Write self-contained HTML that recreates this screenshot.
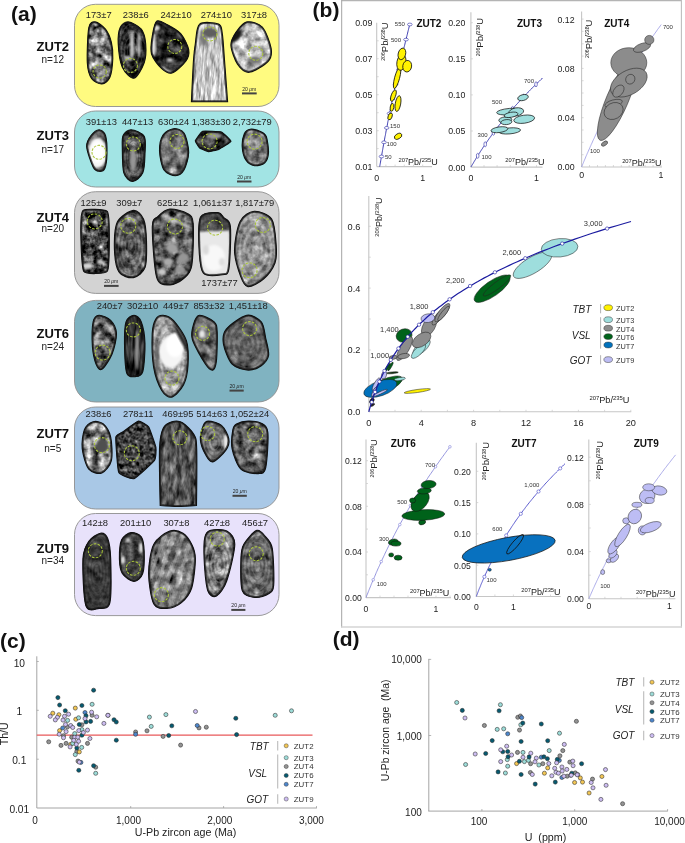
<!DOCTYPE html>
<html><head><meta charset="utf-8"><title>Zircon U-Pb figure</title>
<style>
html,body{margin:0;padding:0;background:#fff;}
body{width:685px;height:843px;overflow:hidden;}
svg{display:block;font-family:"Liberation Sans", sans-serif;will-change:transform;}
</style></head><body>
<svg width="685" height="843" viewBox="0 0 685 843">
<rect width="685" height="843" fill="#fff"/>
<rect x="74.5" y="4.3" width="204.5" height="102.2" rx="21" ry="21" fill="#FFFB80" stroke="#8e8e8e" stroke-width="0.9"/>
<rect x="74.5" y="111" width="204.5" height="76" rx="21" ry="21" fill="#A2E4E4" stroke="#8e8e8e" stroke-width="0.9"/>
<rect x="74.5" y="191.7" width="204.5" height="101.69999999999999" rx="21" ry="21" fill="#D3D3D3" stroke="#8e8e8e" stroke-width="0.9"/>
<rect x="74.5" y="300.4" width="204.5" height="101.60000000000002" rx="21" ry="21" fill="#80B3C1" stroke="#8e8e8e" stroke-width="0.9"/>
<rect x="74.5" y="407" width="204.5" height="102" rx="21" ry="21" fill="#A9C8E6" stroke="#8e8e8e" stroke-width="0.9"/>
<rect x="74.5" y="513.5" width="204.5" height="102.10000000000002" rx="21" ry="21" fill="#E8E2FB" stroke="#8e8e8e" stroke-width="0.9"/>
<text x="52.8" y="51.4" font-size="13" text-anchor="middle" font-weight="bold" font-style="normal" fill="#111" >ZUT2</text>
<text x="52.8" y="63.0" font-size="10" text-anchor="middle" font-weight="normal" font-style="normal" fill="#222" >n=12</text>
<text x="52.8" y="139.6" font-size="13" text-anchor="middle" font-weight="bold" font-style="normal" fill="#111" >ZUT3</text>
<text x="52.8" y="152.6" font-size="10" text-anchor="middle" font-weight="normal" font-style="normal" fill="#222" >n=17</text>
<text x="52.8" y="222.3" font-size="13" text-anchor="middle" font-weight="bold" font-style="normal" fill="#111" >ZUT4</text>
<text x="52.8" y="232.1" font-size="10" text-anchor="middle" font-weight="normal" font-style="normal" fill="#222" >n=20</text>
<text x="52.8" y="337.7" font-size="13" text-anchor="middle" font-weight="bold" font-style="normal" fill="#111" >ZUT6</text>
<text x="52.8" y="349.6" font-size="10" text-anchor="middle" font-weight="normal" font-style="normal" fill="#222" >n=24</text>
<text x="52.8" y="438.1" font-size="13" text-anchor="middle" font-weight="bold" font-style="normal" fill="#111" >ZUT7</text>
<text x="52.8" y="451.5" font-size="10" text-anchor="middle" font-weight="normal" font-style="normal" fill="#222" >n=5</text>
<text x="52.8" y="552.6" font-size="13" text-anchor="middle" font-weight="bold" font-style="normal" fill="#111" >ZUT9</text>
<text x="52.8" y="564.1" font-size="10" text-anchor="middle" font-weight="normal" font-style="normal" fill="#222" >n=34</text>
<text x="11.0" y="20.6" font-size="21" text-anchor="start" font-weight="bold" font-style="normal" fill="#111" >(a)</text>
<defs><filter id="bl" x="-20%" y="-20%" width="140%" height="140%"><feGaussianBlur stdDeviation="1.1"/></filter><filter id="bl2" x="-20%" y="-20%" width="140%" height="140%"><feGaussianBlur stdDeviation="0.5"/></filter><filter id="tz0" x="0" y="0" width="100%" height="100%" color-interpolation-filters="sRGB"><feTurbulence type="fractalNoise" baseFrequency="0.13 0.13" numOctaves="3" seed="3"/><feColorMatrix type="matrix" values="0.33 0.33 0.33 0 0 0.33 0.33 0.33 0 0 0.33 0.33 0.33 0 0 0 0 0 0 1"/><feComponentTransfer><feFuncR type="linear" slope="2.832" intercept="-0.938"/><feFuncG type="linear" slope="2.832" intercept="-0.938"/><feFuncB type="linear" slope="2.832" intercept="-0.938"/></feComponentTransfer></filter><clipPath id="zc0"><path d="M95.3,21.9 C97.8,22.1 103.1,26.1 105.5,29.2 C107.9,32.3 110.3,37.9 111.4,42.3 C112.5,46.7 113.0,53.1 112.8,58.4 C112.6,63.7 111.5,73.6 109.9,77.4 C108.3,81.2 104.6,83.7 101.9,83.9 C99.2,84.1 93.9,82.0 91.7,78.8 C89.5,75.6 87.7,70.5 87.3,62.8 C86.9,55.1 87.6,33.8 88.8,27.7 C90.0,21.6 92.8,21.7 95.3,21.9 Z"/></clipPath><filter id="tz1" x="0" y="0" width="100%" height="100%" color-interpolation-filters="sRGB"><feTurbulence type="fractalNoise" baseFrequency="0.13 0.13" numOctaves="3" seed="10"/><feColorMatrix type="matrix" values="0.33 0.33 0.33 0 0 0.33 0.33 0.33 0 0 0.33 0.33 0.33 0 0 0 0 0 0 1"/><feComponentTransfer><feFuncR type="linear" slope="1.961" intercept="-0.765"/><feFuncG type="linear" slope="1.961" intercept="-0.765"/><feFuncB type="linear" slope="1.961" intercept="-0.765"/></feComponentTransfer></filter><clipPath id="zc1"><path d="M128.2,21.9 C131.4,22.1 138.7,25.9 141.3,29.2 C143.9,32.5 145.3,38.8 145.7,43.8 C146.1,48.8 146.0,57.7 144.2,62.8 C142.4,67.9 137.3,77.4 134.0,78.1 C130.7,78.8 124.7,72.3 122.3,67.2 C119.9,62.1 118.5,49.7 118.2,43.8 C117.9,37.9 118.6,31.0 120.1,27.7 C121.6,24.4 125.0,21.7 128.2,21.9 Z"/></clipPath><filter id="tz2" x="0" y="0" width="100%" height="100%" color-interpolation-filters="sRGB"><feTurbulence type="fractalNoise" baseFrequency="0.13 0.13" numOctaves="3" seed="17"/><feColorMatrix type="matrix" values="0.33 0.33 0.33 0 0 0.33 0.33 0.33 0 0 0.33 0.33 0.33 0 0 0 0 0 0 1"/><feComponentTransfer><feFuncR type="linear" slope="1.307" intercept="-0.477"/><feFuncG type="linear" slope="1.307" intercept="-0.477"/><feFuncB type="linear" slope="1.307" intercept="-0.477"/></feComponentTransfer></filter><clipPath id="zc2"><path d="M156.6,21.2 C158.9,19.4 163.9,22.9 167.5,24.8 C171.1,26.7 177.5,29.9 180.7,33.6 C183.9,37.3 187.9,45.4 188.7,49.6 C189.5,53.8 188.3,57.8 185.8,61.3 C183.3,64.8 175.5,71.9 171.9,73.0 C168.3,74.1 164.8,71.4 161.7,68.6 C158.6,65.8 152.9,58.8 151.5,54.0 C150.1,49.2 151.4,41.4 152.2,36.5 C153.0,31.6 154.3,23.0 156.6,21.2 Z"/></clipPath><filter id="tz3" x="0" y="0" width="100%" height="100%" color-interpolation-filters="sRGB"><feTurbulence type="fractalNoise" baseFrequency="0.35 0.06" numOctaves="3" seed="24"/><feColorMatrix type="matrix" values="0.33 0.33 0.33 0 0 0.33 0.33 0.33 0 0 0.33 0.33 0.33 0 0 0 0 0 0 1"/><feComponentTransfer><feFuncR type="linear" slope="1.961" intercept="-0.196"/><feFuncG type="linear" slope="1.961" intercept="-0.196"/><feFuncB type="linear" slope="1.961" intercept="-0.196"/></feComponentTransfer></filter><clipPath id="zc3"><path d="M199.6,24.1 C203.1,21.1 215.2,22.7 218.6,24.1 C222.0,25.5 221.4,28.2 222.3,33.6 C223.2,39.0 223.7,49.8 224.5,60.0 C225.3,70.2 227.6,101.8 227.6,101.8 C227.6,101.8 191.4,101.8 191.4,101.8 C191.4,101.8 192.9,68.7 193.5,60.0 C194.1,51.3 194.4,49.2 195.3,43.8 C196.2,38.4 196.1,27.1 199.6,24.1 Z"/></clipPath><filter id="tz4" x="0" y="0" width="100%" height="100%" color-interpolation-filters="sRGB"><feTurbulence type="fractalNoise" baseFrequency="0.13 0.13" numOctaves="3" seed="31"/><feColorMatrix type="matrix" values="0.33 0.33 0.33 0 0 0.33 0.33 0.33 0 0 0.33 0.33 0.33 0 0 0 0 0 0 1"/><feComponentTransfer><feFuncR type="linear" slope="1.961" intercept="-0.196"/><feFuncG type="linear" slope="1.961" intercept="-0.196"/><feFuncB type="linear" slope="1.961" intercept="-0.196"/></feComponentTransfer></filter><clipPath id="zc4"><path d="M247.0,21.9 C250.9,21.1 258.7,23.1 262.3,27.0 C265.9,30.9 270.2,43.1 271.1,48.2 C272.0,53.3 271.5,57.7 268.2,61.3 C264.9,64.9 253.8,71.9 249.2,72.3 C244.6,72.7 240.2,68.2 237.5,64.2 C234.8,60.2 231.1,50.1 230.9,45.3 C230.7,40.5 233.7,35.6 236.1,32.1 C238.5,28.6 243.1,22.7 247.0,21.9 Z"/></clipPath><filter id="tz5" x="0" y="0" width="100%" height="100%" color-interpolation-filters="sRGB"><feTurbulence type="fractalNoise" baseFrequency="0.13 0.13" numOctaves="3" seed="38"/><feColorMatrix type="matrix" values="0.33 0.33 0.33 0 0 0.33 0.33 0.33 0 0 0.33 0.33 0.33 0 0 0 0 0 0 1"/><feComponentTransfer><feFuncR type="linear" slope="1.307" intercept="-0.222"/><feFuncG type="linear" slope="1.307" intercept="-0.222"/><feFuncB type="linear" slope="1.307" intercept="-0.222"/></feComponentTransfer></filter><clipPath id="zc5"><path d="M99.0,129.7 C101.2,129.7 104.3,131.9 105.5,135.5 C106.7,139.1 107.1,148.9 107.0,153.8 C106.9,158.7 106.0,165.8 104.8,168.4 C103.6,171.0 100.8,171.5 99.0,171.3 C97.2,171.1 95.0,170.6 93.1,166.9 C91.2,163.2 86.9,151.2 86.6,146.5 C86.3,141.8 89.1,138.0 91.0,135.5 C92.9,133.0 96.8,129.7 99.0,129.7 Z"/></clipPath><filter id="tz6" x="0" y="0" width="100%" height="100%" color-interpolation-filters="sRGB"><feTurbulence type="fractalNoise" baseFrequency="0.13 0.13" numOctaves="3" seed="45"/><feColorMatrix type="matrix" values="0.33 0.33 0.33 0 0 0.33 0.33 0.33 0 0 0.33 0.33 0.33 0 0 0 0 0 0 1"/><feComponentTransfer><feFuncR type="linear" slope="1.743" intercept="-0.577"/><feFuncG type="linear" slope="1.743" intercept="-0.577"/><feFuncB type="linear" slope="1.743" intercept="-0.577"/></feComponentTransfer></filter><clipPath id="zc6"><path d="M131.1,129.7 C134.3,129.8 142.1,132.7 144.2,136.3 C146.3,139.9 145.2,148.3 145.0,153.8 C144.8,159.3 144.7,168.6 142.8,172.8 C140.9,177.0 135.4,181.5 132.6,181.5 C129.8,181.5 125.3,177.8 123.8,172.8 C122.3,167.8 122.4,153.6 122.3,148.0 C122.2,142.4 121.8,138.2 123.1,135.5 C124.4,132.8 127.9,129.6 131.1,129.7 Z"/></clipPath><filter id="tz7" x="0" y="0" width="100%" height="100%" color-interpolation-filters="sRGB"><feTurbulence type="fractalNoise" baseFrequency="0.13 0.13" numOctaves="3" seed="52"/><feColorMatrix type="matrix" values="0.33 0.33 0.33 0 0 0.33 0.33 0.33 0 0 0.33 0.33 0.33 0 0 0 0 0 0 1"/><feComponentTransfer><feFuncR type="linear" slope="1.525" intercept="-0.312"/><feFuncG type="linear" slope="1.525" intercept="-0.312"/><feFuncB type="linear" slope="1.525" intercept="-0.312"/></feComponentTransfer></filter><clipPath id="zc7"><path d="M173.4,128.7 C176.6,128.4 181.7,129.5 184.0,133.0 C186.3,136.5 188.7,146.8 188.7,152.3 C188.7,157.9 186.0,166.5 184.0,170.0 C182.0,173.5 178.5,175.7 175.5,175.7 C172.5,175.7 166.4,173.7 164.0,170.0 C161.6,166.3 159.7,156.2 159.5,150.9 C159.3,145.7 160.9,138.3 163.0,135.0 C165.1,131.7 170.2,129.0 173.4,128.7 Z"/></clipPath><filter id="tz8" x="0" y="0" width="100%" height="100%" color-interpolation-filters="sRGB"><feTurbulence type="fractalNoise" baseFrequency="0.13 0.13" numOctaves="3" seed="59"/><feColorMatrix type="matrix" values="0.33 0.33 0.33 0 0 0.33 0.33 0.33 0 0 0.33 0.33 0.33 0 0 0 0 0 0 1"/><feComponentTransfer><feFuncR type="linear" slope="1.743" intercept="-0.636"/><feFuncG type="linear" slope="1.743" intercept="-0.636"/><feFuncB type="linear" slope="1.743" intercept="-0.636"/></feComponentTransfer></filter><clipPath id="zc8"><path d="M195.3,140.7 C195.5,139.9 201.3,131.6 202.6,131.2 C203.9,130.8 220.1,131.4 221.5,131.9 C222.9,132.4 231.1,140.5 231.0,141.4 C230.9,142.3 219.7,148.9 218.6,149.4 C217.5,149.9 209.3,151.7 208.4,151.6 C207.5,151.5 200.3,148.5 199.6,148.0 C198.9,147.5 195.2,141.5 195.3,140.7 Z"/></clipPath><filter id="tz9" x="0" y="0" width="100%" height="100%" color-interpolation-filters="sRGB"><feTurbulence type="fractalNoise" baseFrequency="0.13 0.13" numOctaves="3" seed="66"/><feColorMatrix type="matrix" values="0.33 0.33 0.33 0 0 0.33 0.33 0.33 0 0 0.33 0.33 0.33 0 0 0 0 0 0 1"/><feComponentTransfer><feFuncR type="linear" slope="1.743" intercept="-0.381"/><feFuncG type="linear" slope="1.743" intercept="-0.381"/><feFuncB type="linear" slope="1.743" intercept="-0.381"/></feComponentTransfer></filter><clipPath id="zc9"><path d="M250.2,129.2 C252.6,128.9 258.0,130.3 260.4,131.4 C262.8,132.5 265.1,133.3 266.3,136.5 C267.5,139.7 268.7,148.7 268.5,152.6 C268.3,156.5 266.9,160.8 264.8,162.8 C262.7,164.8 257.4,166.1 254.6,165.7 C251.8,165.3 247.7,162.8 245.8,159.9 C243.9,157.1 242.4,150.6 242.2,146.7 C242.0,142.8 243.2,136.2 244.4,133.6 C245.6,131.0 247.8,129.5 250.2,129.2 Z"/></clipPath><filter id="tz10" x="0" y="0" width="100%" height="100%" color-interpolation-filters="sRGB"><feTurbulence type="fractalNoise" baseFrequency="0.16 0.16" numOctaves="3" seed="73"/><feColorMatrix type="matrix" values="0.33 0.33 0.33 0 0 0.33 0.33 0.33 0 0 0.33 0.33 0.33 0 0 0 0 0 0 1"/><feComponentTransfer><feFuncR type="linear" slope="2.397" intercept="-0.904"/><feFuncG type="linear" slope="2.397" intercept="-0.904"/><feFuncB type="linear" slope="2.397" intercept="-0.904"/></feComponentTransfer></filter><clipPath id="zc10"><path d="M83.0,210.4 C85.2,208.5 104.9,209.2 107.1,211.2 C109.3,213.1 109.3,228.8 109.3,233.8 C109.3,238.8 109.6,267.9 107.5,271.0 C105.4,274.1 86.0,274.6 83.8,271.5 C81.6,268.4 80.9,238.9 80.8,233.8 C80.7,228.7 80.8,212.3 83.0,210.4 Z"/></clipPath><filter id="tz11" x="0" y="0" width="100%" height="100%" color-interpolation-filters="sRGB"><feTurbulence type="fractalNoise" baseFrequency="0.13 0.13" numOctaves="3" seed="80"/><feColorMatrix type="matrix" values="0.33 0.33 0.33 0 0 0.33 0.33 0.33 0 0 0.33 0.33 0.33 0 0 0 0 0 0 1"/><feComponentTransfer><feFuncR type="linear" slope="1.961" intercept="-0.608"/><feFuncG type="linear" slope="1.961" intercept="-0.608"/><feFuncB type="linear" slope="1.961" intercept="-0.608"/></feComponentTransfer></filter><clipPath id="zc11"><path d="M133.4,210.4 C137.3,210.0 141.6,214.6 143.6,219.2 C145.6,223.8 146.3,233.9 146.5,241.1 C146.7,248.3 147.1,261.9 145.1,267.4 C143.1,272.9 137.3,276.9 133.4,277.6 C129.5,278.3 121.6,276.2 118.8,271.8 C116.0,267.4 114.6,255.9 114.4,248.4 C114.2,240.9 114.5,227.8 117.3,222.1 C120.1,216.4 129.5,210.8 133.4,210.4 Z"/></clipPath><filter id="tz12" x="0" y="0" width="100%" height="100%" color-interpolation-filters="sRGB"><feTurbulence type="fractalNoise" baseFrequency="0.13 0.13" numOctaves="3" seed="87"/><feColorMatrix type="matrix" values="0.33 0.33 0.33 0 0 0.33 0.33 0.33 0 0 0.33 0.33 0.33 0 0 0 0 0 0 1"/><feComponentTransfer><feFuncR type="linear" slope="1.961" intercept="-0.608"/><feFuncG type="linear" slope="1.961" intercept="-0.608"/><feFuncB type="linear" slope="1.961" intercept="-0.608"/></feComponentTransfer></filter><clipPath id="zc12"><path d="M169.8,209.0 C174.2,208.6 183.8,211.2 187.3,213.4 C190.8,215.6 192.5,215.7 193.2,223.6 C193.9,231.5 193.2,257.6 191.7,265.9 C190.2,274.2 186.3,276.1 183.0,279.0 C179.7,281.9 173.7,285.1 169.8,284.9 C165.9,284.7 159.3,286.4 156.7,277.6 C154.1,268.8 152.1,235.7 152.3,226.5 C152.5,217.3 155.5,218.9 158.1,216.3 C160.7,213.7 165.4,209.4 169.8,209.0 Z"/></clipPath><filter id="tz13" x="0" y="0" width="100%" height="100%" color-interpolation-filters="sRGB"><feTurbulence type="fractalNoise" baseFrequency="0.13 0.13" numOctaves="3" seed="94"/><feColorMatrix type="matrix" values="0.33 0.33 0.33 0 0 0.33 0.33 0.33 0 0 0.33 0.33 0.33 0 0 0 0 0 0 1"/><feComponentTransfer><feFuncR type="linear" slope="1.089" intercept="-0.251"/><feFuncG type="linear" slope="1.089" intercept="-0.251"/><feFuncB type="linear" slope="1.089" intercept="-0.251"/></feComponentTransfer></filter><clipPath id="zc13"><path d="M200.5,217.0 C203.3,211.6 214.5,212.5 218.0,212.6 C221.5,212.7 221.9,215.6 223.8,217.7 C225.7,219.8 229.6,218.8 230.4,226.5 C231.2,234.2 230.1,261.6 228.9,268.8 C227.7,276.0 226.2,274.0 222.4,274.7 C218.6,275.4 206.9,277.1 203.4,273.2 C199.9,269.3 199.4,256.8 199.0,248.4 C198.6,240.0 197.7,222.4 200.5,217.0 Z"/></clipPath><filter id="tz14" x="0" y="0" width="100%" height="100%" color-interpolation-filters="sRGB"><feTurbulence type="fractalNoise" baseFrequency="0.13 0.13" numOctaves="3" seed="101"/><feColorMatrix type="matrix" values="0.33 0.33 0.33 0 0 0.33 0.33 0.33 0 0 0.33 0.33 0.33 0 0 0 0 0 0 1"/><feComponentTransfer><feFuncR type="linear" slope="1.743" intercept="-0.283"/><feFuncG type="linear" slope="1.743" intercept="-0.283"/><feFuncB type="linear" slope="1.743" intercept="-0.283"/></feComponentTransfer></filter><clipPath id="zc14"><path d="M254.2,211.3 C258.9,211.0 268.4,214.0 271.7,219.1 C275.0,224.2 275.7,238.4 276.2,245.0 C276.7,251.6 276.9,257.9 275.0,263.0 C273.1,268.1 267.9,275.2 263.8,278.8 C259.8,282.4 251.5,287.0 248.0,286.7 C244.5,286.4 242.7,282.0 240.7,276.6 C238.7,271.2 234.6,259.0 234.5,250.7 C234.4,242.4 237.1,227.3 240.1,221.4 C243.1,215.5 249.5,211.6 254.2,211.3 Z"/></clipPath><filter id="tz15" x="0" y="0" width="100%" height="100%" color-interpolation-filters="sRGB"><feTurbulence type="fractalNoise" baseFrequency="0.13 0.13" numOctaves="3" seed="108"/><feColorMatrix type="matrix" values="0.33 0.33 0.33 0 0 0.33 0.33 0.33 0 0 0.33 0.33 0.33 0 0 0 0 0 0 1"/><feComponentTransfer><feFuncR type="linear" slope="2.179" intercept="-0.678"/><feFuncG type="linear" slope="2.179" intercept="-0.678"/><feFuncB type="linear" slope="2.179" intercept="-0.678"/></feComponentTransfer></filter><clipPath id="zc15"><path d="M99.0,315.3 C101.6,315.1 108.1,317.7 110.7,320.4 C113.3,323.1 116.3,328.6 116.5,333.6 C116.7,338.6 114.3,348.6 112.1,354.0 C109.9,359.4 104.3,367.8 101.9,369.3 C99.5,370.8 97.5,367.6 96.1,364.2 C94.7,360.8 92.9,353.0 92.4,346.7 C92.0,340.4 92.1,326.6 93.1,321.9 C94.1,317.2 96.4,315.5 99.0,315.3 Z"/></clipPath><filter id="tz16" x="0" y="0" width="100%" height="100%" color-interpolation-filters="sRGB"><feTurbulence type="fractalNoise" baseFrequency="0.3 0.05" numOctaves="3" seed="115"/><feColorMatrix type="matrix" values="0.33 0.33 0.33 0 0 0.33 0.33 0.33 0 0 0.33 0.33 0.33 0 0 0 0 0 0 1"/><feComponentTransfer><feFuncR type="linear" slope="1.089" intercept="-0.368"/><feFuncG type="linear" slope="1.089" intercept="-0.368"/><feFuncB type="linear" slope="1.089" intercept="-0.368"/></feComponentTransfer></filter><clipPath id="zc16"><path d="M134.0,315.3 C136.3,315.3 139.7,317.6 141.3,321.9 C143.0,326.2 144.8,336.4 145.0,343.8 C145.2,351.2 144.2,366.6 142.8,371.5 C141.4,376.4 137.9,376.4 135.5,376.6 C133.1,376.8 128.3,377.9 126.7,373.0 C125.0,368.1 124.6,351.5 124.5,343.8 C124.4,336.1 124.6,326.2 126.0,321.9 C127.4,317.6 131.7,315.3 134.0,315.3 Z"/></clipPath><filter id="tz17" x="0" y="0" width="100%" height="100%" color-interpolation-filters="sRGB"><feTurbulence type="fractalNoise" baseFrequency="0.13 0.13" numOctaves="3" seed="122"/><feColorMatrix type="matrix" values="0.33 0.33 0.33 0 0 0.33 0.33 0.33 0 0 0.33 0.33 0.33 0 0 0 0 0 0 1"/><feComponentTransfer><feFuncR type="linear" slope="1.743" intercept="-0.244"/><feFuncG type="linear" slope="1.743" intercept="-0.244"/><feFuncB type="linear" slope="1.743" intercept="-0.244"/></feComponentTransfer></filter><clipPath id="zc17"><path d="M163.1,315.3 C165.7,315.5 169.9,316.6 173.4,320.4 C176.9,324.2 184.3,334.1 186.5,340.9 C188.7,347.7 188.4,359.1 188.0,365.7 C187.6,372.3 186.0,380.0 183.6,384.7 C181.2,389.4 175.2,396.2 171.9,397.1 C168.6,398.0 164.4,395.0 161.7,390.5 C159.0,386.0 155.0,375.7 153.6,367.2 C152.2,358.7 151.9,340.8 152.2,333.6 C152.5,326.4 154.2,321.7 155.8,319.0 C157.4,316.3 160.5,315.1 163.1,315.3 Z"/></clipPath><filter id="tz18" x="0" y="0" width="100%" height="100%" color-interpolation-filters="sRGB"><feTurbulence type="fractalNoise" baseFrequency="0.13 0.13" numOctaves="3" seed="129"/><feColorMatrix type="matrix" values="0.33 0.33 0.33 0 0 0.33 0.33 0.33 0 0 0.33 0.33 0.33 0 0 0 0 0 0 1"/><feComponentTransfer><feFuncR type="linear" slope="1.307" intercept="-0.222"/><feFuncG type="linear" slope="1.307" intercept="-0.222"/><feFuncB type="linear" slope="1.307" intercept="-0.222"/></feComponentTransfer></filter><clipPath id="zc18"><path d="M199.6,315.3 C202.7,315.1 211.6,319.4 214.2,321.9 C216.8,324.4 216.9,326.2 217.2,332.1 C217.5,338.0 217.1,355.6 216.4,361.3 C215.7,367.0 214.4,369.7 212.8,370.1 C211.2,370.5 208.6,368.8 205.5,364.2 C202.4,359.6 194.1,345.5 192.3,339.4 C190.5,333.3 192.7,327.0 193.8,323.4 C194.9,319.8 196.5,315.5 199.6,315.3 Z"/></clipPath><filter id="tz19" x="0" y="0" width="100%" height="100%" color-interpolation-filters="sRGB"><feTurbulence type="fractalNoise" baseFrequency="0.13 0.13" numOctaves="3" seed="136"/><feColorMatrix type="matrix" values="0.33 0.33 0.33 0 0 0.33 0.33 0.33 0 0 0.33 0.33 0.33 0 0 0 0 0 0 1"/><feComponentTransfer><feFuncR type="linear" slope="1.307" intercept="-0.261"/><feFuncG type="linear" slope="1.307" intercept="-0.261"/><feFuncB type="linear" slope="1.307" intercept="-0.261"/></feComponentTransfer></filter><clipPath id="zc19"><path d="M246.7,315.3 C251.9,314.2 258.4,318.5 261.3,321.9 C264.2,325.3 264.6,333.0 265.7,338.0 C266.8,343.0 269.3,351.3 268.6,355.5 C267.9,359.7 264.4,363.5 261.3,365.7 C258.2,367.9 252.6,370.3 248.2,370.1 C243.8,369.9 235.8,368.1 232.1,364.2 C228.4,360.3 224.3,349.1 223.4,343.8 C222.5,338.6 222.8,333.5 226.3,329.2 C229.8,324.9 241.4,316.4 246.7,315.3 Z"/></clipPath><filter id="tz20" x="0" y="0" width="100%" height="100%" color-interpolation-filters="sRGB"><feTurbulence type="fractalNoise" baseFrequency="0.13 0.13" numOctaves="3" seed="143"/><feColorMatrix type="matrix" values="0.33 0.33 0.33 0 0 0.33 0.33 0.33 0 0 0.33 0.33 0.33 0 0 0 0 0 0 1"/><feComponentTransfer><feFuncR type="linear" slope="2.397" intercept="-0.649"/><feFuncG type="linear" slope="2.397" intercept="-0.649"/><feFuncB type="linear" slope="2.397" intercept="-0.649"/></feComponentTransfer></filter><clipPath id="zc20"><path d="M93.1,421.8 C95.9,420.9 100.8,421.7 103.4,424.0 C106.0,426.3 109.5,431.6 110.7,437.1 C111.9,442.6 112.7,455.1 111.4,460.5 C110.1,465.9 105.3,471.6 101.9,472.9 C98.5,474.2 91.8,472.8 88.8,469.2 C85.8,465.6 82.9,454.7 82.2,448.8 C81.5,442.9 82.8,433.9 84.4,429.8 C86.0,425.8 90.2,422.7 93.1,421.8 Z"/></clipPath><filter id="tz21" x="0" y="0" width="100%" height="100%" color-interpolation-filters="sRGB"><feTurbulence type="fractalNoise" baseFrequency="0.25 0.25" numOctaves="3" seed="150"/><feColorMatrix type="matrix" values="0.33 0.33 0.33 0 0 0.33 0.33 0.33 0 0 0.33 0.33 0.33 0 0 0 0 0 0 1"/><feComponentTransfer><feFuncR type="linear" slope="1.656" intercept="-0.561"/><feFuncG type="linear" slope="1.656" intercept="-0.561"/><feFuncB type="linear" slope="1.656" intercept="-0.561"/></feComponentTransfer></filter><clipPath id="zc21"><path d="M138.4,421.1 C140.1,420.8 147.4,425.2 148.6,426.9 C149.8,428.6 155.5,445.1 155.9,447.3 C156.3,449.5 156.0,458.4 154.5,460.5 C153.0,462.6 136.4,477.9 134.0,478.7 C131.6,479.5 119.9,475.0 118.7,472.2 C117.5,469.4 115.5,439.8 115.8,437.1 C116.1,434.4 122.3,432.4 123.8,431.3 C125.3,430.2 136.7,421.4 138.4,421.1 Z"/></clipPath><filter id="tz22" x="0" y="0" width="100%" height="100%" color-interpolation-filters="sRGB"><feTurbulence type="fractalNoise" baseFrequency="0.22 0.08" numOctaves="3" seed="157"/><feColorMatrix type="matrix" values="0.33 0.33 0.33 0 0 0.33 0.33 0.33 0 0 0.33 0.33 0.33 0 0 0 0 0 0 1"/><feComponentTransfer><feFuncR type="linear" slope="1.525" intercept="-0.410"/><feFuncG type="linear" slope="1.525" intercept="-0.410"/><feFuncB type="linear" slope="1.525" intercept="-0.410"/></feComponentTransfer></filter><clipPath id="zc22"><path d="M171.9,421.8 C174.8,420.9 178.8,420.6 182.1,422.5 C185.4,424.4 191.6,430.3 193.8,434.2 C196.0,438.1 196.3,438.1 196.7,448.8 C197.1,459.5 196.5,505.5 196.5,505.5 C196.5,505.5 183.4,506.5 178.0,506.5 C172.6,506.5 160.2,505.5 160.2,505.5 C160.2,505.5 159.1,460.4 159.5,448.8 C159.9,437.2 161.2,432.4 163.1,428.4 C165.0,424.3 169.1,422.7 171.9,421.8 Z"/></clipPath><filter id="tz23" x="0" y="0" width="100%" height="100%" color-interpolation-filters="sRGB"><feTurbulence type="fractalNoise" baseFrequency="0.13 0.13" numOctaves="3" seed="164"/><feColorMatrix type="matrix" values="0.33 0.33 0.33 0 0 0.33 0.33 0.33 0 0 0.33 0.33 0.33 0 0 0 0 0 0 1"/><feComponentTransfer><feFuncR type="linear" slope="1.743" intercept="-0.440"/><feFuncG type="linear" slope="1.743" intercept="-0.440"/><feFuncB type="linear" slope="1.743" intercept="-0.440"/></feComponentTransfer></filter><clipPath id="zc23"><path d="M208.4,421.1 C211.1,421.1 218.4,422.8 221.5,425.4 C224.6,428.0 228.1,434.9 228.8,438.6 C229.5,442.3 228.3,446.8 225.9,450.3 C223.5,453.8 215.9,461.3 212.8,461.9 C209.7,462.5 207.4,457.9 205.5,454.6 C203.6,451.3 200.7,444.4 200.4,440.0 C200.1,435.6 202.1,428.2 203.3,425.4 C204.5,422.6 205.7,421.1 208.4,421.1 Z"/></clipPath><filter id="tz24" x="0" y="0" width="100%" height="100%" color-interpolation-filters="sRGB"><feTurbulence type="fractalNoise" baseFrequency="0.13 0.13" numOctaves="3" seed="171"/><feColorMatrix type="matrix" values="0.33 0.33 0.33 0 0 0.33 0.33 0.33 0 0 0.33 0.33 0.33 0 0 0 0 0 0 1"/><feComponentTransfer><feFuncR type="linear" slope="1.961" intercept="-0.588"/><feFuncG type="linear" slope="1.961" intercept="-0.588"/><feFuncB type="linear" slope="1.961" intercept="-0.588"/></feComponentTransfer></filter><clipPath id="zc24"><path d="M236.5,424.0 C238.8,422.7 244.5,421.2 248.2,421.1 C251.9,421.0 258.3,421.5 261.3,423.2 C264.3,424.9 267.2,426.0 267.9,432.7 C268.6,439.4 267.1,461.7 265.7,467.8 C264.3,473.9 262.1,473.4 258.4,473.6 C254.7,473.8 244.8,472.9 240.9,469.2 C237.0,465.5 233.3,454.7 232.1,448.8 C230.9,442.9 232.1,433.5 232.8,429.8 C233.5,426.1 234.2,425.3 236.5,424.0 Z"/></clipPath><filter id="tz25" x="0" y="0" width="100%" height="100%" color-interpolation-filters="sRGB"><feTurbulence type="fractalNoise" baseFrequency="0.13 0.13" numOctaves="3" seed="178"/><feColorMatrix type="matrix" values="0.33 0.33 0.33 0 0 0.33 0.33 0.33 0 0 0.33 0.33 0.33 0 0 0 0 0 0 1"/><feComponentTransfer><feFuncR type="linear" slope="0.871" intercept="-0.200"/><feFuncG type="linear" slope="0.871" intercept="-0.200"/><feFuncB type="linear" slope="0.871" intercept="-0.200"/></feComponentTransfer></filter><clipPath id="zc25"><path d="M100.4,533.2 C103.2,532.8 106.2,534.6 107.7,538.4 C109.2,542.2 110.4,549.2 110.7,558.8 C111.0,568.4 111.7,595.2 109.9,602.6 C108.1,610.0 102.6,608.0 99.0,608.4 C95.4,608.8 88.2,612.9 85.8,605.5 C83.4,598.1 82.5,568.4 82.9,558.8 C83.4,549.2 86.2,545.1 88.8,541.3 C91.4,537.5 97.6,533.6 100.4,533.2 Z"/></clipPath><filter id="tz26" x="0" y="0" width="100%" height="100%" color-interpolation-filters="sRGB"><feTurbulence type="fractalNoise" baseFrequency="0.15 0.15" numOctaves="3" seed="185"/><feColorMatrix type="matrix" values="0.33 0.33 0.33 0 0 0.33 0.33 0.33 0 0 0.33 0.33 0.33 0 0 0 0 0 0 1"/><feComponentTransfer><feFuncR type="linear" slope="1.089" intercept="-0.270"/><feFuncG type="linear" slope="1.089" intercept="-0.270"/><feFuncB type="linear" slope="1.089" intercept="-0.270"/></feComponentTransfer></filter><clipPath id="zc26"><path d="M131.1,532.5 C134.1,532.1 139.3,534.0 141.3,536.9 C143.3,539.8 144.0,546.0 144.2,551.5 C144.4,557.0 144.3,568.9 142.8,573.4 C141.3,577.9 137.1,581.4 134.0,581.4 C130.9,581.4 124.5,576.8 122.3,573.4 C120.1,570.0 119.5,563.8 119.4,558.8 C119.3,553.8 119.8,543.7 121.6,539.8 C123.4,535.9 128.1,532.9 131.1,532.5 Z"/></clipPath><filter id="tz27" x="0" y="0" width="100%" height="100%" color-interpolation-filters="sRGB"><feTurbulence type="fractalNoise" baseFrequency="0.13 0.13" numOctaves="3" seed="192"/><feColorMatrix type="matrix" values="0.33 0.33 0.33 0 0 0.33 0.33 0.33 0 0 0.33 0.33 0.33 0 0 0 0 0 0 1"/><feComponentTransfer><feFuncR type="linear" slope="1.961" intercept="-0.471"/><feFuncG type="linear" slope="1.961" intercept="-0.471"/><feFuncB type="linear" slope="1.961" intercept="-0.471"/></feComponentTransfer></filter><clipPath id="zc27"><path d="M169.8,531.1 C174.2,529.5 179.7,531.2 183.0,533.2 C186.3,535.2 189.8,540.4 191.7,544.2 C193.6,548.0 195.4,552.2 195.4,558.8 C195.4,565.4 193.8,581.4 191.7,588.0 C189.6,594.6 185.2,599.5 181.5,602.6 C177.8,605.7 171.1,608.2 166.9,608.4 C162.7,608.6 156.5,609.2 153.8,604.0 C151.1,598.8 148.6,582.4 148.6,573.4 C148.6,564.4 150.6,550.5 153.8,544.2 C157.0,537.9 165.4,532.8 169.8,531.1 Z"/></clipPath><filter id="tz28" x="0" y="0" width="100%" height="100%" color-interpolation-filters="sRGB"><feTurbulence type="fractalNoise" baseFrequency="0.13 0.13" numOctaves="3" seed="199"/><feColorMatrix type="matrix" values="0.33 0.33 0.33 0 0 0.33 0.33 0.33 0 0 0.33 0.33 0.33 0 0 0 0 0 0 1"/><feComponentTransfer><feFuncR type="linear" slope="2.179" intercept="-0.560"/><feFuncG type="linear" slope="2.179" intercept="-0.560"/><feFuncB type="linear" slope="2.179" intercept="-0.560"/></feComponentTransfer></filter><clipPath id="zc28"><path d="M210.7,530.3 C214.0,529.4 223.2,529.0 226.8,531.1 C230.4,533.2 234.8,536.8 234.8,544.2 C234.8,551.6 229.5,572.9 226.8,580.7 C224.1,588.5 219.3,594.5 216.5,596.0 C213.7,597.5 209.7,596.5 207.8,590.9 C205.9,585.3 204.5,566.9 204.1,558.8 C203.7,550.7 203.9,541.2 204.9,536.9 C205.9,532.6 207.4,531.2 210.7,530.3 Z"/></clipPath><filter id="tz29" x="0" y="0" width="100%" height="100%" color-interpolation-filters="sRGB"><feTurbulence type="fractalNoise" baseFrequency="0.13 0.13" numOctaves="3" seed="206"/><feColorMatrix type="matrix" values="0.33 0.33 0.33 0 0 0.33 0.33 0.33 0 0 0.33 0.33 0.33 0 0 0 0 0 0 1"/><feComponentTransfer><feFuncR type="linear" slope="1.743" intercept="-0.460"/><feFuncG type="linear" slope="1.743" intercept="-0.460"/><feFuncB type="linear" slope="1.743" intercept="-0.460"/></feComponentTransfer></filter><clipPath id="zc29"><path d="M256.9,530.3 C260.2,529.2 263.4,534.2 265.7,536.9 C268.0,539.6 271.1,541.4 272.3,548.6 C273.5,555.8 274.3,578.3 273.7,585.1 C273.1,591.9 271.3,591.9 268.6,593.8 C265.9,595.7 259.4,597.9 255.5,597.5 C251.6,597.1 244.5,596.7 242.3,590.9 C240.1,585.1 240.7,565.8 240.9,558.8 C241.1,551.8 241.4,548.5 243.8,544.2 C246.2,539.9 253.6,531.4 256.9,530.3 Z"/></clipPath><clipPath id="bx0"><rect x="74.5" y="4.3" width="204.5" height="102.2" rx="21" ry="21"/></clipPath><clipPath id="bx1"><rect x="74.5" y="111" width="204.5" height="76" rx="21" ry="21"/></clipPath><clipPath id="bx2"><rect x="74.5" y="191.7" width="204.5" height="101.69999999999999" rx="21" ry="21"/></clipPath><clipPath id="bx3"><rect x="74.5" y="300.4" width="204.5" height="101.60000000000002" rx="21" ry="21"/></clipPath><clipPath id="bx4"><rect x="74.5" y="407" width="204.5" height="102" rx="21" ry="21"/></clipPath><clipPath id="bx5"><rect x="74.5" y="513.5" width="204.5" height="102.10000000000002" rx="21" ry="21"/></clipPath></defs>
<g clip-path="url(#bx0)">
<g clip-path="url(#zc0)">
<rect x="85.3" y="19.9" width="29.5" height="66.0" fill="#888" filter="url(#tz0)"/>
<path d="M95.3,21.9 C97.8,22.1 103.1,26.1 105.5,29.2 C107.9,32.3 110.3,37.9 111.4,42.3 C112.5,46.7 113.0,53.1 112.8,58.4 C112.6,63.7 111.5,73.6 109.9,77.4 C108.3,81.2 104.6,83.7 101.9,83.9 C99.2,84.1 93.9,82.0 91.7,78.8 C89.5,75.6 87.7,70.5 87.3,62.8 C86.9,55.1 87.6,33.8 88.8,27.7 C90.0,21.6 92.8,21.7 95.3,21.9 Z" fill="none" stroke="#151515" stroke-width="3.0" opacity="0.7" filter="url(#bl2)"/>
</g>
<path d="M95.3,21.9 C97.8,22.1 103.1,26.1 105.5,29.2 C107.9,32.3 110.3,37.9 111.4,42.3 C112.5,46.7 113.0,53.1 112.8,58.4 C112.6,63.7 111.5,73.6 109.9,77.4 C108.3,81.2 104.6,83.7 101.9,83.9 C99.2,84.1 93.9,82.0 91.7,78.8 C89.5,75.6 87.7,70.5 87.3,62.8 C86.9,55.1 87.6,33.8 88.8,27.7 C90.0,21.6 92.8,21.7 95.3,21.9 Z" fill="none" stroke="#111" stroke-width="1.1"/>
</g>
<circle cx="99.7" cy="71.5" r="6.6" fill="none" stroke="#abc63c" stroke-width="1.05" stroke-dasharray="2.6,1.3"/>
<text x="98.7" y="17.8" font-size="9.4" text-anchor="middle" fill="#222">173±7</text>
<g clip-path="url(#bx0)">
<g clip-path="url(#zc1)">
<rect x="116.2" y="19.9" width="31.5" height="60.2" fill="#888" filter="url(#tz1)"/>
<g filter="url(#bl2)" opacity="0.32">
<ellipse cx="131.9" cy="51.5" rx="13.3" ry="27.3" fill="none" stroke="rgb(100,100,100)" stroke-width="1.2"/>
<ellipse cx="131.9" cy="51.5" rx="11.9" ry="24.2" fill="none" stroke="rgb(10,10,10)" stroke-width="1.2"/>
<ellipse cx="131.9" cy="51.5" rx="10.4" ry="21.2" fill="none" stroke="rgb(100,100,100)" stroke-width="1.2"/>
<ellipse cx="131.9" cy="51.5" rx="8.9" ry="18.2" fill="none" stroke="rgb(10,10,10)" stroke-width="1.2"/>
<ellipse cx="131.9" cy="51.5" rx="7.4" ry="15.1" fill="none" stroke="rgb(100,100,100)" stroke-width="1.2"/>
<ellipse cx="131.9" cy="51.5" rx="5.9" ry="12.1" fill="none" stroke="rgb(10,10,10)" stroke-width="1.2"/>
<ellipse cx="131.9" cy="51.5" rx="4.4" ry="9.1" fill="none" stroke="rgb(100,100,100)" stroke-width="1.2"/>
<ellipse cx="131.9" cy="51.5" rx="3.0" ry="6.1" fill="none" stroke="rgb(10,10,10)" stroke-width="1.2"/>
<ellipse cx="131.9" cy="51.5" rx="1.5" ry="3.0" fill="none" stroke="rgb(100,100,100)" stroke-width="1.2"/>
</g>
<ellipse cx="132" cy="45" rx="2" ry="14" fill="rgb(200,200,200)" filter="url(#bl)" transform="rotate(0 132 45)"/>
<ellipse cx="139" cy="45" rx="1.5" ry="13" fill="rgb(190,190,190)" filter="url(#bl)" transform="rotate(0 139 45)"/>
<ellipse cx="128" cy="58" rx="4" ry="1.5" fill="rgb(210,210,210)" filter="url(#bl)" transform="rotate(20 128 58)"/>
<path d="M128.2,21.9 C131.4,22.1 138.7,25.9 141.3,29.2 C143.9,32.5 145.3,38.8 145.7,43.8 C146.1,48.8 146.0,57.7 144.2,62.8 C142.4,67.9 137.3,77.4 134.0,78.1 C130.7,78.8 124.7,72.3 122.3,67.2 C119.9,62.1 118.5,49.7 118.2,43.8 C117.9,37.9 118.6,31.0 120.1,27.7 C121.6,24.4 125.0,21.7 128.2,21.9 Z" fill="none" stroke="#151515" stroke-width="3.0" opacity="0.7" filter="url(#bl2)"/>
</g>
<path d="M128.2,21.9 C131.4,22.1 138.7,25.9 141.3,29.2 C143.9,32.5 145.3,38.8 145.7,43.8 C146.1,48.8 146.0,57.7 144.2,62.8 C142.4,67.9 137.3,77.4 134.0,78.1 C130.7,78.8 124.7,72.3 122.3,67.2 C119.9,62.1 118.5,49.7 118.2,43.8 C117.9,37.9 118.6,31.0 120.1,27.7 C121.6,24.4 125.0,21.7 128.2,21.9 Z" fill="none" stroke="#111" stroke-width="1.1"/>
</g>
<circle cx="130.4" cy="65.4" r="7" fill="none" stroke="#abc63c" stroke-width="1.05" stroke-dasharray="2.6,1.3"/>
<text x="135.8" y="17.8" font-size="9.4" text-anchor="middle" fill="#222">238±6</text>
<g clip-path="url(#bx0)">
<g clip-path="url(#zc2)">
<rect x="149.5" y="19.2" width="41.2" height="55.8" fill="#888" filter="url(#tz2)"/>
<ellipse cx="153.5" cy="45" rx="2.5" ry="12" fill="rgb(225,225,225)" filter="url(#bl)" transform="rotate(0 153.5 45)"/>
<ellipse cx="165" cy="71" rx="8" ry="2.5" fill="rgb(220,220,220)" filter="url(#bl)" transform="rotate(30 165 71)"/>
<ellipse cx="156" cy="28" rx="4" ry="3" fill="rgb(215,215,215)" filter="url(#bl)" transform="rotate(0 156 28)"/>
<ellipse cx="170" cy="60" rx="3" ry="2" fill="rgb(200,200,200)" filter="url(#bl)" transform="rotate(0 170 60)"/>
<path d="M156.6,21.2 C158.9,19.4 163.9,22.9 167.5,24.8 C171.1,26.7 177.5,29.9 180.7,33.6 C183.9,37.3 187.9,45.4 188.7,49.6 C189.5,53.8 188.3,57.8 185.8,61.3 C183.3,64.8 175.5,71.9 171.9,73.0 C168.3,74.1 164.8,71.4 161.7,68.6 C158.6,65.8 152.9,58.8 151.5,54.0 C150.1,49.2 151.4,41.4 152.2,36.5 C153.0,31.6 154.3,23.0 156.6,21.2 Z" fill="none" stroke="#151515" stroke-width="3.0" opacity="0.7" filter="url(#bl2)"/>
</g>
<path d="M156.6,21.2 C158.9,19.4 163.9,22.9 167.5,24.8 C171.1,26.7 177.5,29.9 180.7,33.6 C183.9,37.3 187.9,45.4 188.7,49.6 C189.5,53.8 188.3,57.8 185.8,61.3 C183.3,64.8 175.5,71.9 171.9,73.0 C168.3,74.1 164.8,71.4 161.7,68.6 C158.6,65.8 152.9,58.8 151.5,54.0 C150.1,49.2 151.4,41.4 152.2,36.5 C153.0,31.6 154.3,23.0 156.6,21.2 Z" fill="none" stroke="#111" stroke-width="1.1"/>
</g>
<circle cx="174.8" cy="46.4" r="7" fill="none" stroke="#abc63c" stroke-width="1.05" stroke-dasharray="2.6,1.3"/>
<text x="176.0" y="17.8" font-size="9.4" text-anchor="middle" fill="#222">242±10</text>
<g clip-path="url(#bx0)">
<g clip-path="url(#zc3)">
<rect x="189.4" y="22.1" width="40.2" height="81.7" fill="#888" filter="url(#tz3)"/>
<ellipse cx="209.9" cy="33" rx="8" ry="5" fill="rgb(95,95,95)" filter="url(#bl)" transform="rotate(0 209.9 33)"/>
<ellipse cx="204" cy="40" rx="3" ry="6" fill="rgb(120,120,120)" filter="url(#bl)" transform="rotate(0 204 40)"/>
<path d="M199.6,24.1 C203.1,21.1 215.2,22.7 218.6,24.1 C222.0,25.5 221.4,28.2 222.3,33.6 C223.2,39.0 223.7,49.8 224.5,60.0 C225.3,70.2 227.6,101.8 227.6,101.8 C227.6,101.8 191.4,101.8 191.4,101.8 C191.4,101.8 192.9,68.7 193.5,60.0 C194.1,51.3 194.4,49.2 195.3,43.8 C196.2,38.4 196.1,27.1 199.6,24.1 Z" fill="none" stroke="#151515" stroke-width="3.0" opacity="0.7" filter="url(#bl2)"/>
</g>
<path d="M199.6,24.1 C203.1,21.1 215.2,22.7 218.6,24.1 C222.0,25.5 221.4,28.2 222.3,33.6 C223.2,39.0 223.7,49.8 224.5,60.0 C225.3,70.2 227.6,101.8 227.6,101.8 C227.6,101.8 191.4,101.8 191.4,101.8 C191.4,101.8 192.9,68.7 193.5,60.0 C194.1,51.3 194.4,49.2 195.3,43.8 C196.2,38.4 196.1,27.1 199.6,24.1 Z" fill="none" stroke="#111" stroke-width="1.1"/>
</g>
<circle cx="209.9" cy="33.9" r="7" fill="none" stroke="#abc63c" stroke-width="1.05" stroke-dasharray="2.6,1.3"/>
<text x="216.3" y="17.8" font-size="9.4" text-anchor="middle" fill="#222">274±10</text>
<g clip-path="url(#bx0)">
<g clip-path="url(#zc4)">
<rect x="228.9" y="19.9" width="44.2" height="54.4" fill="#888" filter="url(#tz4)"/>
<ellipse cx="236" cy="36" rx="4" ry="8" fill="rgb(25,25,25)" filter="url(#bl)" transform="rotate(40 236 36)"/>
<ellipse cx="255" cy="60" rx="6" ry="4" fill="rgb(120,120,120)" filter="url(#bl)" transform="rotate(0 255 60)"/>
<path d="M247.0,21.9 C250.9,21.1 258.7,23.1 262.3,27.0 C265.9,30.9 270.2,43.1 271.1,48.2 C272.0,53.3 271.5,57.7 268.2,61.3 C264.9,64.9 253.8,71.9 249.2,72.3 C244.6,72.7 240.2,68.2 237.5,64.2 C234.8,60.2 231.1,50.1 230.9,45.3 C230.7,40.5 233.7,35.6 236.1,32.1 C238.5,28.6 243.1,22.7 247.0,21.9 Z" fill="none" stroke="#151515" stroke-width="3.0" opacity="0.7" filter="url(#bl2)"/>
</g>
<path d="M247.0,21.9 C250.9,21.1 258.7,23.1 262.3,27.0 C265.9,30.9 270.2,43.1 271.1,48.2 C272.0,53.3 271.5,57.7 268.2,61.3 C264.9,64.9 253.8,71.9 249.2,72.3 C244.6,72.7 240.2,68.2 237.5,64.2 C234.8,60.2 231.1,50.1 230.9,45.3 C230.7,40.5 233.7,35.6 236.1,32.1 C238.5,28.6 243.1,22.7 247.0,21.9 Z" fill="none" stroke="#111" stroke-width="1.1"/>
</g>
<circle cx="255.8" cy="53.3" r="7" fill="none" stroke="#abc63c" stroke-width="1.05" stroke-dasharray="2.6,1.3"/>
<text x="254.1" y="17.8" font-size="9.4" text-anchor="middle" fill="#222">317±8</text>
<g clip-path="url(#bx1)">
<g clip-path="url(#zc5)">
<rect x="84.6" y="127.7" width="24.4" height="45.6" fill="#888" filter="url(#tz5)"/>
<ellipse cx="97.5" cy="153" rx="9.5" ry="15" fill="rgb(245,245,245)" filter="url(#bl)" transform="rotate(0 97.5 153)"/>
<ellipse cx="97.5" cy="152" rx="6.5" ry="11" fill="rgb(255,255,255)" filter="url(#bl)" transform="rotate(0 97.5 152)"/>
<path d="M99.0,129.7 C101.2,129.7 104.3,131.9 105.5,135.5 C106.7,139.1 107.1,148.9 107.0,153.8 C106.9,158.7 106.0,165.8 104.8,168.4 C103.6,171.0 100.8,171.5 99.0,171.3 C97.2,171.1 95.0,170.6 93.1,166.9 C91.2,163.2 86.9,151.2 86.6,146.5 C86.3,141.8 89.1,138.0 91.0,135.5 C92.9,133.0 96.8,129.7 99.0,129.7 Z" fill="none" stroke="#151515" stroke-width="3.0" opacity="0.7" filter="url(#bl2)"/>
</g>
<path d="M99.0,129.7 C101.2,129.7 104.3,131.9 105.5,135.5 C106.7,139.1 107.1,148.9 107.0,153.8 C106.9,158.7 106.0,165.8 104.8,168.4 C103.6,171.0 100.8,171.5 99.0,171.3 C97.2,171.1 95.0,170.6 93.1,166.9 C91.2,163.2 86.9,151.2 86.6,146.5 C86.3,141.8 89.1,138.0 91.0,135.5 C92.9,133.0 96.8,129.7 99.0,129.7 Z" fill="none" stroke="#111" stroke-width="1.1"/>
</g>
<circle cx="99" cy="152.3" r="7" fill="none" stroke="#abc63c" stroke-width="1.05" stroke-dasharray="2.6,1.3"/>
<text x="101.3" y="124.6" font-size="9.4" text-anchor="middle" fill="#222">391±13</text>
<g clip-path="url(#bx1)">
<g clip-path="url(#zc6)">
<rect x="120.3" y="127.7" width="26.7" height="55.8" fill="#888" filter="url(#tz6)"/>
<g filter="url(#bl2)" opacity="0.32">
<ellipse cx="133.7" cy="157.1" rx="11.0" ry="25.1" fill="none" stroke="rgb(115,115,115)" stroke-width="1.0"/>
<ellipse cx="133.7" cy="157.1" rx="9.8" ry="22.3" fill="none" stroke="rgb(35,35,35)" stroke-width="1.0"/>
<ellipse cx="133.7" cy="157.1" rx="8.6" ry="19.5" fill="none" stroke="rgb(115,115,115)" stroke-width="1.0"/>
<ellipse cx="133.7" cy="157.1" rx="7.3" ry="16.7" fill="none" stroke="rgb(35,35,35)" stroke-width="1.0"/>
<ellipse cx="133.7" cy="157.1" rx="6.1" ry="14.0" fill="none" stroke="rgb(115,115,115)" stroke-width="1.0"/>
<ellipse cx="133.7" cy="157.1" rx="4.9" ry="11.2" fill="none" stroke="rgb(35,35,35)" stroke-width="1.0"/>
<ellipse cx="133.7" cy="157.1" rx="3.7" ry="8.4" fill="none" stroke="rgb(115,115,115)" stroke-width="1.0"/>
<ellipse cx="133.7" cy="157.1" rx="2.4" ry="5.6" fill="none" stroke="rgb(35,35,35)" stroke-width="1.0"/>
<ellipse cx="133.7" cy="157.1" rx="1.2" ry="2.8" fill="none" stroke="rgb(115,115,115)" stroke-width="1.0"/>
</g>
<ellipse cx="133" cy="160" rx="3" ry="12" fill="rgb(150,150,150)" filter="url(#bl)" transform="rotate(0 133 160)"/>
<path d="M131.1,129.7 C134.3,129.8 142.1,132.7 144.2,136.3 C146.3,139.9 145.2,148.3 145.0,153.8 C144.8,159.3 144.7,168.6 142.8,172.8 C140.9,177.0 135.4,181.5 132.6,181.5 C129.8,181.5 125.3,177.8 123.8,172.8 C122.3,167.8 122.4,153.6 122.3,148.0 C122.2,142.4 121.8,138.2 123.1,135.5 C124.4,132.8 127.9,129.6 131.1,129.7 Z" fill="none" stroke="#151515" stroke-width="3.0" opacity="0.7" filter="url(#bl2)"/>
</g>
<path d="M131.1,129.7 C134.3,129.8 142.1,132.7 144.2,136.3 C146.3,139.9 145.2,148.3 145.0,153.8 C144.8,159.3 144.7,168.6 142.8,172.8 C140.9,177.0 135.4,181.5 132.6,181.5 C129.8,181.5 125.3,177.8 123.8,172.8 C122.3,167.8 122.4,153.6 122.3,148.0 C122.2,142.4 121.8,138.2 123.1,135.5 C124.4,132.8 127.9,129.6 131.1,129.7 Z" fill="none" stroke="#111" stroke-width="1.1"/>
</g>
<circle cx="133.3" cy="143.9" r="7" fill="none" stroke="#abc63c" stroke-width="1.05" stroke-dasharray="2.6,1.3"/>
<text x="137.5" y="124.6" font-size="9.4" text-anchor="middle" fill="#222">447±13</text>
<g clip-path="url(#bx1)">
<g clip-path="url(#zc7)">
<rect x="157.5" y="126.7" width="33.2" height="51.0" fill="#888" filter="url(#tz7)"/>
<path d="M173.4,128.7 C176.6,128.4 181.7,129.5 184.0,133.0 C186.3,136.5 188.7,146.8 188.7,152.3 C188.7,157.9 186.0,166.5 184.0,170.0 C182.0,173.5 178.5,175.7 175.5,175.7 C172.5,175.7 166.4,173.7 164.0,170.0 C161.6,166.3 159.7,156.2 159.5,150.9 C159.3,145.7 160.9,138.3 163.0,135.0 C165.1,131.7 170.2,129.0 173.4,128.7 Z" fill="none" stroke="#151515" stroke-width="3.0" opacity="0.7" filter="url(#bl2)"/>
</g>
<path d="M173.4,128.7 C176.6,128.4 181.7,129.5 184.0,133.0 C186.3,136.5 188.7,146.8 188.7,152.3 C188.7,157.9 186.0,166.5 184.0,170.0 C182.0,173.5 178.5,175.7 175.5,175.7 C172.5,175.7 166.4,173.7 164.0,170.0 C161.6,166.3 159.7,156.2 159.5,150.9 C159.3,145.7 160.9,138.3 163.0,135.0 C165.1,131.7 170.2,129.0 173.4,128.7 Z" fill="none" stroke="#111" stroke-width="1.1"/>
</g>
<circle cx="177" cy="141.4" r="7" fill="none" stroke="#abc63c" stroke-width="1.05" stroke-dasharray="2.6,1.3"/>
<text x="173.6" y="124.6" font-size="9.4" text-anchor="middle" fill="#222">630±24</text>
<g clip-path="url(#bx1)">
<g clip-path="url(#zc8)">
<rect x="193.3" y="129.2" width="39.7" height="24.4" fill="#888" filter="url(#tz8)"/>
<ellipse cx="214" cy="136" rx="8" ry="3" fill="rgb(150,150,150)" filter="url(#bl)" transform="rotate(0 214 136)"/>
<path d="M195.3,140.7 C195.5,139.9 201.3,131.6 202.6,131.2 C203.9,130.8 220.1,131.4 221.5,131.9 C222.9,132.4 231.1,140.5 231.0,141.4 C230.9,142.3 219.7,148.9 218.6,149.4 C217.5,149.9 209.3,151.7 208.4,151.6 C207.5,151.5 200.3,148.5 199.6,148.0 C198.9,147.5 195.2,141.5 195.3,140.7 Z" fill="none" stroke="#151515" stroke-width="3.0" opacity="0.7" filter="url(#bl2)"/>
</g>
<path d="M195.3,140.7 C195.5,139.9 201.3,131.6 202.6,131.2 C203.9,130.8 220.1,131.4 221.5,131.9 C222.9,132.4 231.1,140.5 231.0,141.4 C230.9,142.3 219.7,148.9 218.6,149.4 C217.5,149.9 209.3,151.7 208.4,151.6 C207.5,151.5 200.3,148.5 199.6,148.0 C198.9,147.5 195.2,141.5 195.3,140.7 Z" fill="none" stroke="#111" stroke-width="1.1"/>
</g>
<circle cx="209.6" cy="141.4" r="7.5" fill="none" stroke="#abc63c" stroke-width="1.05" stroke-dasharray="2.6,1.3"/>
<text x="211.2" y="124.6" font-size="9.4" text-anchor="middle" fill="#222">1,383±30</text>
<g clip-path="url(#bx1)">
<g clip-path="url(#zc9)">
<rect x="240.2" y="127.2" width="30.3" height="40.5" fill="#888" filter="url(#tz9)"/>
<path d="M250.2,129.2 C252.6,128.9 258.0,130.3 260.4,131.4 C262.8,132.5 265.1,133.3 266.3,136.5 C267.5,139.7 268.7,148.7 268.5,152.6 C268.3,156.5 266.9,160.8 264.8,162.8 C262.7,164.8 257.4,166.1 254.6,165.7 C251.8,165.3 247.7,162.8 245.8,159.9 C243.9,157.1 242.4,150.6 242.2,146.7 C242.0,142.8 243.2,136.2 244.4,133.6 C245.6,131.0 247.8,129.5 250.2,129.2 Z" fill="none" stroke="#151515" stroke-width="3.0" opacity="0.7" filter="url(#bl2)"/>
</g>
<path d="M250.2,129.2 C252.6,128.9 258.0,130.3 260.4,131.4 C262.8,132.5 265.1,133.3 266.3,136.5 C267.5,139.7 268.7,148.7 268.5,152.6 C268.3,156.5 266.9,160.8 264.8,162.8 C262.7,164.8 257.4,166.1 254.6,165.7 C251.8,165.3 247.7,162.8 245.8,159.9 C243.9,157.1 242.4,150.6 242.2,146.7 C242.0,142.8 243.2,136.2 244.4,133.6 C245.6,131.0 247.8,129.5 250.2,129.2 Z" fill="none" stroke="#111" stroke-width="1.1"/>
</g>
<circle cx="254.6" cy="141.6" r="7.5" fill="none" stroke="#abc63c" stroke-width="1.05" stroke-dasharray="2.6,1.3"/>
<text x="252.3" y="124.6" font-size="9.4" text-anchor="middle" fill="#222">2,732±79</text>
<g clip-path="url(#bx2)">
<g clip-path="url(#zc10)">
<rect x="78.8" y="208.4" width="32.5" height="65.1" fill="#888" filter="url(#tz10)"/>
<ellipse cx="88" cy="266" rx="5" ry="3" fill="rgb(215,215,215)" filter="url(#bl)" transform="rotate(0 88 266)"/>
<ellipse cx="100" cy="262" rx="3" ry="2" fill="rgb(200,200,200)" filter="url(#bl)" transform="rotate(0 100 262)"/>
<path d="M83.0,210.4 C85.2,208.5 104.9,209.2 107.1,211.2 C109.3,213.1 109.3,228.8 109.3,233.8 C109.3,238.8 109.6,267.9 107.5,271.0 C105.4,274.1 86.0,274.6 83.8,271.5 C81.6,268.4 80.9,238.9 80.8,233.8 C80.7,228.7 80.8,212.3 83.0,210.4 Z" fill="none" stroke="#151515" stroke-width="3.0" opacity="0.7" filter="url(#bl2)"/>
</g>
<path d="M83.0,210.4 C85.2,208.5 104.9,209.2 107.1,211.2 C109.3,213.1 109.3,228.8 109.3,233.8 C109.3,238.8 109.6,267.9 107.5,271.0 C105.4,274.1 86.0,274.6 83.8,271.5 C81.6,268.4 80.9,238.9 80.8,233.8 C80.7,228.7 80.8,212.3 83.0,210.4 Z" fill="none" stroke="#111" stroke-width="1.1"/>
</g>
<circle cx="94.7" cy="221.4" r="7.5" fill="none" stroke="#abc63c" stroke-width="1.05" stroke-dasharray="2.6,1.3"/>
<text x="93.6" y="206.0" font-size="9.4" text-anchor="middle" fill="#222">125±9</text>
<g clip-path="url(#bx2)">
<g clip-path="url(#zc11)">
<rect x="112.4" y="208.4" width="36.1" height="71.2" fill="#888" filter="url(#tz11)"/>
<g filter="url(#bl2)" opacity="0.32">
<ellipse cx="130.4" cy="245.5" rx="15.6" ry="32.6" fill="none" stroke="rgb(140,140,140)" stroke-width="1.5"/>
<ellipse cx="130.4" cy="245.5" rx="13.8" ry="29.0" fill="none" stroke="rgb(50,50,50)" stroke-width="1.5"/>
<ellipse cx="130.4" cy="245.5" rx="12.1" ry="25.3" fill="none" stroke="rgb(140,140,140)" stroke-width="1.5"/>
<ellipse cx="130.4" cy="245.5" rx="10.4" ry="21.7" fill="none" stroke="rgb(50,50,50)" stroke-width="1.5"/>
<ellipse cx="130.4" cy="245.5" rx="8.6" ry="18.1" fill="none" stroke="rgb(140,140,140)" stroke-width="1.5"/>
<ellipse cx="130.4" cy="245.5" rx="6.9" ry="14.5" fill="none" stroke="rgb(50,50,50)" stroke-width="1.5"/>
<ellipse cx="130.4" cy="245.5" rx="5.2" ry="10.9" fill="none" stroke="rgb(140,140,140)" stroke-width="1.5"/>
<ellipse cx="130.4" cy="245.5" rx="3.5" ry="7.2" fill="none" stroke="rgb(50,50,50)" stroke-width="1.5"/>
<ellipse cx="130.4" cy="245.5" rx="1.7" ry="3.6" fill="none" stroke="rgb(140,140,140)" stroke-width="1.5"/>
</g>
<path d="M133.4,210.4 C137.3,210.0 141.6,214.6 143.6,219.2 C145.6,223.8 146.3,233.9 146.5,241.1 C146.7,248.3 147.1,261.9 145.1,267.4 C143.1,272.9 137.3,276.9 133.4,277.6 C129.5,278.3 121.6,276.2 118.8,271.8 C116.0,267.4 114.6,255.9 114.4,248.4 C114.2,240.9 114.5,227.8 117.3,222.1 C120.1,216.4 129.5,210.8 133.4,210.4 Z" fill="none" stroke="#151515" stroke-width="3.0" opacity="0.7" filter="url(#bl2)"/>
</g>
<path d="M133.4,210.4 C137.3,210.0 141.6,214.6 143.6,219.2 C145.6,223.8 146.3,233.9 146.5,241.1 C146.7,248.3 147.1,261.9 145.1,267.4 C143.1,272.9 137.3,276.9 133.4,277.6 C129.5,278.3 121.6,276.2 118.8,271.8 C116.0,267.4 114.6,255.9 114.4,248.4 C114.2,240.9 114.5,227.8 117.3,222.1 C120.1,216.4 129.5,210.8 133.4,210.4 Z" fill="none" stroke="#111" stroke-width="1.1"/>
</g>
<circle cx="128.3" cy="225.8" r="7.5" fill="none" stroke="#abc63c" stroke-width="1.05" stroke-dasharray="2.6,1.3"/>
<text x="129.3" y="206.0" font-size="9.4" text-anchor="middle" fill="#222">309±7</text>
<g clip-path="url(#bx2)">
<g clip-path="url(#zc12)">
<rect x="150.3" y="207.0" width="44.9" height="79.9" fill="#888" filter="url(#tz12)"/>
<ellipse cx="172" cy="248" rx="6" ry="5" fill="rgb(160,160,160)" filter="url(#bl)" transform="rotate(20 172 248)"/>
<ellipse cx="183" cy="258" rx="6" ry="5" fill="rgb(150,150,150)" filter="url(#bl)" transform="rotate(-20 183 258)"/>
<ellipse cx="168" cy="262" rx="5" ry="4" fill="rgb(170,170,170)" filter="url(#bl)" transform="rotate(0 168 262)"/>
<ellipse cx="180" cy="270" rx="5" ry="3.5" fill="rgb(150,150,150)" filter="url(#bl)" transform="rotate(0 180 270)"/>
<ellipse cx="162" cy="272" rx="4" ry="3" fill="rgb(200,200,200)" filter="url(#bl)" transform="rotate(0 162 272)"/>
<ellipse cx="178" cy="222" rx="14" ry="1.6" fill="rgb(200,200,200)" filter="url(#bl)" transform="rotate(25 178 222)"/>
<path d="M169.8,209.0 C174.2,208.6 183.8,211.2 187.3,213.4 C190.8,215.6 192.5,215.7 193.2,223.6 C193.9,231.5 193.2,257.6 191.7,265.9 C190.2,274.2 186.3,276.1 183.0,279.0 C179.7,281.9 173.7,285.1 169.8,284.9 C165.9,284.7 159.3,286.4 156.7,277.6 C154.1,268.8 152.1,235.7 152.3,226.5 C152.5,217.3 155.5,218.9 158.1,216.3 C160.7,213.7 165.4,209.4 169.8,209.0 Z" fill="none" stroke="#151515" stroke-width="3.0" opacity="0.7" filter="url(#bl2)"/>
</g>
<path d="M169.8,209.0 C174.2,208.6 183.8,211.2 187.3,213.4 C190.8,215.6 192.5,215.7 193.2,223.6 C193.9,231.5 193.2,257.6 191.7,265.9 C190.2,274.2 186.3,276.1 183.0,279.0 C179.7,281.9 173.7,285.1 169.8,284.9 C165.9,284.7 159.3,286.4 156.7,277.6 C154.1,268.8 152.1,235.7 152.3,226.5 C152.5,217.3 155.5,218.9 158.1,216.3 C160.7,213.7 165.4,209.4 169.8,209.0 Z" fill="none" stroke="#111" stroke-width="1.1"/>
</g>
<circle cx="174.9" cy="226.5" r="7.5" fill="none" stroke="#abc63c" stroke-width="1.05" stroke-dasharray="2.6,1.3"/>
<text x="172.6" y="206.0" font-size="9.4" text-anchor="middle" fill="#222">625±12</text>
<g clip-path="url(#bx2)">
<g clip-path="url(#zc13)">
<rect x="197.0" y="210.6" width="35.4" height="66.1" fill="#888" filter="url(#tz13)"/>
<rect x="198.5" y="231" width="32" height="44" fill="rgb(232,232,232)" filter="url(#bl)" transform="rotate(-2 214.5 253)"/>
<ellipse cx="214" cy="258" rx="11" ry="13" fill="rgb(248,248,248)" filter="url(#bl)" transform="rotate(0 214 258)"/>
<ellipse cx="206" cy="250" rx="3" ry="5" fill="rgb(218,218,218)" filter="url(#bl)" transform="rotate(0 206 250)"/>
<ellipse cx="222" cy="262" rx="3" ry="4" fill="rgb(222,222,222)" filter="url(#bl)" transform="rotate(0 222 262)"/>
<path d="M200.5,217.0 C203.3,211.6 214.5,212.5 218.0,212.6 C221.5,212.7 221.9,215.6 223.8,217.7 C225.7,219.8 229.6,218.8 230.4,226.5 C231.2,234.2 230.1,261.6 228.9,268.8 C227.7,276.0 226.2,274.0 222.4,274.7 C218.6,275.4 206.9,277.1 203.4,273.2 C199.9,269.3 199.4,256.8 199.0,248.4 C198.6,240.0 197.7,222.4 200.5,217.0 Z" fill="none" stroke="#151515" stroke-width="3.0" opacity="0.7" filter="url(#bl2)"/>
</g>
<path d="M200.5,217.0 C203.3,211.6 214.5,212.5 218.0,212.6 C221.5,212.7 221.9,215.6 223.8,217.7 C225.7,219.8 229.6,218.8 230.4,226.5 C231.2,234.2 230.1,261.6 228.9,268.8 C227.7,276.0 226.2,274.0 222.4,274.7 C218.6,275.4 206.9,277.1 203.4,273.2 C199.9,269.3 199.4,256.8 199.0,248.4 C198.6,240.0 197.7,222.4 200.5,217.0 Z" fill="none" stroke="#111" stroke-width="1.1"/>
</g>
<circle cx="215.1" cy="227.7" r="7.5" fill="none" stroke="#abc63c" stroke-width="1.05" stroke-dasharray="2.6,1.3"/>
<text x="212.6" y="206.0" font-size="9.4" text-anchor="middle" fill="#222">1,061±37</text>
<g clip-path="url(#bx2)">
<g clip-path="url(#zc14)">
<rect x="232.5" y="209.3" width="45.7" height="79.4" fill="#888" filter="url(#tz14)"/>
<g filter="url(#bl2)" opacity="0.32">
<ellipse cx="255.3" cy="250.5" rx="20.2" ry="36.6" fill="none" stroke="rgb(190,190,190)" stroke-width="1.9"/>
<ellipse cx="255.3" cy="250.5" rx="18.0" ry="32.5" fill="none" stroke="rgb(110,110,110)" stroke-width="1.9"/>
<ellipse cx="255.3" cy="250.5" rx="15.7" ry="28.4" fill="none" stroke="rgb(190,190,190)" stroke-width="1.9"/>
<ellipse cx="255.3" cy="250.5" rx="13.5" ry="24.4" fill="none" stroke="rgb(110,110,110)" stroke-width="1.9"/>
<ellipse cx="255.3" cy="250.5" rx="11.2" ry="20.3" fill="none" stroke="rgb(190,190,190)" stroke-width="1.9"/>
<ellipse cx="255.3" cy="250.5" rx="9.0" ry="16.3" fill="none" stroke="rgb(110,110,110)" stroke-width="1.9"/>
<ellipse cx="255.3" cy="250.5" rx="6.7" ry="12.2" fill="none" stroke="rgb(190,190,190)" stroke-width="1.9"/>
<ellipse cx="255.3" cy="250.5" rx="4.5" ry="8.1" fill="none" stroke="rgb(110,110,110)" stroke-width="1.9"/>
<ellipse cx="255.3" cy="250.5" rx="2.2" ry="4.1" fill="none" stroke="rgb(190,190,190)" stroke-width="1.9"/>
</g>
<path d="M254.2,211.3 C258.9,211.0 268.4,214.0 271.7,219.1 C275.0,224.2 275.7,238.4 276.2,245.0 C276.7,251.6 276.9,257.9 275.0,263.0 C273.1,268.1 267.9,275.2 263.8,278.8 C259.8,282.4 251.5,287.0 248.0,286.7 C244.5,286.4 242.7,282.0 240.7,276.6 C238.7,271.2 234.6,259.0 234.5,250.7 C234.4,242.4 237.1,227.3 240.1,221.4 C243.1,215.5 249.5,211.6 254.2,211.3 Z" fill="none" stroke="#151515" stroke-width="3.0" opacity="0.7" filter="url(#bl2)"/>
</g>
<path d="M254.2,211.3 C258.9,211.0 268.4,214.0 271.7,219.1 C275.0,224.2 275.7,238.4 276.2,245.0 C276.7,251.6 276.9,257.9 275.0,263.0 C273.1,268.1 267.9,275.2 263.8,278.8 C259.8,282.4 251.5,287.0 248.0,286.7 C244.5,286.4 242.7,282.0 240.7,276.6 C238.7,271.2 234.6,259.0 234.5,250.7 C234.4,242.4 237.1,227.3 240.1,221.4 C243.1,215.5 249.5,211.6 254.2,211.3 Z" fill="none" stroke="#111" stroke-width="1.1"/>
</g>
<circle cx="262.8" cy="225" r="7.5" fill="none" stroke="#abc63c" stroke-width="1.05" stroke-dasharray="2.6,1.3"/>
<circle cx="249.6" cy="270.3" r="7.5" fill="none" stroke="#abc63c" stroke-width="1.05" stroke-dasharray="2.6,1.3"/>
<text x="254.8" y="206.0" font-size="9.4" text-anchor="middle" fill="#222">1,817±79</text>
<g clip-path="url(#bx3)">
<g clip-path="url(#zc15)">
<rect x="90.4" y="313.3" width="28.1" height="58.0" fill="#888" filter="url(#tz15)"/>
<path d="M99.0,315.3 C101.6,315.1 108.1,317.7 110.7,320.4 C113.3,323.1 116.3,328.6 116.5,333.6 C116.7,338.6 114.3,348.6 112.1,354.0 C109.9,359.4 104.3,367.8 101.9,369.3 C99.5,370.8 97.5,367.6 96.1,364.2 C94.7,360.8 92.9,353.0 92.4,346.7 C92.0,340.4 92.1,326.6 93.1,321.9 C94.1,317.2 96.4,315.5 99.0,315.3 Z" fill="none" stroke="#151515" stroke-width="3.0" opacity="0.7" filter="url(#bl2)"/>
</g>
<path d="M99.0,315.3 C101.6,315.1 108.1,317.7 110.7,320.4 C113.3,323.1 116.3,328.6 116.5,333.6 C116.7,338.6 114.3,348.6 112.1,354.0 C109.9,359.4 104.3,367.8 101.9,369.3 C99.5,370.8 97.5,367.6 96.1,364.2 C94.7,360.8 92.9,353.0 92.4,346.7 C92.0,340.4 92.1,326.6 93.1,321.9 C94.1,317.2 96.4,315.5 99.0,315.3 Z" fill="none" stroke="#111" stroke-width="1.1"/>
</g>
<circle cx="102.6" cy="352.6" r="7.5" fill="none" stroke="#abc63c" stroke-width="1.05" stroke-dasharray="2.6,1.3"/>
<text x="109.7" y="309.0" font-size="9.4" text-anchor="middle" fill="#222">240±7</text>
<g clip-path="url(#bx3)">
<g clip-path="url(#zc16)">
<rect x="122.5" y="313.3" width="24.5" height="65.3" fill="#888" filter="url(#tz16)"/>
<ellipse cx="137" cy="350" rx="1.8" ry="20" fill="rgb(150,150,150)" filter="url(#bl)" transform="rotate(0 137 350)"/>
<path d="M134.0,315.3 C136.3,315.3 139.7,317.6 141.3,321.9 C143.0,326.2 144.8,336.4 145.0,343.8 C145.2,351.2 144.2,366.6 142.8,371.5 C141.4,376.4 137.9,376.4 135.5,376.6 C133.1,376.8 128.3,377.9 126.7,373.0 C125.0,368.1 124.6,351.5 124.5,343.8 C124.4,336.1 124.6,326.2 126.0,321.9 C127.4,317.6 131.7,315.3 134.0,315.3 Z" fill="none" stroke="#151515" stroke-width="3.0" opacity="0.7" filter="url(#bl2)"/>
</g>
<path d="M134.0,315.3 C136.3,315.3 139.7,317.6 141.3,321.9 C143.0,326.2 144.8,336.4 145.0,343.8 C145.2,351.2 144.2,366.6 142.8,371.5 C141.4,376.4 137.9,376.4 135.5,376.6 C133.1,376.8 128.3,377.9 126.7,373.0 C125.0,368.1 124.6,351.5 124.5,343.8 C124.4,336.1 124.6,326.2 126.0,321.9 C127.4,317.6 131.7,315.3 134.0,315.3 Z" fill="none" stroke="#111" stroke-width="1.1"/>
</g>
<circle cx="133.3" cy="329.9" r="7" fill="none" stroke="#abc63c" stroke-width="1.05" stroke-dasharray="2.6,1.3"/>
<text x="142.7" y="309.0" font-size="9.4" text-anchor="middle" fill="#222">302±10</text>
<g clip-path="url(#bx3)">
<g clip-path="url(#zc17)">
<rect x="150.2" y="313.3" width="39.8" height="85.8" fill="#888" filter="url(#tz17)"/>
<g filter="url(#bl2)" opacity="0.32">
<ellipse cx="170.1" cy="357.7" rx="17.4" ry="39.7" fill="none" stroke="rgb(200,200,200)" stroke-width="1.6"/>
<ellipse cx="170.1" cy="357.7" rx="15.4" ry="35.3" fill="none" stroke="rgb(120,120,120)" stroke-width="1.6"/>
<ellipse cx="170.1" cy="357.7" rx="13.5" ry="30.9" fill="none" stroke="rgb(200,200,200)" stroke-width="1.6"/>
<ellipse cx="170.1" cy="357.7" rx="11.6" ry="26.4" fill="none" stroke="rgb(120,120,120)" stroke-width="1.6"/>
<ellipse cx="170.1" cy="357.7" rx="9.6" ry="22.0" fill="none" stroke="rgb(200,200,200)" stroke-width="1.6"/>
<ellipse cx="170.1" cy="357.7" rx="7.7" ry="17.6" fill="none" stroke="rgb(120,120,120)" stroke-width="1.6"/>
<ellipse cx="170.1" cy="357.7" rx="5.8" ry="13.2" fill="none" stroke="rgb(200,200,200)" stroke-width="1.6"/>
<ellipse cx="170.1" cy="357.7" rx="3.9" ry="8.8" fill="none" stroke="rgb(120,120,120)" stroke-width="1.6"/>
<ellipse cx="170.1" cy="357.7" rx="1.9" ry="4.4" fill="none" stroke="rgb(200,200,200)" stroke-width="1.6"/>
</g>
<ellipse cx="171" cy="352" rx="12" ry="16" fill="rgb(245,245,245)" filter="url(#bl)" transform="rotate(0 171 352)"/>
<ellipse cx="175" cy="345" rx="9" ry="12" fill="rgb(255,255,255)" filter="url(#bl)" transform="rotate(0 175 345)"/>
<ellipse cx="181.5" cy="338" rx="2.2" ry="16" fill="rgb(35,35,35)" filter="url(#bl)" transform="rotate(-28 181.5 338)"/>
<ellipse cx="157" cy="360" rx="1.5" ry="18" fill="rgb(90,90,90)" filter="url(#bl)" transform="rotate(0 157 360)"/>
<path d="M163.1,315.3 C165.7,315.5 169.9,316.6 173.4,320.4 C176.9,324.2 184.3,334.1 186.5,340.9 C188.7,347.7 188.4,359.1 188.0,365.7 C187.6,372.3 186.0,380.0 183.6,384.7 C181.2,389.4 175.2,396.2 171.9,397.1 C168.6,398.0 164.4,395.0 161.7,390.5 C159.0,386.0 155.0,375.7 153.6,367.2 C152.2,358.7 151.9,340.8 152.2,333.6 C152.5,326.4 154.2,321.7 155.8,319.0 C157.4,316.3 160.5,315.1 163.1,315.3 Z" fill="none" stroke="#151515" stroke-width="3.0" opacity="0.7" filter="url(#bl2)"/>
</g>
<path d="M163.1,315.3 C165.7,315.5 169.9,316.6 173.4,320.4 C176.9,324.2 184.3,334.1 186.5,340.9 C188.7,347.7 188.4,359.1 188.0,365.7 C187.6,372.3 186.0,380.0 183.6,384.7 C181.2,389.4 175.2,396.2 171.9,397.1 C168.6,398.0 164.4,395.0 161.7,390.5 C159.0,386.0 155.0,375.7 153.6,367.2 C152.2,358.7 151.9,340.8 152.2,333.6 C152.5,326.4 154.2,321.7 155.8,319.0 C157.4,316.3 160.5,315.1 163.1,315.3 Z" fill="none" stroke="#111" stroke-width="1.1"/>
</g>
<circle cx="171.9" cy="378.1" r="7" fill="none" stroke="#abc63c" stroke-width="1.05" stroke-dasharray="2.6,1.3"/>
<text x="175.9" y="309.0" font-size="9.4" text-anchor="middle" fill="#222">449±7</text>
<g clip-path="url(#bx3)">
<g clip-path="url(#zc18)">
<rect x="190.3" y="313.3" width="28.9" height="58.8" fill="#888" filter="url(#tz18)"/>
<ellipse cx="202" cy="334" rx="3" ry="4" fill="rgb(230,230,230)" filter="url(#bl)" transform="rotate(0 202 334)"/>
<path d="M199.6,315.3 C202.7,315.1 211.6,319.4 214.2,321.9 C216.8,324.4 216.9,326.2 217.2,332.1 C217.5,338.0 217.1,355.6 216.4,361.3 C215.7,367.0 214.4,369.7 212.8,370.1 C211.2,370.5 208.6,368.8 205.5,364.2 C202.4,359.6 194.1,345.5 192.3,339.4 C190.5,333.3 192.7,327.0 193.8,323.4 C194.9,319.8 196.5,315.5 199.6,315.3 Z" fill="none" stroke="#151515" stroke-width="3.0" opacity="0.7" filter="url(#bl2)"/>
</g>
<path d="M199.6,315.3 C202.7,315.1 211.6,319.4 214.2,321.9 C216.8,324.4 216.9,326.2 217.2,332.1 C217.5,338.0 217.1,355.6 216.4,361.3 C215.7,367.0 214.4,369.7 212.8,370.1 C211.2,370.5 208.6,368.8 205.5,364.2 C202.4,359.6 194.1,345.5 192.3,339.4 C190.5,333.3 192.7,327.0 193.8,323.4 C194.9,319.8 196.5,315.5 199.6,315.3 Z" fill="none" stroke="#111" stroke-width="1.1"/>
</g>
<circle cx="202.6" cy="333.3" r="7" fill="none" stroke="#abc63c" stroke-width="1.05" stroke-dasharray="2.6,1.3"/>
<text x="209.0" y="309.0" font-size="9.4" text-anchor="middle" fill="#222">853±32</text>
<g clip-path="url(#bx3)">
<g clip-path="url(#zc19)">
<rect x="221.4" y="313.3" width="49.2" height="58.8" fill="#888" filter="url(#tz19)"/>
<g filter="url(#bl2)" opacity="0.32">
<ellipse cx="246.0" cy="344.2" rx="21.9" ry="26.6" fill="none" stroke="rgb(130,130,130)" stroke-width="2.1"/>
<ellipse cx="246.0" cy="344.2" rx="19.5" ry="23.6" fill="none" stroke="rgb(70,70,70)" stroke-width="2.1"/>
<ellipse cx="246.0" cy="344.2" rx="17.1" ry="20.7" fill="none" stroke="rgb(130,130,130)" stroke-width="2.1"/>
<ellipse cx="246.0" cy="344.2" rx="14.6" ry="17.7" fill="none" stroke="rgb(70,70,70)" stroke-width="2.1"/>
<ellipse cx="246.0" cy="344.2" rx="12.2" ry="14.8" fill="none" stroke="rgb(130,130,130)" stroke-width="2.1"/>
<ellipse cx="246.0" cy="344.2" rx="9.7" ry="11.8" fill="none" stroke="rgb(70,70,70)" stroke-width="2.1"/>
<ellipse cx="246.0" cy="344.2" rx="7.3" ry="8.9" fill="none" stroke="rgb(130,130,130)" stroke-width="2.1"/>
<ellipse cx="246.0" cy="344.2" rx="4.9" ry="5.9" fill="none" stroke="rgb(70,70,70)" stroke-width="2.1"/>
<ellipse cx="246.0" cy="344.2" rx="2.4" ry="3.0" fill="none" stroke="rgb(130,130,130)" stroke-width="2.1"/>
</g>
<path d="M246.7,315.3 C251.9,314.2 258.4,318.5 261.3,321.9 C264.2,325.3 264.6,333.0 265.7,338.0 C266.8,343.0 269.3,351.3 268.6,355.5 C267.9,359.7 264.4,363.5 261.3,365.7 C258.2,367.9 252.6,370.3 248.2,370.1 C243.8,369.9 235.8,368.1 232.1,364.2 C228.4,360.3 224.3,349.1 223.4,343.8 C222.5,338.6 222.8,333.5 226.3,329.2 C229.8,324.9 241.4,316.4 246.7,315.3 Z" fill="none" stroke="#151515" stroke-width="3.0" opacity="0.7" filter="url(#bl2)"/>
</g>
<path d="M246.7,315.3 C251.9,314.2 258.4,318.5 261.3,321.9 C264.2,325.3 264.6,333.0 265.7,338.0 C266.8,343.0 269.3,351.3 268.6,355.5 C267.9,359.7 264.4,363.5 261.3,365.7 C258.2,367.9 252.6,370.3 248.2,370.1 C243.8,369.9 235.8,368.1 232.1,364.2 C228.4,360.3 224.3,349.1 223.4,343.8 C222.5,338.6 222.8,333.5 226.3,329.2 C229.8,324.9 241.4,316.4 246.7,315.3 Z" fill="none" stroke="#111" stroke-width="1.1"/>
</g>
<circle cx="249.6" cy="328.5" r="7" fill="none" stroke="#abc63c" stroke-width="1.05" stroke-dasharray="2.6,1.3"/>
<text x="248.2" y="309.0" font-size="9.4" text-anchor="middle" fill="#222">1,451±18</text>
<g clip-path="url(#bx4)">
<g clip-path="url(#zc20)">
<rect x="80.2" y="419.8" width="33.2" height="55.1" fill="#888" filter="url(#tz20)"/>
<ellipse cx="102" cy="446" rx="6" ry="7" fill="rgb(80,80,80)" filter="url(#bl)" transform="rotate(0 102 446)"/>
<path d="M93.1,421.8 C95.9,420.9 100.8,421.7 103.4,424.0 C106.0,426.3 109.5,431.6 110.7,437.1 C111.9,442.6 112.7,455.1 111.4,460.5 C110.1,465.9 105.3,471.6 101.9,472.9 C98.5,474.2 91.8,472.8 88.8,469.2 C85.8,465.6 82.9,454.7 82.2,448.8 C81.5,442.9 82.8,433.9 84.4,429.8 C86.0,425.8 90.2,422.7 93.1,421.8 Z" fill="none" stroke="#151515" stroke-width="3.0" opacity="0.7" filter="url(#bl2)"/>
</g>
<path d="M93.1,421.8 C95.9,420.9 100.8,421.7 103.4,424.0 C106.0,426.3 109.5,431.6 110.7,437.1 C111.9,442.6 112.7,455.1 111.4,460.5 C110.1,465.9 105.3,471.6 101.9,472.9 C98.5,474.2 91.8,472.8 88.8,469.2 C85.8,465.6 82.9,454.7 82.2,448.8 C81.5,442.9 82.8,433.9 84.4,429.8 C86.0,425.8 90.2,422.7 93.1,421.8 Z" fill="none" stroke="#111" stroke-width="1.1"/>
</g>
<circle cx="101.9" cy="445.1" r="7.5" fill="none" stroke="#abc63c" stroke-width="1.05" stroke-dasharray="2.6,1.3"/>
<text x="98.6" y="417.0" font-size="9.4" text-anchor="middle" fill="#222">238±6</text>
<g clip-path="url(#bx4)">
<g clip-path="url(#zc21)">
<rect x="113.8" y="419.1" width="44.1" height="61.6" fill="#888" filter="url(#tz21)"/>
<path d="M138.4,421.1 C140.1,420.8 147.4,425.2 148.6,426.9 C149.8,428.6 155.5,445.1 155.9,447.3 C156.3,449.5 156.0,458.4 154.5,460.5 C153.0,462.6 136.4,477.9 134.0,478.7 C131.6,479.5 119.9,475.0 118.7,472.2 C117.5,469.4 115.5,439.8 115.8,437.1 C116.1,434.4 122.3,432.4 123.8,431.3 C125.3,430.2 136.7,421.4 138.4,421.1 Z" fill="none" stroke="#151515" stroke-width="3.0" opacity="0.7" filter="url(#bl2)"/>
</g>
<path d="M138.4,421.1 C140.1,420.8 147.4,425.2 148.6,426.9 C149.8,428.6 155.5,445.1 155.9,447.3 C156.3,449.5 156.0,458.4 154.5,460.5 C153.0,462.6 136.4,477.9 134.0,478.7 C131.6,479.5 119.9,475.0 118.7,472.2 C117.5,469.4 115.5,439.8 115.8,437.1 C116.1,434.4 122.3,432.4 123.8,431.3 C125.3,430.2 136.7,421.4 138.4,421.1 Z" fill="none" stroke="#111" stroke-width="1.1"/>
</g>
<circle cx="131.8" cy="453.2" r="7.5" fill="none" stroke="#abc63c" stroke-width="1.05" stroke-dasharray="2.6,1.3"/>
<text x="138.2" y="417.0" font-size="9.4" text-anchor="middle" fill="#222">278±11</text>
<g clip-path="url(#bx4)">
<g clip-path="url(#zc22)">
<rect x="157.5" y="419.8" width="41.2" height="88.7" fill="#888" filter="url(#tz22)"/>
<path d="M171.9,421.8 C174.8,420.9 178.8,420.6 182.1,422.5 C185.4,424.4 191.6,430.3 193.8,434.2 C196.0,438.1 196.3,438.1 196.7,448.8 C197.1,459.5 196.5,505.5 196.5,505.5 C196.5,505.5 183.4,506.5 178.0,506.5 C172.6,506.5 160.2,505.5 160.2,505.5 C160.2,505.5 159.1,460.4 159.5,448.8 C159.9,437.2 161.2,432.4 163.1,428.4 C165.0,424.3 169.1,422.7 171.9,421.8 Z" fill="none" stroke="#151515" stroke-width="3.0" opacity="0.7" filter="url(#bl2)"/>
</g>
<path d="M171.9,421.8 C174.8,420.9 178.8,420.6 182.1,422.5 C185.4,424.4 191.6,430.3 193.8,434.2 C196.0,438.1 196.3,438.1 196.7,448.8 C197.1,459.5 196.5,505.5 196.5,505.5 C196.5,505.5 183.4,506.5 178.0,506.5 C172.6,506.5 160.2,505.5 160.2,505.5 C160.2,505.5 159.1,460.4 159.5,448.8 C159.9,437.2 161.2,432.4 163.1,428.4 C165.0,424.3 169.1,422.7 171.9,421.8 Z" fill="none" stroke="#111" stroke-width="1.1"/>
</g>
<circle cx="179.9" cy="437.8" r="7" fill="none" stroke="#abc63c" stroke-width="1.05" stroke-dasharray="2.6,1.3"/>
<text x="177.9" y="417.0" font-size="9.4" text-anchor="middle" fill="#222">469±95</text>
<g clip-path="url(#bx4)">
<g clip-path="url(#zc23)">
<rect x="198.4" y="419.1" width="32.4" height="44.8" fill="#888" filter="url(#tz23)"/>
<g filter="url(#bl2)" opacity="0.32">
<ellipse cx="214.6" cy="443.0" rx="13.8" ry="19.8" fill="none" stroke="rgb(150,150,150)" stroke-width="1.3"/>
<ellipse cx="214.6" cy="443.0" rx="12.2" ry="17.6" fill="none" stroke="rgb(70,70,70)" stroke-width="1.3"/>
<ellipse cx="214.6" cy="443.0" rx="10.7" ry="15.4" fill="none" stroke="rgb(150,150,150)" stroke-width="1.3"/>
<ellipse cx="214.6" cy="443.0" rx="9.2" ry="13.2" fill="none" stroke="rgb(70,70,70)" stroke-width="1.3"/>
<ellipse cx="214.6" cy="443.0" rx="7.7" ry="11.0" fill="none" stroke="rgb(150,150,150)" stroke-width="1.3"/>
<ellipse cx="214.6" cy="443.0" rx="6.1" ry="8.8" fill="none" stroke="rgb(70,70,70)" stroke-width="1.3"/>
<ellipse cx="214.6" cy="443.0" rx="4.6" ry="6.6" fill="none" stroke="rgb(150,150,150)" stroke-width="1.3"/>
<ellipse cx="214.6" cy="443.0" rx="3.1" ry="4.4" fill="none" stroke="rgb(70,70,70)" stroke-width="1.3"/>
<ellipse cx="214.6" cy="443.0" rx="1.5" ry="2.2" fill="none" stroke="rgb(150,150,150)" stroke-width="1.3"/>
</g>
<ellipse cx="226" cy="442" rx="2.5" ry="8" fill="rgb(235,235,235)" filter="url(#bl)" transform="rotate(0 226 442)"/>
<path d="M208.4,421.1 C211.1,421.1 218.4,422.8 221.5,425.4 C224.6,428.0 228.1,434.9 228.8,438.6 C229.5,442.3 228.3,446.8 225.9,450.3 C223.5,453.8 215.9,461.3 212.8,461.9 C209.7,462.5 207.4,457.9 205.5,454.6 C203.6,451.3 200.7,444.4 200.4,440.0 C200.1,435.6 202.1,428.2 203.3,425.4 C204.5,422.6 205.7,421.1 208.4,421.1 Z" fill="none" stroke="#151515" stroke-width="3.0" opacity="0.7" filter="url(#bl2)"/>
</g>
<path d="M208.4,421.1 C211.1,421.1 218.4,422.8 221.5,425.4 C224.6,428.0 228.1,434.9 228.8,438.6 C229.5,442.3 228.3,446.8 225.9,450.3 C223.5,453.8 215.9,461.3 212.8,461.9 C209.7,462.5 207.4,457.9 205.5,454.6 C203.6,451.3 200.7,444.4 200.4,440.0 C200.1,435.6 202.1,428.2 203.3,425.4 C204.5,422.6 205.7,421.1 208.4,421.1 Z" fill="none" stroke="#111" stroke-width="1.1"/>
</g>
<circle cx="207.7" cy="433.5" r="7" fill="none" stroke="#abc63c" stroke-width="1.05" stroke-dasharray="2.6,1.3"/>
<text x="211.8" y="417.0" font-size="9.4" text-anchor="middle" fill="#222">514±63</text>
<g clip-path="url(#bx4)">
<g clip-path="url(#zc24)">
<rect x="230.1" y="419.1" width="39.8" height="56.5" fill="#888" filter="url(#tz24)"/>
<path d="M236.5,424.0 C238.8,422.7 244.5,421.2 248.2,421.1 C251.9,421.0 258.3,421.5 261.3,423.2 C264.3,424.9 267.2,426.0 267.9,432.7 C268.6,439.4 267.1,461.7 265.7,467.8 C264.3,473.9 262.1,473.4 258.4,473.6 C254.7,473.8 244.8,472.9 240.9,469.2 C237.0,465.5 233.3,454.7 232.1,448.8 C230.9,442.9 232.1,433.5 232.8,429.8 C233.5,426.1 234.2,425.3 236.5,424.0 Z" fill="none" stroke="#151515" stroke-width="3.0" opacity="0.7" filter="url(#bl2)"/>
</g>
<path d="M236.5,424.0 C238.8,422.7 244.5,421.2 248.2,421.1 C251.9,421.0 258.3,421.5 261.3,423.2 C264.3,424.9 267.2,426.0 267.9,432.7 C268.6,439.4 267.1,461.7 265.7,467.8 C264.3,473.9 262.1,473.4 258.4,473.6 C254.7,473.8 244.8,472.9 240.9,469.2 C237.0,465.5 233.3,454.7 232.1,448.8 C230.9,442.9 232.1,433.5 232.8,429.8 C233.5,426.1 234.2,425.3 236.5,424.0 Z" fill="none" stroke="#111" stroke-width="1.1"/>
</g>
<circle cx="255.2" cy="434.2" r="7.5" fill="none" stroke="#abc63c" stroke-width="1.05" stroke-dasharray="2.6,1.3"/>
<text x="249.6" y="417.0" font-size="9.4" text-anchor="middle" fill="#222">1,052±24</text>
<g clip-path="url(#bx5)">
<g clip-path="url(#zc25)">
<rect x="80.9" y="531.2" width="31.8" height="79.2" fill="#888" filter="url(#tz25)"/>
<g filter="url(#bl2)" opacity="0.32">
<ellipse cx="96.8" cy="572.3" rx="13.5" ry="36.5" fill="none" stroke="rgb(80,80,80)" stroke-width="1.3"/>
<ellipse cx="96.8" cy="572.3" rx="12.0" ry="32.4" fill="none" stroke="rgb(40,40,40)" stroke-width="1.3"/>
<ellipse cx="96.8" cy="572.3" rx="10.5" ry="28.4" fill="none" stroke="rgb(80,80,80)" stroke-width="1.3"/>
<ellipse cx="96.8" cy="572.3" rx="9.0" ry="24.3" fill="none" stroke="rgb(40,40,40)" stroke-width="1.3"/>
<ellipse cx="96.8" cy="572.3" rx="7.5" ry="20.3" fill="none" stroke="rgb(80,80,80)" stroke-width="1.3"/>
<ellipse cx="96.8" cy="572.3" rx="6.0" ry="16.2" fill="none" stroke="rgb(40,40,40)" stroke-width="1.3"/>
<ellipse cx="96.8" cy="572.3" rx="4.5" ry="12.2" fill="none" stroke="rgb(80,80,80)" stroke-width="1.3"/>
<ellipse cx="96.8" cy="572.3" rx="3.0" ry="8.1" fill="none" stroke="rgb(40,40,40)" stroke-width="1.3"/>
<ellipse cx="96.8" cy="572.3" rx="1.5" ry="4.1" fill="none" stroke="rgb(80,80,80)" stroke-width="1.3"/>
</g>
<path d="M100.4,533.2 C103.2,532.8 106.2,534.6 107.7,538.4 C109.2,542.2 110.4,549.2 110.7,558.8 C111.0,568.4 111.7,595.2 109.9,602.6 C108.1,610.0 102.6,608.0 99.0,608.4 C95.4,608.8 88.2,612.9 85.8,605.5 C83.4,598.1 82.5,568.4 82.9,558.8 C83.4,549.2 86.2,545.1 88.8,541.3 C91.4,537.5 97.6,533.6 100.4,533.2 Z" fill="none" stroke="#151515" stroke-width="3.0" opacity="0.7" filter="url(#bl2)"/>
</g>
<path d="M100.4,533.2 C103.2,532.8 106.2,534.6 107.7,538.4 C109.2,542.2 110.4,549.2 110.7,558.8 C111.0,568.4 111.7,595.2 109.9,602.6 C108.1,610.0 102.6,608.0 99.0,608.4 C95.4,608.8 88.2,612.9 85.8,605.5 C83.4,598.1 82.5,568.4 82.9,558.8 C83.4,549.2 86.2,545.1 88.8,541.3 C91.4,537.5 97.6,533.6 100.4,533.2 Z" fill="none" stroke="#111" stroke-width="1.1"/>
</g>
<circle cx="95.3" cy="550.8" r="7" fill="none" stroke="#abc63c" stroke-width="1.05" stroke-dasharray="2.6,1.3"/>
<text x="95.1" y="526.0" font-size="9.4" text-anchor="middle" fill="#222">142±8</text>
<g clip-path="url(#bx5)">
<g clip-path="url(#zc26)">
<rect x="117.4" y="530.5" width="28.8" height="52.9" fill="#888" filter="url(#tz26)"/>
<ellipse cx="123" cy="560" rx="2" ry="4" fill="rgb(230,230,230)" filter="url(#bl)" transform="rotate(0 123 560)"/>
<ellipse cx="141" cy="548" rx="2" ry="5" fill="rgb(225,225,225)" filter="url(#bl)" transform="rotate(0 141 548)"/>
<ellipse cx="128" cy="540" rx="2" ry="2" fill="rgb(220,220,220)" filter="url(#bl)" transform="rotate(0 128 540)"/>
<path d="M131.1,532.5 C134.1,532.1 139.3,534.0 141.3,536.9 C143.3,539.8 144.0,546.0 144.2,551.5 C144.4,557.0 144.3,568.9 142.8,573.4 C141.3,577.9 137.1,581.4 134.0,581.4 C130.9,581.4 124.5,576.8 122.3,573.4 C120.1,570.0 119.5,563.8 119.4,558.8 C119.3,553.8 119.8,543.7 121.6,539.8 C123.4,535.9 128.1,532.9 131.1,532.5 Z" fill="none" stroke="#151515" stroke-width="3.0" opacity="0.7" filter="url(#bl2)"/>
</g>
<path d="M131.1,532.5 C134.1,532.1 139.3,534.0 141.3,536.9 C143.3,539.8 144.0,546.0 144.2,551.5 C144.4,557.0 144.3,568.9 142.8,573.4 C141.3,577.9 137.1,581.4 134.0,581.4 C130.9,581.4 124.5,576.8 122.3,573.4 C120.1,570.0 119.5,563.8 119.4,558.8 C119.3,553.8 119.8,543.7 121.6,539.8 C123.4,535.9 128.1,532.9 131.1,532.5 Z" fill="none" stroke="#111" stroke-width="1.1"/>
</g>
<circle cx="133.3" cy="568.3" r="7" fill="none" stroke="#abc63c" stroke-width="1.05" stroke-dasharray="2.6,1.3"/>
<text x="135.6" y="526.0" font-size="9.4" text-anchor="middle" fill="#222">201±10</text>
<g clip-path="url(#bx5)">
<g clip-path="url(#zc27)">
<rect x="146.6" y="529.1" width="50.8" height="81.3" fill="#888" filter="url(#tz27)"/>
<g filter="url(#bl2)" opacity="0.4">
<rect x="146.6" y="492.5" width="2.8" height="154.6" fill="rgb(85,85,85)" transform="rotate(18 148.0 569.8)"/>
<rect x="151.4" y="492.5" width="2.8" height="154.6" fill="rgb(175,175,175)" transform="rotate(18 152.8 569.8)"/>
<rect x="156.2" y="492.5" width="2.8" height="154.6" fill="rgb(85,85,85)" transform="rotate(18 157.6 569.8)"/>
<rect x="161.0" y="492.5" width="2.8" height="154.6" fill="rgb(175,175,175)" transform="rotate(18 162.4 569.8)"/>
<rect x="165.8" y="492.5" width="2.8" height="154.6" fill="rgb(85,85,85)" transform="rotate(18 167.2 569.8)"/>
<rect x="170.6" y="492.5" width="2.8" height="154.6" fill="rgb(175,175,175)" transform="rotate(18 172.0 569.8)"/>
<rect x="175.4" y="492.5" width="2.8" height="154.6" fill="rgb(85,85,85)" transform="rotate(18 176.8 569.8)"/>
<rect x="180.2" y="492.5" width="2.8" height="154.6" fill="rgb(175,175,175)" transform="rotate(18 181.6 569.8)"/>
<rect x="185.0" y="492.5" width="2.8" height="154.6" fill="rgb(85,85,85)" transform="rotate(18 186.4 569.8)"/>
<rect x="189.8" y="492.5" width="2.8" height="154.6" fill="rgb(175,175,175)" transform="rotate(18 191.2 569.8)"/>
<rect x="194.6" y="492.5" width="2.8" height="154.6" fill="rgb(85,85,85)" transform="rotate(18 196.0 569.8)"/>
</g>
<path d="M169.8,531.1 C174.2,529.5 179.7,531.2 183.0,533.2 C186.3,535.2 189.8,540.4 191.7,544.2 C193.6,548.0 195.4,552.2 195.4,558.8 C195.4,565.4 193.8,581.4 191.7,588.0 C189.6,594.6 185.2,599.5 181.5,602.6 C177.8,605.7 171.1,608.2 166.9,608.4 C162.7,608.6 156.5,609.2 153.8,604.0 C151.1,598.8 148.6,582.4 148.6,573.4 C148.6,564.4 150.6,550.5 153.8,544.2 C157.0,537.9 165.4,532.8 169.8,531.1 Z" fill="none" stroke="#151515" stroke-width="3.0" opacity="0.7" filter="url(#bl2)"/>
</g>
<path d="M169.8,531.1 C174.2,529.5 179.7,531.2 183.0,533.2 C186.3,535.2 189.8,540.4 191.7,544.2 C193.6,548.0 195.4,552.2 195.4,558.8 C195.4,565.4 193.8,581.4 191.7,588.0 C189.6,594.6 185.2,599.5 181.5,602.6 C177.8,605.7 171.1,608.2 166.9,608.4 C162.7,608.6 156.5,609.2 153.8,604.0 C151.1,598.8 148.6,582.4 148.6,573.4 C148.6,564.4 150.6,550.5 153.8,544.2 C157.0,537.9 165.4,532.8 169.8,531.1 Z" fill="none" stroke="#111" stroke-width="1.1"/>
</g>
<circle cx="161.4" cy="594.6" r="7" fill="none" stroke="#abc63c" stroke-width="1.05" stroke-dasharray="2.6,1.3"/>
<text x="176.4" y="526.0" font-size="9.4" text-anchor="middle" fill="#222">307±8</text>
<g clip-path="url(#bx5)">
<g clip-path="url(#zc28)">
<rect x="202.1" y="528.3" width="34.7" height="69.7" fill="#888" filter="url(#tz28)"/>
<g filter="url(#bl2)" opacity="0.32">
<ellipse cx="219.4" cy="564.6" rx="14.9" ry="31.9" fill="none" stroke="rgb(185,185,185)" stroke-width="1.4"/>
<ellipse cx="219.4" cy="564.6" rx="13.2" ry="28.3" fill="none" stroke="rgb(85,85,85)" stroke-width="1.4"/>
<ellipse cx="219.4" cy="564.6" rx="11.6" ry="24.8" fill="none" stroke="rgb(185,185,185)" stroke-width="1.4"/>
<ellipse cx="219.4" cy="564.6" rx="9.9" ry="21.2" fill="none" stroke="rgb(85,85,85)" stroke-width="1.4"/>
<ellipse cx="219.4" cy="564.6" rx="8.3" ry="17.7" fill="none" stroke="rgb(185,185,185)" stroke-width="1.4"/>
<ellipse cx="219.4" cy="564.6" rx="6.6" ry="14.2" fill="none" stroke="rgb(85,85,85)" stroke-width="1.4"/>
<ellipse cx="219.4" cy="564.6" rx="5.0" ry="10.6" fill="none" stroke="rgb(185,185,185)" stroke-width="1.4"/>
<ellipse cx="219.4" cy="564.6" rx="3.3" ry="7.1" fill="none" stroke="rgb(85,85,85)" stroke-width="1.4"/>
<ellipse cx="219.4" cy="564.6" rx="1.7" ry="3.5" fill="none" stroke="rgb(185,185,185)" stroke-width="1.4"/>
</g>
<path d="M210.7,530.3 C214.0,529.4 223.2,529.0 226.8,531.1 C230.4,533.2 234.8,536.8 234.8,544.2 C234.8,551.6 229.5,572.9 226.8,580.7 C224.1,588.5 219.3,594.5 216.5,596.0 C213.7,597.5 209.7,596.5 207.8,590.9 C205.9,585.3 204.5,566.9 204.1,558.8 C203.7,550.7 203.9,541.2 204.9,536.9 C205.9,532.6 207.4,531.2 210.7,530.3 Z" fill="none" stroke="#151515" stroke-width="3.0" opacity="0.7" filter="url(#bl2)"/>
</g>
<path d="M210.7,530.3 C214.0,529.4 223.2,529.0 226.8,531.1 C230.4,533.2 234.8,536.8 234.8,544.2 C234.8,551.6 229.5,572.9 226.8,580.7 C224.1,588.5 219.3,594.5 216.5,596.0 C213.7,597.5 209.7,596.5 207.8,590.9 C205.9,585.3 204.5,566.9 204.1,558.8 C203.7,550.7 203.9,541.2 204.9,536.9 C205.9,532.6 207.4,531.2 210.7,530.3 Z" fill="none" stroke="#111" stroke-width="1.1"/>
</g>
<circle cx="217.3" cy="539.1" r="7" fill="none" stroke="#abc63c" stroke-width="1.05" stroke-dasharray="2.6,1.3"/>
<text x="217.1" y="526.0" font-size="9.4" text-anchor="middle" fill="#222">427±8</text>
<g clip-path="url(#bx5)">
<g clip-path="url(#zc29)">
<rect x="238.9" y="528.3" width="36.8" height="71.2" fill="#888" filter="url(#tz29)"/>
<g filter="url(#bl2)" opacity="0.32">
<ellipse cx="257.3" cy="565.4" rx="15.9" ry="32.6" fill="none" stroke="rgb(145,145,145)" stroke-width="1.5"/>
<ellipse cx="257.3" cy="565.4" rx="14.1" ry="29.0" fill="none" stroke="rgb(65,65,65)" stroke-width="1.5"/>
<ellipse cx="257.3" cy="565.4" rx="12.4" ry="25.3" fill="none" stroke="rgb(145,145,145)" stroke-width="1.5"/>
<ellipse cx="257.3" cy="565.4" rx="10.6" ry="21.7" fill="none" stroke="rgb(65,65,65)" stroke-width="1.5"/>
<ellipse cx="257.3" cy="565.4" rx="8.8" ry="18.1" fill="none" stroke="rgb(145,145,145)" stroke-width="1.5"/>
<ellipse cx="257.3" cy="565.4" rx="7.1" ry="14.5" fill="none" stroke="rgb(65,65,65)" stroke-width="1.5"/>
<ellipse cx="257.3" cy="565.4" rx="5.3" ry="10.9" fill="none" stroke="rgb(145,145,145)" stroke-width="1.5"/>
<ellipse cx="257.3" cy="565.4" rx="3.5" ry="7.2" fill="none" stroke="rgb(65,65,65)" stroke-width="1.5"/>
<ellipse cx="257.3" cy="565.4" rx="1.8" ry="3.6" fill="none" stroke="rgb(145,145,145)" stroke-width="1.5"/>
</g>
<path d="M256.9,530.3 C260.2,529.2 263.4,534.2 265.7,536.9 C268.0,539.6 271.1,541.4 272.3,548.6 C273.5,555.8 274.3,578.3 273.7,585.1 C273.1,591.9 271.3,591.9 268.6,593.8 C265.9,595.7 259.4,597.9 255.5,597.5 C251.6,597.1 244.5,596.7 242.3,590.9 C240.1,585.1 240.7,565.8 240.9,558.8 C241.1,551.8 241.4,548.5 243.8,544.2 C246.2,539.9 253.6,531.4 256.9,530.3 Z" fill="none" stroke="#151515" stroke-width="3.0" opacity="0.7" filter="url(#bl2)"/>
</g>
<path d="M256.9,530.3 C260.2,529.2 263.4,534.2 265.7,536.9 C268.0,539.6 271.1,541.4 272.3,548.6 C273.5,555.8 274.3,578.3 273.7,585.1 C273.1,591.9 271.3,591.9 268.6,593.8 C265.9,595.7 259.4,597.9 255.5,597.5 C251.6,597.1 244.5,596.7 242.3,590.9 C240.1,585.1 240.7,565.8 240.9,558.8 C241.1,551.8 241.4,548.5 243.8,544.2 C246.2,539.9 253.6,531.4 256.9,530.3 Z" fill="none" stroke="#111" stroke-width="1.1"/>
</g>
<circle cx="256.2" cy="553.7" r="7" fill="none" stroke="#abc63c" stroke-width="1.05" stroke-dasharray="2.6,1.3"/>
<text x="255.1" y="526.0" font-size="9.4" text-anchor="middle" fill="#222">456±7</text>
<text x="219.5" y="286.4" font-size="9.4" text-anchor="middle" fill="#222">1737±77</text>
<rect x="242" y="92.4" width="14.699999999999989" height="2.0" fill="#444"/>
<text x="249.3" y="90.7" font-size="5.1" text-anchor="middle" font-weight="normal" font-style="normal" fill="#222" >20 <tspan font-style="italic">μ</tspan>m</text>
<rect x="237" y="180.5" width="14.5" height="2.0" fill="#444"/>
<text x="244.2" y="178.9" font-size="5.1" text-anchor="middle" font-weight="normal" font-style="normal" fill="#222" >20 <tspan font-style="italic">μ</tspan>m</text>
<rect x="104" y="284.9" width="14.599999999999994" height="2.0" fill="#444"/>
<text x="111.3" y="282.9" font-size="5.1" text-anchor="middle" font-weight="normal" font-style="normal" fill="#222" >20 <tspan font-style="italic">μ</tspan>m</text>
<rect x="229.5" y="389.6" width="14.199999999999989" height="2.0" fill="#444"/>
<text x="236.6" y="387.8" font-size="5.1" text-anchor="middle" font-weight="normal" font-style="normal" fill="#222" >20 <tspan font-style="italic">μ</tspan>m</text>
<rect x="232.5" y="494.8" width="14.300000000000011" height="2.0" fill="#444"/>
<text x="239.7" y="492.8" font-size="5.1" text-anchor="middle" font-weight="normal" font-style="normal" fill="#222" >20 <tspan font-style="italic">μ</tspan>m</text>
<rect x="231.3" y="608.9" width="14.099999999999994" height="2.0" fill="#444"/>
<text x="238.4" y="606.9" font-size="5.1" text-anchor="middle" font-weight="normal" font-style="normal" fill="#222" >20 <tspan font-style="italic">μ</tspan>m</text>
<line x1="341.7" y1="0.6" x2="681.4" y2="0.6" stroke="#b4b4b4" stroke-width="1.2"/>
<line x1="341.7" y1="0" x2="341.7" y2="627.5" stroke="#a3a3a3" stroke-width="1.0"/>
<line x1="681.4" y1="0" x2="681.4" y2="627.5" stroke="#bdbdbd" stroke-width="1.1"/>
<line x1="341.2" y1="627.1" x2="681.9" y2="627.1" stroke="#d4d4d4" stroke-width="1.5"/>
<text x="312.6" y="17.3" font-size="21" text-anchor="start" font-weight="bold" font-style="normal" fill="#111" >(b)</text>
<line x1="376.7" y1="166.6" x2="376.7" y2="22.8" stroke="#c6c6c6" stroke-width="1.1"/>
<line x1="376.7" y1="166.6" x2="432.0" y2="166.6" stroke="#c6c6c6" stroke-width="1.1"/>
<line x1="376.7" y1="148.6" x2="378.7" y2="148.6" stroke="#c8c8c8" stroke-width="0.7"/>
<line x1="376.7" y1="130.7" x2="378.7" y2="130.7" stroke="#c8c8c8" stroke-width="0.7"/>
<line x1="376.7" y1="112.7" x2="378.7" y2="112.7" stroke="#c8c8c8" stroke-width="0.7"/>
<line x1="376.7" y1="94.7" x2="378.7" y2="94.7" stroke="#c8c8c8" stroke-width="0.7"/>
<line x1="376.7" y1="76.7" x2="378.7" y2="76.7" stroke="#c8c8c8" stroke-width="0.7"/>
<line x1="376.7" y1="58.7" x2="378.7" y2="58.7" stroke="#c8c8c8" stroke-width="0.7"/>
<line x1="376.7" y1="40.8" x2="378.7" y2="40.8" stroke="#c8c8c8" stroke-width="0.7"/>
<line x1="385.9" y1="166.6" x2="385.9" y2="164.6" stroke="#c8c8c8" stroke-width="0.7"/>
<line x1="395.1" y1="166.6" x2="395.1" y2="164.6" stroke="#c8c8c8" stroke-width="0.7"/>
<line x1="404.3" y1="166.6" x2="404.3" y2="164.6" stroke="#c8c8c8" stroke-width="0.7"/>
<line x1="413.5" y1="166.6" x2="413.5" y2="164.6" stroke="#c8c8c8" stroke-width="0.7"/>
<line x1="422.7" y1="166.6" x2="422.7" y2="164.6" stroke="#c8c8c8" stroke-width="0.7"/>
<text x="372.3" y="26.2" font-size="8.8" text-anchor="end" font-weight="normal" font-style="normal" fill="#222" >0.09</text>
<text x="372.3" y="62.1" font-size="8.8" text-anchor="end" font-weight="normal" font-style="normal" fill="#222" >0.07</text>
<text x="372.3" y="98.1" font-size="8.8" text-anchor="end" font-weight="normal" font-style="normal" fill="#222" >0.05</text>
<text x="372.3" y="134.1" font-size="8.8" text-anchor="end" font-weight="normal" font-style="normal" fill="#222" >0.03</text>
<text x="372.3" y="170.0" font-size="8.8" text-anchor="end" font-weight="normal" font-style="normal" fill="#222" >0.01</text>
<text x="376.7" y="180.6" font-size="8.8" text-anchor="middle" font-weight="normal" font-style="normal" fill="#222" >0</text>
<text x="422.7" y="180.6" font-size="8.8" text-anchor="middle" font-weight="normal" font-style="normal" fill="#222" >1</text>
<path d="M379.7,166.6 L379.9,165.5 L380.1,164.4 L380.3,163.2 L380.5,162.1 L380.7,160.9 L380.9,159.8 L381.1,158.6 L381.3,157.5 L381.5,156.3 L381.7,155.2 L381.9,154.1 L382.1,152.9 L382.3,151.8 L382.5,150.6 L382.7,149.5 L382.9,148.3 L383.1,147.1 L383.3,146.0 L383.5,144.8 L383.8,143.7 L384.0,142.5 L384.2,141.4 L384.4,140.2 L384.6,139.1 L384.8,137.9 L385.0,136.7 L385.3,135.6 L385.5,134.4 L385.7,133.3 L385.9,132.1 L386.1,130.9 L386.4,129.8 L386.6,128.6 L386.8,127.4 L387.0,126.3 L387.3,125.1 L387.5,123.9 L387.7,122.8 L387.9,121.6 L388.2,120.4 L388.4,119.3 L388.6,118.1 L388.9,116.9 L389.1,115.8 L389.3,114.6 L389.6,113.4 L389.8,112.2 L390.0,111.1 L390.3,109.9 L390.5,108.7 L390.7,107.5 L391.0,106.4 L391.2,105.2 L391.5,104.0 L391.7,102.8 L392.0,101.6 L392.2,100.5 L392.4,99.3 L392.7,98.1 L392.9,96.9 L393.2,95.7 L393.4,94.5 L393.7,93.3 L393.9,92.2 L394.2,91.0 L394.4,89.8 L394.7,88.6 L395.0,87.4 L395.2,86.2 L395.5,85.0 L395.7,83.8 L396.0,82.6 L396.3,81.4 L396.5,80.2 L396.8,79.1 L397.0,77.9 L397.3,76.7 L397.6,75.5 L397.8,74.3 L398.1,73.1 L398.4,71.9 L398.6,70.7 L398.9,69.5 L399.2,68.3 L399.5,67.1 L399.7,65.9 L400.0,64.7 L400.3,63.4 L400.6,62.2 L400.9,61.0 L401.1,59.8 L401.4,58.6 L401.7,57.4 L402.0,56.2 L402.3,55.0 L402.6,53.8 L402.8,52.6 L403.1,51.4 L403.4,50.1 L403.7,48.9 L404.0,47.7 L404.3,46.5 L404.6,45.3 L404.9,44.1 L405.2,42.8 L405.5,41.6 L405.8,40.4 L406.1,39.2 L406.4,38.0 L406.7,36.7 L407.0,35.5 L407.3,34.3 L407.6,33.1 L407.9,31.8 L408.2,30.6 L408.5,29.4 L408.8,28.2 L409.1,26.9 L409.5,25.7 L409.8,24.5" fill="none" stroke="#2a2aa8" stroke-width="0.9"/>
<ellipse cx="381.5" cy="156.5" rx="2.3" ry="1.4" fill="#fff" stroke="#2a2aa8" stroke-width="0.6"/>
<ellipse cx="384.0" cy="142.3" rx="2.3" ry="1.4" fill="#fff" stroke="#2a2aa8" stroke-width="0.6"/>
<ellipse cx="386.7" cy="127.9" rx="2.3" ry="1.4" fill="#fff" stroke="#2a2aa8" stroke-width="0.6"/>
<ellipse cx="389.5" cy="113.5" rx="2.3" ry="1.4" fill="#fff" stroke="#2a2aa8" stroke-width="0.6"/>
<ellipse cx="392.5" cy="98.9" rx="2.3" ry="1.4" fill="#fff" stroke="#2a2aa8" stroke-width="0.6"/>
<ellipse cx="395.6" cy="84.3" rx="2.3" ry="1.4" fill="#fff" stroke="#2a2aa8" stroke-width="0.6"/>
<ellipse cx="398.9" cy="69.5" rx="2.3" ry="1.4" fill="#fff" stroke="#2a2aa8" stroke-width="0.6"/>
<ellipse cx="402.4" cy="54.6" rx="2.3" ry="1.4" fill="#fff" stroke="#2a2aa8" stroke-width="0.6"/>
<ellipse cx="406.0" cy="39.6" rx="2.3" ry="1.4" fill="#fff" stroke="#2a2aa8" stroke-width="0.6"/>
<ellipse cx="409.8" cy="24.5" rx="2.3" ry="1.4" fill="#fff" stroke="#2a2aa8" stroke-width="0.6"/>
<ellipse cx="398.1" cy="136.3" rx="4.0" ry="2.5" transform="rotate(-30.0 398.1 136.3)" fill="#FFF200" stroke="#111" stroke-width="0.8" fill-opacity="1"/>
<ellipse cx="390.1" cy="116.4" rx="3.5" ry="2.0" transform="rotate(-70.0 390.1 116.4)" fill="#FFF200" stroke="#111" stroke-width="0.8" fill-opacity="1"/>
<ellipse cx="392.0" cy="107.3" rx="4.0" ry="1.8" transform="rotate(-80.0 392.0 107.3)" fill="#FFF200" stroke="#111" stroke-width="0.8" fill-opacity="1"/>
<ellipse cx="398.0" cy="103.6" rx="8.0" ry="2.7" transform="rotate(-80.0 398.0 103.6)" fill="#FFF200" stroke="#111" stroke-width="0.8" fill-opacity="1"/>
<ellipse cx="393.4" cy="95.6" rx="6.0" ry="2.2" transform="rotate(-70.0 393.4 95.6)" fill="#FFF200" stroke="#111" stroke-width="0.8" fill-opacity="1"/>
<ellipse cx="397.1" cy="77.9" rx="11.0" ry="2.5" transform="rotate(-75.0 397.1 77.9)" fill="#FFF200" stroke="#111" stroke-width="0.8" fill-opacity="1"/>
<ellipse cx="401.4" cy="62.4" rx="8.0" ry="4.5" transform="rotate(-80.0 401.4 62.4)" fill="#FFF200" stroke="#111" stroke-width="0.8" fill-opacity="1"/>
<ellipse cx="401.9" cy="53.9" rx="5.9" ry="3.7" transform="rotate(-75.0 401.9 53.9)" fill="#FFF200" stroke="#111" stroke-width="0.8" fill-opacity="1"/>
<ellipse cx="407.2" cy="66.2" rx="5.8" ry="4.4" transform="rotate(-80.0 407.2 66.2)" fill="#FFF200" stroke="#111" stroke-width="0.8" fill-opacity="1"/>
<text x="385.0" y="158.9" font-size="6" text-anchor="start" font-weight="normal" font-style="normal" fill="#333" >50</text>
<text x="386.6" y="146.4" font-size="6" text-anchor="start" font-weight="normal" font-style="normal" fill="#333" >100</text>
<text x="390.0" y="127.9" font-size="6" text-anchor="start" font-weight="normal" font-style="normal" fill="#333" >150</text>
<text x="391.0" y="42.0" font-size="6" text-anchor="start" font-weight="normal" font-style="normal" fill="#333" >500</text>
<text x="394.8" y="26.2" font-size="6" text-anchor="start" font-weight="normal" font-style="normal" fill="#333" >550</text>
<text x="416.4" y="27.2" font-size="10" text-anchor="start" font-weight="bold" font-style="normal" fill="#111" >ZUT2</text>
<text transform="translate(388.0,22.4) rotate(-90)" x="0" y="0" font-size="9.5" text-anchor="end" fill="#222"><tspan font-size="5.2" dy="-3">206</tspan><tspan dy="3">Pb/</tspan><tspan font-size="5.2" dy="-3">238</tspan><tspan dy="3">U</tspan></text>
<text x="437.8" y="164.8" font-size="9.0" text-anchor="end" fill="#222"><tspan font-size="5.8" dy="-3">207</tspan><tspan dy="3">Pb/</tspan><tspan font-size="5.8" dy="-3">235</tspan><tspan dy="3">U</tspan></text>
<line x1="470.9" y1="167.1" x2="470.9" y2="12.2" stroke="#c6c6c6" stroke-width="1.1"/>
<line x1="470.9" y1="167.1" x2="542.5" y2="167.1" stroke="#c6c6c6" stroke-width="1.1"/>
<line x1="470.9" y1="131.0" x2="472.9" y2="131.0" stroke="#c8c8c8" stroke-width="0.7"/>
<line x1="470.9" y1="94.9" x2="472.9" y2="94.9" stroke="#c8c8c8" stroke-width="0.7"/>
<line x1="470.9" y1="58.8" x2="472.9" y2="58.8" stroke="#c8c8c8" stroke-width="0.7"/>
<line x1="470.9" y1="22.7" x2="472.9" y2="22.7" stroke="#c8c8c8" stroke-width="0.7"/>
<line x1="484.0" y1="167.1" x2="484.0" y2="165.1" stroke="#c8c8c8" stroke-width="0.7"/>
<line x1="497.1" y1="167.1" x2="497.1" y2="165.1" stroke="#c8c8c8" stroke-width="0.7"/>
<line x1="510.3" y1="167.1" x2="510.3" y2="165.1" stroke="#c8c8c8" stroke-width="0.7"/>
<line x1="523.4" y1="167.1" x2="523.4" y2="165.1" stroke="#c8c8c8" stroke-width="0.7"/>
<line x1="536.5" y1="167.1" x2="536.5" y2="165.1" stroke="#c8c8c8" stroke-width="0.7"/>
<text x="465.3" y="26.1" font-size="8.8" text-anchor="end" font-weight="normal" font-style="normal" fill="#222" >0.20</text>
<text x="465.3" y="62.2" font-size="8.8" text-anchor="end" font-weight="normal" font-style="normal" fill="#222" >0.15</text>
<text x="465.3" y="98.3" font-size="8.8" text-anchor="end" font-weight="normal" font-style="normal" fill="#222" >0.10</text>
<text x="465.3" y="134.4" font-size="8.8" text-anchor="end" font-weight="normal" font-style="normal" fill="#222" >0.05</text>
<text x="465.3" y="170.5" font-size="8.8" text-anchor="end" font-weight="normal" font-style="normal" fill="#222" >0.00</text>
<text x="470.9" y="181.3" font-size="8.8" text-anchor="middle" font-weight="normal" font-style="normal" fill="#222" >0</text>
<text x="536.5" y="181.3" font-size="8.8" text-anchor="middle" font-weight="normal" font-style="normal" fill="#222" >1</text>
<path d="M470.9,167.1 L471.3,166.4 L471.7,165.7 L472.1,165.0 L472.5,164.3 L473.0,163.6 L473.4,162.9 L473.8,162.2 L474.2,161.5 L474.6,160.8 L475.1,160.1 L475.5,159.4 L475.9,158.7 L476.4,157.9 L476.8,157.2 L477.2,156.5 L477.7,155.8 L478.1,155.1 L478.6,154.4 L479.0,153.7 L479.5,153.0 L480.0,152.2 L480.4,151.5 L480.9,150.8 L481.3,150.1 L481.8,149.4 L482.3,148.7 L482.8,148.0 L483.2,147.2 L483.7,146.5 L484.2,145.8 L484.7,145.1 L485.2,144.3 L485.7,143.6 L486.2,142.9 L486.7,142.2 L487.2,141.5 L487.7,140.7 L488.2,140.0 L488.7,139.3 L489.2,138.5 L489.7,137.8 L490.3,137.1 L490.8,136.4 L491.3,135.6 L491.8,134.9 L492.4,134.2 L492.9,133.4 L493.4,132.7 L494.0,132.0 L494.5,131.2 L495.1,130.5 L495.6,129.8 L496.2,129.0 L496.8,128.3 L497.3,127.6 L497.9,126.8 L498.5,126.1 L499.0,125.3 L499.6,124.6 L500.2,123.9 L500.8,123.1 L501.4,122.4 L502.0,121.6 L502.6,120.9 L503.2,120.1 L503.8,119.4 L504.4,118.6 L505.0,117.9 L505.6,117.1 L506.2,116.4 L506.9,115.6 L507.5,114.9 L508.1,114.1 L508.7,113.4 L509.4,112.6 L510.0,111.9 L510.7,111.1 L511.3,110.4 L512.0,109.6 L512.6,108.9 L513.3,108.1 L514.0,107.4 L514.6,106.6 L515.3,105.8 L516.0,105.1 L516.7,104.3 L517.4,103.6 L518.1,102.8 L518.8,102.0 L519.5,101.3 L520.2,100.5 L520.9,99.7 L521.6,99.0 L522.3,98.2 L523.0,97.4 L523.7,96.7 L524.5,95.9 L525.2,95.1 L526.0,94.4 L526.7,93.6 L527.5,92.8 L528.2,92.1 L529.0,91.3 L529.7,90.5 L530.5,89.7 L531.3,89.0 L532.0,88.2 L532.8,87.4 L533.6,86.6 L534.4,85.8 L535.2,85.1 L536.0,84.3 L536.8,83.5 L537.6,82.7 L538.4,81.9 L539.3,81.2 L540.1,80.4 L540.9,79.6 L541.8,78.8 L542.6,78.0" fill="none" stroke="#2a2aa8" stroke-width="0.9"/>
<ellipse cx="477.7" cy="155.8" rx="1.3" ry="2.5" fill="#fff" stroke="#2a2aa8" stroke-width="0.6"/>
<ellipse cx="485.2" cy="144.3" rx="1.3" ry="2.5" fill="#fff" stroke="#2a2aa8" stroke-width="0.6"/>
<ellipse cx="493.4" cy="132.7" rx="1.3" ry="2.5" fill="#fff" stroke="#2a2aa8" stroke-width="0.6"/>
<ellipse cx="502.6" cy="120.9" rx="1.3" ry="2.5" fill="#fff" stroke="#2a2aa8" stroke-width="0.6"/>
<ellipse cx="512.6" cy="108.9" rx="1.3" ry="2.5" fill="#fff" stroke="#2a2aa8" stroke-width="0.6"/>
<ellipse cx="523.7" cy="96.7" rx="1.3" ry="2.5" fill="#fff" stroke="#2a2aa8" stroke-width="0.6"/>
<ellipse cx="536.0" cy="84.3" rx="1.3" ry="2.5" fill="#fff" stroke="#2a2aa8" stroke-width="0.6"/>
<ellipse cx="509.6" cy="130.9" rx="11.0" ry="3.0" transform="rotate(-5.0 509.6 130.9)" fill="#9EDEDD" stroke="#111" stroke-width="0.7" fill-opacity="1"/>
<ellipse cx="499.4" cy="129.7" rx="8.5" ry="2.8" transform="rotate(-8.0 499.4 129.7)" fill="#9EDEDD" stroke="#111" stroke-width="0.7" fill-opacity="1"/>
<ellipse cx="524.2" cy="119.2" rx="10.5" ry="4.0" transform="rotate(-8.0 524.2 119.2)" fill="#9EDEDD" stroke="#111" stroke-width="0.7" fill-opacity="1"/>
<ellipse cx="505.3" cy="119.9" rx="6.5" ry="3.0" transform="rotate(-5.0 505.3 119.9)" fill="#9EDEDD" stroke="#111" stroke-width="0.7" fill-opacity="1"/>
<ellipse cx="506.4" cy="122.1" rx="5.5" ry="2.5" transform="rotate(-5.0 506.4 122.1)" fill="#9EDEDD" stroke="#111" stroke-width="0.7" fill-opacity="1"/>
<ellipse cx="509.6" cy="111.6" rx="13.0" ry="3.2" transform="rotate(-5.0 509.6 111.6)" fill="#9EDEDD" stroke="#111" stroke-width="0.7" fill-opacity="1"/>
<ellipse cx="516.2" cy="111.9" rx="7.5" ry="4.0" transform="rotate(-10.0 516.2 111.9)" fill="#9EDEDD" stroke="#111" stroke-width="0.7" fill-opacity="1"/>
<ellipse cx="511.0" cy="114.8" rx="7.0" ry="2.5" transform="rotate(-10.0 511.0 114.8)" fill="#9EDEDD" stroke="#111" stroke-width="0.7" fill-opacity="1"/>
<ellipse cx="523.0" cy="97.6" rx="5.4" ry="2.9" transform="rotate(-15.0 523.0 97.6)" fill="#9EDEDD" stroke="#111" stroke-width="0.7" fill-opacity="1"/>
<text x="481.5" y="159.0" font-size="6" text-anchor="start" font-weight="normal" font-style="normal" fill="#333" >100</text>
<text x="477.6" y="136.5" font-size="6" text-anchor="start" font-weight="normal" font-style="normal" fill="#333" >300</text>
<text x="492.0" y="104.0" font-size="6" text-anchor="start" font-weight="normal" font-style="normal" fill="#333" >500</text>
<text x="524.0" y="83.0" font-size="6" text-anchor="start" font-weight="normal" font-style="normal" fill="#333" >700</text>
<text x="517.0" y="27.2" font-size="10" text-anchor="start" font-weight="bold" font-style="normal" fill="#111" >ZUT3</text>
<text transform="translate(483.2,17.9) rotate(-90)" x="0" y="0" font-size="9.5" text-anchor="end" fill="#222"><tspan font-size="5.2" dy="-3">206</tspan><tspan dy="3">Pb/</tspan><tspan font-size="5.2" dy="-3">238</tspan><tspan dy="3">U</tspan></text>
<text x="544.6" y="165.2" font-size="9.0" text-anchor="end" fill="#222"><tspan font-size="5.8" dy="-3">207</tspan><tspan dy="3">Pb/</tspan><tspan font-size="5.8" dy="-3">235</tspan><tspan dy="3">U</tspan></text>
<line x1="581.6" y1="167.0" x2="581.6" y2="11.5" stroke="#c6c6c6" stroke-width="1.1"/>
<line x1="581.6" y1="167.0" x2="662.0" y2="167.0" stroke="#c6c6c6" stroke-width="1.1"/>
<line x1="581.6" y1="154.7" x2="583.6" y2="154.7" stroke="#c8c8c8" stroke-width="0.7"/>
<line x1="581.6" y1="142.3" x2="583.6" y2="142.3" stroke="#c8c8c8" stroke-width="0.7"/>
<line x1="581.6" y1="130.0" x2="583.6" y2="130.0" stroke="#c8c8c8" stroke-width="0.7"/>
<line x1="581.6" y1="117.7" x2="583.6" y2="117.7" stroke="#c8c8c8" stroke-width="0.7"/>
<line x1="581.6" y1="105.4" x2="583.6" y2="105.4" stroke="#c8c8c8" stroke-width="0.7"/>
<line x1="581.6" y1="93.0" x2="583.6" y2="93.0" stroke="#c8c8c8" stroke-width="0.7"/>
<line x1="581.6" y1="80.7" x2="583.6" y2="80.7" stroke="#c8c8c8" stroke-width="0.7"/>
<line x1="581.6" y1="68.4" x2="583.6" y2="68.4" stroke="#c8c8c8" stroke-width="0.7"/>
<line x1="581.6" y1="56.1" x2="583.6" y2="56.1" stroke="#c8c8c8" stroke-width="0.7"/>
<line x1="581.6" y1="43.8" x2="583.6" y2="43.8" stroke="#c8c8c8" stroke-width="0.7"/>
<line x1="581.6" y1="31.4" x2="583.6" y2="31.4" stroke="#c8c8c8" stroke-width="0.7"/>
<line x1="581.6" y1="19.1" x2="583.6" y2="19.1" stroke="#c8c8c8" stroke-width="0.7"/>
<line x1="589.5" y1="167.0" x2="589.5" y2="165.0" stroke="#c8c8c8" stroke-width="0.7"/>
<line x1="597.5" y1="167.0" x2="597.5" y2="165.0" stroke="#c8c8c8" stroke-width="0.7"/>
<line x1="605.4" y1="167.0" x2="605.4" y2="165.0" stroke="#c8c8c8" stroke-width="0.7"/>
<line x1="613.4" y1="167.0" x2="613.4" y2="165.0" stroke="#c8c8c8" stroke-width="0.7"/>
<line x1="621.3" y1="167.0" x2="621.3" y2="165.0" stroke="#c8c8c8" stroke-width="0.7"/>
<line x1="629.2" y1="167.0" x2="629.2" y2="165.0" stroke="#c8c8c8" stroke-width="0.7"/>
<line x1="637.2" y1="167.0" x2="637.2" y2="165.0" stroke="#c8c8c8" stroke-width="0.7"/>
<line x1="645.1" y1="167.0" x2="645.1" y2="165.0" stroke="#c8c8c8" stroke-width="0.7"/>
<line x1="653.1" y1="167.0" x2="653.1" y2="165.0" stroke="#c8c8c8" stroke-width="0.7"/>
<line x1="661.0" y1="167.0" x2="661.0" y2="165.0" stroke="#c8c8c8" stroke-width="0.7"/>
<text x="574.6" y="22.5" font-size="8.8" text-anchor="end" font-weight="normal" font-style="normal" fill="#222" >0.12</text>
<text x="574.6" y="71.8" font-size="8.8" text-anchor="end" font-weight="normal" font-style="normal" fill="#222" >0.08</text>
<text x="574.6" y="121.1" font-size="8.8" text-anchor="end" font-weight="normal" font-style="normal" fill="#222" >0.04</text>
<text x="574.6" y="170.4" font-size="8.8" text-anchor="end" font-weight="normal" font-style="normal" fill="#222" >0.00</text>
<text x="581.6" y="178.0" font-size="8.8" text-anchor="middle" font-weight="normal" font-style="normal" fill="#222" >0</text>
<text x="661.0" y="178.0" font-size="8.8" text-anchor="middle" font-weight="normal" font-style="normal" fill="#222" >1</text>
<path d="M581.6,167.0 L582.1,165.9 L582.5,164.8 L583.0,163.6 L583.5,162.5 L583.9,161.4 L584.4,160.2 L584.9,159.1 L585.4,158.0 L585.8,156.8 L586.3,155.7 L586.8,154.6 L587.3,153.4 L587.8,152.3 L588.3,151.2 L588.8,150.0 L589.3,148.9 L589.8,147.8 L590.3,146.6 L590.8,145.5 L591.3,144.3 L591.9,143.2 L592.4,142.0 L592.9,140.9 L593.4,139.7 L594.0,138.6 L594.5,137.4 L595.0,136.3 L595.6,135.1 L596.1,134.0 L596.7,132.8 L597.2,131.7 L597.8,130.5 L598.3,129.4 L598.9,128.2 L599.4,127.1 L600.0,125.9 L600.6,124.7 L601.1,123.6 L601.7,122.4 L602.3,121.2 L602.9,120.1 L603.4,118.9 L604.0,117.7 L604.6,116.6 L605.2,115.4 L605.8,114.2 L606.4,113.1 L607.0,111.9 L607.6,110.7 L608.2,109.5 L608.9,108.4 L609.5,107.2 L610.1,106.0 L610.7,104.8 L611.4,103.6 L612.0,102.5 L612.6,101.3 L613.3,100.1 L613.9,98.9 L614.6,97.7 L615.2,96.5 L615.9,95.4 L616.5,94.2 L617.2,93.0 L617.9,91.8 L618.5,90.6 L619.2,89.4 L619.9,88.2 L620.6,87.0 L621.2,85.8 L621.9,84.6 L622.6,83.4 L623.3,82.2 L624.0,81.0 L624.7,79.8 L625.5,78.6 L626.2,77.4 L626.9,76.2 L627.6,75.0 L628.3,73.8 L629.1,72.6 L629.8,71.4 L630.5,70.2 L631.3,68.9 L632.0,67.7 L632.8,66.5 L633.6,65.3 L634.3,64.1 L635.1,62.9 L635.9,61.6 L636.6,60.4 L637.4,59.2 L638.2,58.0 L639.0,56.8 L639.8,55.5 L640.6,54.3 L641.4,53.1 L642.2,51.9 L643.0,50.6 L643.8,49.4 L644.6,48.2 L645.5,46.9 L646.3,45.7 L647.1,44.5 L648.0,43.2 L648.8,42.0 L649.7,40.8 L650.5,39.5 L651.4,38.3 L652.2,37.0 L653.1,35.8 L654.0,34.6 L654.9,33.3 L655.8,32.1 L656.7,30.8 L657.5,29.6 L658.5,28.3 L659.4,27.1 L660.3,25.8 L661.2,24.6" fill="none" stroke="#8a8ae0" stroke-width="0.7"/>
<ellipse cx="617.3" cy="99.8" rx="44.0" ry="11.0" transform="rotate(-67.0 617.3 99.8)" fill="#8C8C8C" stroke="#222" stroke-width="0.5" fill-opacity="1"/>
<ellipse cx="628.8" cy="62.7" rx="18.0" ry="15.0" transform="rotate(0.0 628.8 62.7)" fill="#8C8C8C" stroke="#222" stroke-width="0.5" fill-opacity="1"/>
<ellipse cx="628.8" cy="82.6" rx="20.0" ry="12.0" transform="rotate(-30.0 628.8 82.6)" fill="#8C8C8C" stroke="#222" stroke-width="0.5" fill-opacity="1"/>
<ellipse cx="630.3" cy="79.2" rx="5.0" ry="4.5" transform="rotate(-60.0 630.3 79.2)" fill="#8C8C8C" stroke="#222" stroke-width="0.5" fill-opacity="1"/>
<ellipse cx="618.4" cy="91.1" rx="7.0" ry="4.5" transform="rotate(-50.0 618.4 91.1)" fill="#8C8C8C" stroke="#222" stroke-width="0.5" fill-opacity="1"/>
<ellipse cx="613.6" cy="103.4" rx="9.0" ry="3.5" transform="rotate(-15.0 613.6 103.4)" fill="#8C8C8C" stroke="#222" stroke-width="0.5" fill-opacity="1"/>
<ellipse cx="613.6" cy="111.0" rx="10.0" ry="8.0" transform="rotate(-30.0 613.6 111.0)" fill="#8C8C8C" stroke="#222" stroke-width="0.5" fill-opacity="1"/>
<ellipse cx="642.0" cy="47.5" rx="9.0" ry="4.0" transform="rotate(-20.0 642.0 47.5)" fill="#8C8C8C" stroke="#222" stroke-width="0.5" fill-opacity="1"/>
<ellipse cx="649.3" cy="39.9" rx="4.6" ry="4.5" transform="rotate(0.0 649.3 39.9)" fill="#8C8C8C" stroke="#222" stroke-width="0.5" fill-opacity="1"/>
<ellipse cx="604.5" cy="143.6" rx="3.5" ry="2.0" transform="rotate(-35.0 604.5 143.6)" fill="#8C8C8C" stroke="#222" stroke-width="0.5" fill-opacity="1"/>
<text x="589.9" y="153.0" font-size="6" text-anchor="start" font-weight="normal" font-style="normal" fill="#333" >100</text>
<text x="662.9" y="28.8" font-size="6" text-anchor="start" font-weight="normal" font-style="normal" fill="#333" >700</text>
<text x="604.2" y="27.1" font-size="10" text-anchor="start" font-weight="bold" font-style="normal" fill="#111" >ZUT4</text>
<text transform="translate(592.0,19.5) rotate(-90)" x="0" y="0" font-size="9.5" text-anchor="end" fill="#222"><tspan font-size="5.2" dy="-3">206</tspan><tspan dy="3">Pb/</tspan><tspan font-size="5.2" dy="-3">238</tspan><tspan dy="3">U</tspan></text>
<text x="661.5" y="165.6" font-size="9.0" text-anchor="end" fill="#222"><tspan font-size="5.8" dy="-3">207</tspan><tspan dy="3">Pb/</tspan><tspan font-size="5.8" dy="-3">235</tspan><tspan dy="3">U</tspan></text>
<line x1="368.8" y1="411.8" x2="368.8" y2="196.0" stroke="#c6c6c6" stroke-width="1.1"/>
<line x1="368.8" y1="411.8" x2="631.2" y2="411.8" stroke="#c6c6c6" stroke-width="1.1"/>
<line x1="368.8" y1="380.9" x2="370.8" y2="380.9" stroke="#c8c8c8" stroke-width="0.7"/>
<line x1="368.8" y1="350.0" x2="370.8" y2="350.0" stroke="#c8c8c8" stroke-width="0.7"/>
<line x1="368.8" y1="319.0" x2="370.8" y2="319.0" stroke="#c8c8c8" stroke-width="0.7"/>
<line x1="368.8" y1="288.1" x2="370.8" y2="288.1" stroke="#c8c8c8" stroke-width="0.7"/>
<line x1="368.8" y1="257.2" x2="370.8" y2="257.2" stroke="#c8c8c8" stroke-width="0.7"/>
<line x1="368.8" y1="226.3" x2="370.8" y2="226.3" stroke="#c8c8c8" stroke-width="0.7"/>
<line x1="395.0" y1="411.8" x2="395.0" y2="409.8" stroke="#c8c8c8" stroke-width="0.7"/>
<line x1="421.2" y1="411.8" x2="421.2" y2="409.8" stroke="#c8c8c8" stroke-width="0.7"/>
<line x1="447.4" y1="411.8" x2="447.4" y2="409.8" stroke="#c8c8c8" stroke-width="0.7"/>
<line x1="473.6" y1="411.8" x2="473.6" y2="409.8" stroke="#c8c8c8" stroke-width="0.7"/>
<line x1="499.8" y1="411.8" x2="499.8" y2="409.8" stroke="#c8c8c8" stroke-width="0.7"/>
<line x1="526.0" y1="411.8" x2="526.0" y2="409.8" stroke="#c8c8c8" stroke-width="0.7"/>
<line x1="552.2" y1="411.8" x2="552.2" y2="409.8" stroke="#c8c8c8" stroke-width="0.7"/>
<line x1="578.4" y1="411.8" x2="578.4" y2="409.8" stroke="#c8c8c8" stroke-width="0.7"/>
<line x1="604.6" y1="411.8" x2="604.6" y2="409.8" stroke="#c8c8c8" stroke-width="0.7"/>
<line x1="630.8" y1="411.8" x2="630.8" y2="409.8" stroke="#c8c8c8" stroke-width="0.7"/>
<text x="360.3" y="229.7" font-size="9.2" text-anchor="end" font-weight="normal" font-style="normal" fill="#222" >0.6</text>
<text x="360.3" y="291.5" font-size="9.2" text-anchor="end" font-weight="normal" font-style="normal" fill="#222" >0.4</text>
<text x="360.3" y="353.4" font-size="9.2" text-anchor="end" font-weight="normal" font-style="normal" fill="#222" >0.2</text>
<text x="360.3" y="415.2" font-size="9.2" text-anchor="end" font-weight="normal" font-style="normal" fill="#222" >0.0</text>
<text x="368.8" y="425.6" font-size="9.2" text-anchor="middle" font-weight="normal" font-style="normal" fill="#222" >0</text>
<text x="421.2" y="425.6" font-size="9.2" text-anchor="middle" font-weight="normal" font-style="normal" fill="#222" >4</text>
<text x="473.6" y="425.6" font-size="9.2" text-anchor="middle" font-weight="normal" font-style="normal" fill="#222" >8</text>
<text x="526.0" y="425.6" font-size="9.2" text-anchor="middle" font-weight="normal" font-style="normal" fill="#222" >12</text>
<text x="578.4" y="425.6" font-size="9.2" text-anchor="middle" font-weight="normal" font-style="normal" fill="#222" >16</text>
<text x="630.8" y="425.6" font-size="9.2" text-anchor="middle" font-weight="normal" font-style="normal" fill="#222" >20</text>
<ellipse cx="383.5" cy="386.3" rx="20.5" ry="6.6" transform="rotate(-24.0 383.5 386.3)" fill="#00621A" stroke="#222" stroke-width="0.5" fill-opacity="1"/>
<ellipse cx="380.3" cy="388.4" rx="17.3" ry="7.4" transform="rotate(-19.0 380.3 388.4)" fill="#0071BC" stroke="#222" stroke-width="0.5" fill-opacity="1"/>
<ellipse cx="399.9" cy="379.0" rx="5.5" ry="1.5" transform="rotate(-8.0 399.9 379.0)" fill="#9EDEDD" stroke="#222" stroke-width="0.5" fill-opacity="1"/>
<ellipse cx="392.3" cy="372.8" rx="6.0" ry="0.9" transform="rotate(-5.0 392.3 372.8)" fill="#113311" stroke="#222" stroke-width="0.5" fill-opacity="1"/>
<ellipse cx="387.5" cy="367.5" rx="5.0" ry="1.2" transform="rotate(-55.0 387.5 367.5)" fill="#00621A" stroke="#222" stroke-width="0.5" fill-opacity="1"/>
<ellipse cx="390.5" cy="366.5" rx="5.0" ry="1.1" transform="rotate(-60.0 390.5 366.5)" fill="#00621A" stroke="#222" stroke-width="0.5" fill-opacity="1"/>
<ellipse cx="372.0" cy="401.0" rx="3.0" ry="1.5" transform="rotate(-50.0 372.0 401.0)" fill="#111" stroke="#222" stroke-width="0.5" fill-opacity="1"/>
<ellipse cx="417.3" cy="391.0" rx="13.3" ry="1.5" transform="rotate(-8.0 417.3 391.0)" fill="#FFF200" stroke="#222" stroke-width="0.5" fill-opacity="1"/>
<ellipse cx="404.1" cy="335.5" rx="8.1" ry="6.6" transform="rotate(-20.0 404.1 335.5)" fill="#00621A" stroke="#222" stroke-width="0.5" fill-opacity="1"/>
<ellipse cx="421.5" cy="347.5" rx="11.0" ry="4.6" transform="rotate(-42.0 421.5 347.5)" fill="#9EDEDD" stroke="#222" stroke-width="0.5" fill-opacity="1"/>
<ellipse cx="418.5" cy="351.2" rx="9.5" ry="3.6" transform="rotate(-45.0 418.5 351.2)" fill="#9EDEDD" stroke="#222" stroke-width="0.5" fill-opacity="1"/>
<ellipse cx="404.5" cy="348.6" rx="13.7" ry="4.5" transform="rotate(-59.0 404.5 348.6)" fill="#8C8C8C" stroke="#222" stroke-width="0.5" fill-opacity="1"/>
<ellipse cx="403.6" cy="356.1" rx="6.0" ry="2.5" transform="rotate(-10.0 403.6 356.1)" fill="#8C8C8C" stroke="#222" stroke-width="0.5" fill-opacity="1"/>
<ellipse cx="393.1" cy="357.4" rx="4.0" ry="2.0" transform="rotate(-10.0 393.1 357.4)" fill="#8C8C8C" stroke="#222" stroke-width="0.5" fill-opacity="1"/>
<ellipse cx="429.0" cy="326.3" rx="11.0" ry="6.0" transform="rotate(-60.0 429.0 326.3)" fill="#8C8C8C" stroke="#222" stroke-width="0.5" fill-opacity="1"/>
<ellipse cx="421.6" cy="339.9" rx="10.5" ry="6.0" transform="rotate(-35.0 421.6 339.9)" fill="#8C8C8C" stroke="#222" stroke-width="0.5" fill-opacity="1"/>
<ellipse cx="437.8" cy="317.5" rx="9.0" ry="3.0" transform="rotate(-55.0 437.8 317.5)" fill="#8C8C8C" stroke="#222" stroke-width="0.5" fill-opacity="1"/>
<ellipse cx="442.4" cy="312.7" rx="11.4" ry="3.5" transform="rotate(-52.0 442.4 312.7)" fill="#8C8C8C" stroke="#222" stroke-width="0.5" fill-opacity="1"/>
<ellipse cx="443.5" cy="313.5" rx="9.0" ry="2.2" transform="rotate(-52.0 443.5 313.5)" fill="#8C8C8C" stroke="#222" stroke-width="0.5" fill-opacity="1"/>
<ellipse cx="492.1" cy="288.7" rx="21.3" ry="7.5" transform="rotate(-35.0 492.1 288.7)" fill="#00621A" stroke="#222" stroke-width="0.5" fill-opacity="1"/>
<ellipse cx="497.0" cy="285.5" rx="17.0" ry="3.5" transform="rotate(-37.0 497.0 285.5)" fill="#00621A" stroke="#222" stroke-width="0.5" fill-opacity="1"/>
<ellipse cx="532.5" cy="265.2" rx="22.0" ry="8.0" transform="rotate(-31.0 532.5 265.2)" fill="#9EDEDD" stroke="#222" stroke-width="0.5" fill-opacity="1"/>
<ellipse cx="559.6" cy="247.8" rx="18.4" ry="9.2" transform="rotate(-5.0 559.6 247.8)" fill="#9EDEDD" stroke="#222" stroke-width="0.5" fill-opacity="1"/>
<ellipse cx="427.9" cy="318.2" rx="6.9" ry="4.3" transform="rotate(-8.0 427.9 318.2)" fill="#BDBDF4" stroke="#222" stroke-width="0.5" fill-opacity="1"/>
<ellipse cx="371.6" cy="400.5" rx="2.6" ry="1.5" transform="rotate(-60.0 371.6 400.5)" fill="#111" stroke="#222" stroke-width="0.5" fill-opacity="1"/>
<ellipse cx="372.6" cy="404.8" rx="2.2" ry="1.2" transform="rotate(-30.0 372.6 404.8)" fill="#222" stroke="#222" stroke-width="0.5" fill-opacity="1"/>
<ellipse cx="376.0" cy="384.0" rx="7.0" ry="1.8" transform="rotate(-60.0 376.0 384.0)" fill="#BDBDF4" stroke="#222" stroke-width="0.5" fill-opacity="1"/>
<ellipse cx="374.0" cy="392.0" rx="5.0" ry="1.3" transform="rotate(-65.0 374.0 392.0)" fill="#BDBDF4" stroke="#222" stroke-width="0.5" fill-opacity="1"/>
<ellipse cx="380.0" cy="393.0" rx="8.0" ry="1.2" transform="rotate(-25.0 380.0 393.0)" fill="#BDBDF4" stroke="#222" stroke-width="0.5" fill-opacity="1"/>
<ellipse cx="384.0" cy="375.0" rx="4.0" ry="2.5" transform="rotate(-70.0 384.0 375.0)" fill="#BDBDF4" stroke="#222" stroke-width="0.5" fill-opacity="1"/>
<path d="M368.8,411.8 L369.1,410.6 L369.5,409.3 L369.8,408.1 L370.2,406.8 L370.6,405.6 L371.0,404.3 L371.3,403.0 L371.7,401.8 L372.2,400.5 L372.6,399.2 L373.0,397.9 L373.5,396.6 L373.9,395.3 L374.4,394.0 L374.9,392.7 L375.4,391.4 L375.9,390.1 L376.4,388.7 L376.9,387.4 L377.5,386.1 L378.0,384.7 L378.6,383.4 L379.2,382.0 L379.8,380.7 L380.4,379.3 L381.0,377.9 L381.7,376.6 L382.4,375.2 L383.0,373.8 L383.7,372.4 L384.5,371.0 L385.2,369.6 L386.0,368.2 L386.7,366.8 L387.5,365.4 L388.4,363.9 L389.2,362.5 L390.1,361.1 L390.9,359.6 L391.8,358.2 L392.8,356.7 L393.7,355.3 L394.7,353.8 L395.7,352.3 L396.7,350.9 L397.8,349.4 L398.9,347.9 L400.0,346.4 L401.1,344.9 L402.3,343.4 L403.5,341.9 L404.7,340.4 L406.0,338.8 L407.3,337.3 L408.6,335.8 L410.0,334.2 L411.3,332.7 L412.8,331.1 L414.2,329.6 L415.8,328.0 L417.3,326.4 L418.9,324.8 L420.5,323.3 L422.2,321.7 L423.9,320.1 L425.6,318.5 L427.4,316.8 L429.3,315.2 L431.2,313.6 L433.1,312.0 L435.1,310.3 L437.1,308.7 L439.2,307.0 L441.4,305.4 L443.6,303.7 L445.8,302.0 L448.1,300.4 L450.5,298.7 L453.0,297.0 L455.5,295.3 L458.0,293.6 L460.6,291.9 L463.3,290.2 L466.1,288.4 L469.0,286.7 L471.9,285.0 L474.8,283.2 L477.9,281.5 L481.0,279.7 L484.3,277.9 L487.6,276.2 L491.0,274.4 L494.4,272.6 L498.0,270.8 L501.7,269.0 L505.4,267.2 L509.3,265.4 L513.2,263.5 L517.3,261.7 L521.4,259.9 L525.7,258.0 L530.0,256.2 L534.5,254.3 L539.1,252.4 L543.8,250.6 L548.7,248.7 L553.6,246.8 L558.7,244.9 L563.9,243.0 L569.3,241.1 L574.8,239.1 L580.4,237.2 L586.2,235.3 L592.1,233.3 L598.2,231.4 L604.4,229.4 L610.8,227.4 L617.4,225.5 L624.1,223.5 L631.0,221.5" fill="none" stroke="#1c1ca0" stroke-width="1.2"/>
<ellipse cx="371.7" cy="402.1" rx="1.7" ry="1.7" fill="#fff" stroke="#1c1ca0" stroke-width="0.6"/>
<ellipse cx="375.1" cy="392.0" rx="1.7" ry="1.7" fill="#fff" stroke="#1c1ca0" stroke-width="0.6"/>
<ellipse cx="379.4" cy="381.6" rx="1.7" ry="1.7" fill="#fff" stroke="#1c1ca0" stroke-width="0.6"/>
<ellipse cx="384.5" cy="370.9" rx="1.7" ry="1.7" fill="#fff" stroke="#1c1ca0" stroke-width="0.6"/>
<ellipse cx="390.8" cy="359.9" rx="1.7" ry="1.7" fill="#fff" stroke="#1c1ca0" stroke-width="0.6"/>
<ellipse cx="398.4" cy="348.5" rx="1.7" ry="1.7" fill="#fff" stroke="#1c1ca0" stroke-width="0.6"/>
<ellipse cx="407.7" cy="336.8" rx="1.7" ry="1.7" fill="#fff" stroke="#1c1ca0" stroke-width="0.6"/>
<ellipse cx="419.0" cy="324.7" rx="1.7" ry="1.7" fill="#fff" stroke="#1c1ca0" stroke-width="0.6"/>
<ellipse cx="432.8" cy="312.2" rx="1.7" ry="1.7" fill="#fff" stroke="#1c1ca0" stroke-width="0.6"/>
<ellipse cx="449.6" cy="299.3" rx="1.7" ry="1.7" fill="#fff" stroke="#1c1ca0" stroke-width="0.6"/>
<ellipse cx="470.1" cy="286.0" rx="1.7" ry="1.7" fill="#fff" stroke="#1c1ca0" stroke-width="0.6"/>
<ellipse cx="494.9" cy="272.3" rx="1.7" ry="1.7" fill="#fff" stroke="#1c1ca0" stroke-width="0.6"/>
<ellipse cx="525.3" cy="258.2" rx="1.7" ry="1.7" fill="#fff" stroke="#1c1ca0" stroke-width="0.6"/>
<ellipse cx="562.2" cy="243.6" rx="1.7" ry="1.7" fill="#fff" stroke="#1c1ca0" stroke-width="0.6"/>
<ellipse cx="607.1" cy="228.6" rx="1.7" ry="1.7" fill="#fff" stroke="#1c1ca0" stroke-width="0.6"/>
<text x="379.7" y="357.8" font-size="7.5" text-anchor="middle" font-weight="normal" font-style="normal" fill="#333" >1,000</text>
<text x="389.4" y="331.5" font-size="7.5" text-anchor="middle" font-weight="normal" font-style="normal" fill="#333" >1,400</text>
<text x="419.1" y="309.4" font-size="7.5" text-anchor="middle" font-weight="normal" font-style="normal" fill="#333" >1,800</text>
<text x="455.3" y="283.3" font-size="7.5" text-anchor="middle" font-weight="normal" font-style="normal" fill="#333" >2,200</text>
<text x="511.8" y="254.9" font-size="7.5" text-anchor="middle" font-weight="normal" font-style="normal" fill="#333" >2,600</text>
<text x="593.2" y="225.7" font-size="7.5" text-anchor="middle" font-weight="normal" font-style="normal" fill="#333" >3,000</text>
<text transform="translate(382.0,197.4) rotate(-90)" x="0" y="0" font-size="9" text-anchor="end" fill="#222"><tspan font-size="5.8" dy="-3">206</tspan><tspan dy="3">Pb/</tspan><tspan font-size="5.8" dy="-3">238</tspan><tspan dy="3">U</tspan></text>
<text x="629.5" y="402.8" font-size="9.2" text-anchor="end" fill="#222"><tspan font-size="5.9" dy="-3">207</tspan><tspan dy="3">Pb/</tspan><tspan font-size="5.9" dy="-3">235</tspan><tspan dy="3">U</tspan></text>
<line x1="600.6" y1="304.1" x2="600.6" y2="313.3" stroke="#aaa" stroke-width="0.9"/>
<line x1="600.6" y1="317.2" x2="600.6" y2="348.6" stroke="#aaa" stroke-width="0.9"/>
<line x1="600.6" y1="355.2" x2="600.6" y2="364.4" stroke="#aaa" stroke-width="0.9"/>
<ellipse cx="608.2" cy="307.7" rx="4.3" ry="2.9" transform="rotate(0.0 608.2 307.7)" fill="#FFF200" stroke="#333" stroke-width="0.5" fill-opacity="1"/>
<text x="616.0" y="311.4" font-size="7.4" text-anchor="start" font-weight="normal" font-style="normal" fill="#333" >ZUT2</text>
<ellipse cx="608.2" cy="319.7" rx="4.3" ry="2.9" transform="rotate(0.0 608.2 319.7)" fill="#9EDEDD" stroke="#333" stroke-width="0.5" fill-opacity="1"/>
<text x="616.0" y="323.4" font-size="7.4" text-anchor="start" font-weight="normal" font-style="normal" fill="#333" >ZUT3</text>
<ellipse cx="608.2" cy="328.2" rx="4.3" ry="2.9" transform="rotate(0.0 608.2 328.2)" fill="#8C8C8C" stroke="#333" stroke-width="0.5" fill-opacity="1"/>
<text x="616.0" y="331.9" font-size="7.4" text-anchor="start" font-weight="normal" font-style="normal" fill="#333" >ZUT4</text>
<ellipse cx="608.2" cy="336.6" rx="4.3" ry="2.9" transform="rotate(0.0 608.2 336.6)" fill="#00621A" stroke="#333" stroke-width="0.5" fill-opacity="1"/>
<text x="616.0" y="340.3" font-size="7.4" text-anchor="start" font-weight="normal" font-style="normal" fill="#333" >ZUT6</text>
<ellipse cx="608.2" cy="345.0" rx="4.3" ry="2.9" transform="rotate(0.0 608.2 345.0)" fill="#0071BC" stroke="#333" stroke-width="0.5" fill-opacity="1"/>
<text x="616.0" y="348.7" font-size="7.4" text-anchor="start" font-weight="normal" font-style="normal" fill="#333" >ZUT7</text>
<ellipse cx="608.2" cy="359.6" rx="4.3" ry="2.9" transform="rotate(0.0 608.2 359.6)" fill="#BDBDF4" stroke="#333" stroke-width="0.5" fill-opacity="1"/>
<text x="616.0" y="363.3" font-size="7.4" text-anchor="start" font-weight="normal" font-style="normal" fill="#333" >ZUT9</text>
<text x="591.4" y="313.2" font-size="10" text-anchor="end" font-weight="normal" font-style="italic" fill="#222" >TBT</text>
<text x="590.7" y="338.8" font-size="10" text-anchor="end" font-weight="normal" font-style="italic" fill="#222" >VSL</text>
<text x="591.4" y="364.2" font-size="10" text-anchor="end" font-weight="normal" font-style="italic" fill="#222" >GOT</text>
<line x1="366.0" y1="597.6" x2="366.0" y2="439.6" stroke="#c6c6c6" stroke-width="1.1"/>
<line x1="366.0" y1="597.6" x2="451.0" y2="597.6" stroke="#c6c6c6" stroke-width="1.1"/>
<line x1="366.0" y1="574.8" x2="368.0" y2="574.8" stroke="#c8c8c8" stroke-width="0.7"/>
<line x1="366.0" y1="552.0" x2="368.0" y2="552.0" stroke="#c8c8c8" stroke-width="0.7"/>
<line x1="366.0" y1="529.1" x2="368.0" y2="529.1" stroke="#c8c8c8" stroke-width="0.7"/>
<line x1="366.0" y1="506.3" x2="368.0" y2="506.3" stroke="#c8c8c8" stroke-width="0.7"/>
<line x1="366.0" y1="483.5" x2="368.0" y2="483.5" stroke="#c8c8c8" stroke-width="0.7"/>
<line x1="366.0" y1="460.7" x2="368.0" y2="460.7" stroke="#c8c8c8" stroke-width="0.7"/>
<line x1="380.0" y1="597.6" x2="380.0" y2="595.6" stroke="#c8c8c8" stroke-width="0.7"/>
<line x1="394.0" y1="597.6" x2="394.0" y2="595.6" stroke="#c8c8c8" stroke-width="0.7"/>
<line x1="408.0" y1="597.6" x2="408.0" y2="595.6" stroke="#c8c8c8" stroke-width="0.7"/>
<line x1="422.0" y1="597.6" x2="422.0" y2="595.6" stroke="#c8c8c8" stroke-width="0.7"/>
<line x1="436.0" y1="597.6" x2="436.0" y2="595.6" stroke="#c8c8c8" stroke-width="0.7"/>
<line x1="450.0" y1="597.6" x2="450.0" y2="595.6" stroke="#c8c8c8" stroke-width="0.7"/>
<text x="361.8" y="464.1" font-size="8.6" text-anchor="end" font-weight="normal" font-style="normal" fill="#222" >0.12</text>
<text x="361.8" y="509.7" font-size="8.6" text-anchor="end" font-weight="normal" font-style="normal" fill="#222" >0.08</text>
<text x="361.8" y="555.4" font-size="8.6" text-anchor="end" font-weight="normal" font-style="normal" fill="#222" >0.04</text>
<text x="361.8" y="601.0" font-size="8.6" text-anchor="end" font-weight="normal" font-style="normal" fill="#222" >0.00</text>
<text x="366.0" y="611.5" font-size="8.6" text-anchor="middle" font-weight="normal" font-style="normal" fill="#222" >0</text>
<text x="436.0" y="611.5" font-size="8.6" text-anchor="middle" font-weight="normal" font-style="normal" fill="#222" >1</text>
<path d="M366.0,597.6 L366.5,596.4 L366.9,595.2 L367.4,594.1 L367.9,592.9 L368.3,591.7 L368.8,590.5 L369.3,589.3 L369.8,588.1 L370.3,586.9 L370.8,585.7 L371.2,584.5 L371.7,583.4 L372.2,582.2 L372.7,581.0 L373.2,579.8 L373.8,578.6 L374.3,577.4 L374.8,576.2 L375.3,575.0 L375.8,573.8 L376.3,572.5 L376.9,571.3 L377.4,570.1 L377.9,568.9 L378.5,567.7 L379.0,566.5 L379.6,565.3 L380.1,564.1 L380.7,562.9 L381.2,561.6 L381.8,560.4 L382.4,559.2 L382.9,558.0 L383.5,556.8 L384.1,555.5 L384.7,554.3 L385.2,553.1 L385.8,551.9 L386.4,550.6 L387.0,549.4 L387.6,548.2 L388.2,546.9 L388.8,545.7 L389.4,544.5 L390.1,543.2 L390.7,542.0 L391.3,540.8 L391.9,539.5 L392.6,538.3 L393.2,537.0 L393.8,535.8 L394.5,534.6 L395.1,533.3 L395.8,532.1 L396.4,530.8 L397.1,529.6 L397.8,528.3 L398.4,527.1 L399.1,525.8 L399.8,524.6 L400.5,523.3 L401.2,522.0 L401.9,520.8 L402.6,519.5 L403.3,518.3 L404.0,517.0 L404.7,515.7 L405.4,514.5 L406.1,513.2 L406.8,511.9 L407.6,510.7 L408.3,509.4 L409.0,508.1 L409.8,506.9 L410.5,505.6 L411.3,504.3 L412.1,503.0 L412.8,501.7 L413.6,500.5 L414.4,499.2 L415.1,497.9 L415.9,496.6 L416.7,495.3 L417.5,494.0 L418.3,492.8 L419.1,491.5 L419.9,490.2 L420.7,488.9 L421.6,487.6 L422.4,486.3 L423.2,485.0 L424.1,483.7 L424.9,482.4 L425.8,481.1 L426.6,479.8 L427.5,478.5 L428.3,477.2 L429.2,475.9 L430.1,474.6 L431.0,473.3 L431.9,472.0 L432.8,470.7 L433.7,469.4 L434.6,468.0 L435.5,466.7 L436.4,465.4 L437.3,464.1 L438.3,462.8 L439.2,461.5 L440.1,460.1 L441.1,458.8 L442.0,457.5 L443.0,456.2 L444.0,454.8 L444.9,453.5 L445.9,452.2 L446.9,450.8 L447.9,449.5 L448.9,448.2 L449.9,446.8" fill="none" stroke="#6a6ad0" stroke-width="0.7"/>
<ellipse cx="373.2" cy="579.8" rx="1.3" ry="1.3" fill="#fff" stroke="#8080d8" stroke-width="0.6"/>
<ellipse cx="381.2" cy="561.6" rx="1.3" ry="1.3" fill="#fff" stroke="#8080d8" stroke-width="0.6"/>
<ellipse cx="390.1" cy="543.2" rx="1.3" ry="1.3" fill="#fff" stroke="#8080d8" stroke-width="0.6"/>
<ellipse cx="399.8" cy="524.6" rx="1.3" ry="1.3" fill="#fff" stroke="#8080d8" stroke-width="0.6"/>
<ellipse cx="410.5" cy="505.6" rx="1.3" ry="1.3" fill="#fff" stroke="#8080d8" stroke-width="0.6"/>
<ellipse cx="422.4" cy="486.3" rx="1.3" ry="1.3" fill="#fff" stroke="#8080d8" stroke-width="0.6"/>
<ellipse cx="435.5" cy="466.7" rx="1.3" ry="1.3" fill="#fff" stroke="#8080d8" stroke-width="0.6"/>
<ellipse cx="449.9" cy="446.8" rx="1.3" ry="1.3" fill="#fff" stroke="#8080d8" stroke-width="0.6"/>
<ellipse cx="391.2" cy="554.9" rx="2.5" ry="2.0" transform="rotate(0.0 391.2 554.9)" fill="#00621A" stroke="#111" stroke-width="0.5" fill-opacity="1"/>
<ellipse cx="398.1" cy="557.7" rx="4.0" ry="2.5" transform="rotate(0.0 398.1 557.7)" fill="#00621A" stroke="#111" stroke-width="0.5" fill-opacity="1"/>
<ellipse cx="393.4" cy="542.1" rx="5.0" ry="3.0" transform="rotate(-10.0 393.4 542.1)" fill="#00621A" stroke="#111" stroke-width="0.5" fill-opacity="1"/>
<ellipse cx="396.0" cy="543.6" rx="5.0" ry="2.5" transform="rotate(0.0 396.0 543.6)" fill="#00621A" stroke="#111" stroke-width="0.5" fill-opacity="1"/>
<ellipse cx="422.2" cy="522.2" rx="3.5" ry="2.5" transform="rotate(-20.0 422.2 522.2)" fill="#00621A" stroke="#111" stroke-width="0.5" fill-opacity="1"/>
<ellipse cx="423.3" cy="515.0" rx="21.4" ry="5.3" transform="rotate(-3.0 423.3 515.0)" fill="#00621A" stroke="#111" stroke-width="0.5" fill-opacity="1"/>
<ellipse cx="420.1" cy="501.5" rx="11.5" ry="7.0" transform="rotate(-50.0 420.1 501.5)" fill="#00621A" stroke="#111" stroke-width="0.5" fill-opacity="1"/>
<ellipse cx="412.6" cy="500.5" rx="3.0" ry="2.5" transform="rotate(0.0 412.6 500.5)" fill="#00621A" stroke="#111" stroke-width="0.5" fill-opacity="1"/>
<ellipse cx="424.3" cy="490.9" rx="7.0" ry="3.0" transform="rotate(-5.0 424.3 490.9)" fill="#00621A" stroke="#111" stroke-width="0.5" fill-opacity="1"/>
<ellipse cx="428.6" cy="484.5" rx="7.5" ry="4.0" transform="rotate(-5.0 428.6 484.5)" fill="#00621A" stroke="#111" stroke-width="0.5" fill-opacity="1"/>
<text x="376.7" y="585.5" font-size="6" text-anchor="start" font-weight="normal" font-style="normal" fill="#333" >100</text>
<text x="378.9" y="541.1" font-size="6" text-anchor="start" font-weight="normal" font-style="normal" fill="#333" >300</text>
<text x="397.2" y="504.4" font-size="6" text-anchor="start" font-weight="normal" font-style="normal" fill="#333" >500</text>
<text x="425.0" y="466.8" font-size="6" text-anchor="start" font-weight="normal" font-style="normal" fill="#333" >700</text>
<text x="390.8" y="447.1" font-size="10" text-anchor="start" font-weight="bold" font-style="normal" fill="#111" >ZUT6</text>
<text transform="translate(377.0,439.0) rotate(-90)" x="0" y="0" font-size="9.5" text-anchor="end" fill="#222"><tspan font-size="5.2" dy="-3">206</tspan><tspan dy="3">Pb/</tspan><tspan font-size="5.2" dy="-3">238</tspan><tspan dy="3">U</tspan></text>
<text x="449.3" y="595.6" font-size="9.0" text-anchor="end" fill="#222"><tspan font-size="5.8" dy="-3">207</tspan><tspan dy="3">Pb/</tspan><tspan font-size="5.8" dy="-3">235</tspan><tspan dy="3">U</tspan></text>
<line x1="476.3" y1="596.5" x2="476.3" y2="442.8" stroke="#c6c6c6" stroke-width="1.1"/>
<line x1="476.3" y1="596.5" x2="560.6" y2="596.5" stroke="#c6c6c6" stroke-width="1.1"/>
<line x1="476.3" y1="565.2" x2="478.3" y2="565.2" stroke="#c8c8c8" stroke-width="0.7"/>
<line x1="476.3" y1="533.9" x2="478.3" y2="533.9" stroke="#c8c8c8" stroke-width="0.7"/>
<line x1="476.3" y1="502.6" x2="478.3" y2="502.6" stroke="#c8c8c8" stroke-width="0.7"/>
<line x1="476.3" y1="471.3" x2="478.3" y2="471.3" stroke="#c8c8c8" stroke-width="0.7"/>
<line x1="494.9" y1="596.5" x2="494.9" y2="594.5" stroke="#c8c8c8" stroke-width="0.7"/>
<line x1="513.4" y1="596.5" x2="513.4" y2="594.5" stroke="#c8c8c8" stroke-width="0.7"/>
<line x1="532.0" y1="596.5" x2="532.0" y2="594.5" stroke="#c8c8c8" stroke-width="0.7"/>
<line x1="550.5" y1="596.5" x2="550.5" y2="594.5" stroke="#c8c8c8" stroke-width="0.7"/>
<text x="470.8" y="474.7" font-size="8.6" text-anchor="end" font-weight="normal" font-style="normal" fill="#222" >0.20</text>
<text x="470.8" y="506.0" font-size="8.6" text-anchor="end" font-weight="normal" font-style="normal" fill="#222" >0.15</text>
<text x="470.8" y="537.3" font-size="8.6" text-anchor="end" font-weight="normal" font-style="normal" fill="#222" >0.10</text>
<text x="470.8" y="568.6" font-size="8.6" text-anchor="end" font-weight="normal" font-style="normal" fill="#222" >0.05</text>
<text x="470.8" y="599.9" font-size="8.6" text-anchor="end" font-weight="normal" font-style="normal" fill="#222" >0.00</text>
<text x="476.3" y="609.6" font-size="8.6" text-anchor="middle" font-weight="normal" font-style="normal" fill="#222" >0</text>
<text x="513.4" y="609.6" font-size="8.6" text-anchor="middle" font-weight="normal" font-style="normal" fill="#222" >1</text>
<path d="M476.3,596.5 L476.7,595.5 L477.1,594.5 L477.5,593.5 L477.8,592.5 L478.2,591.5 L478.6,590.5 L479.0,589.4 L479.4,588.4 L479.9,587.4 L480.3,586.4 L480.7,585.4 L481.1,584.3 L481.5,583.3 L482.0,582.3 L482.4,581.3 L482.9,580.2 L483.3,579.2 L483.8,578.2 L484.2,577.1 L484.7,576.1 L485.1,575.1 L485.6,574.0 L486.1,573.0 L486.6,571.9 L487.0,570.9 L487.5,569.9 L488.0,568.8 L488.5,567.8 L489.0,566.7 L489.5,565.7 L490.1,564.6 L490.6,563.6 L491.1,562.5 L491.6,561.4 L492.2,560.4 L492.7,559.3 L493.3,558.2 L493.8,557.2 L494.4,556.1 L494.9,555.0 L495.5,554.0 L496.1,552.9 L496.7,551.8 L497.3,550.8 L497.8,549.7 L498.4,548.6 L499.1,547.5 L499.7,546.4 L500.3,545.3 L500.9,544.3 L501.5,543.2 L502.2,542.1 L502.8,541.0 L503.5,539.9 L504.1,538.8 L504.8,537.7 L505.5,536.6 L506.1,535.5 L506.8,534.4 L507.5,533.3 L508.2,532.2 L508.9,531.1 L509.6,530.0 L510.4,528.9 L511.1,527.8 L511.8,526.6 L512.6,525.5 L513.3,524.4 L514.1,523.3 L514.8,522.2 L515.6,521.0 L516.4,519.9 L517.2,518.8 L518.0,517.7 L518.8,516.5 L519.6,515.4 L520.4,514.3 L521.3,513.1 L522.1,512.0 L522.9,510.8 L523.8,509.7 L524.7,508.6 L525.5,507.4 L526.4,506.3 L527.3,505.1 L528.2,504.0 L529.1,502.8 L530.0,501.7 L531.0,500.5 L531.9,499.4 L532.9,498.2 L533.8,497.0 L534.8,495.9 L535.8,494.7 L536.8,493.5 L537.8,492.4 L538.8,491.2 L539.8,490.0 L540.8,488.8 L541.8,487.7 L542.9,486.5 L544.0,485.3 L545.0,484.1 L546.1,482.9 L547.2,481.8 L548.3,480.6 L549.4,479.4 L550.6,478.2 L551.7,477.0 L552.8,475.8 L554.0,474.6 L555.2,473.4 L556.4,472.2 L557.6,471.0 L558.8,469.8 L560.0,468.6 L561.2,467.4 L562.5,466.2 L563.7,464.9 L565.0,463.7" fill="none" stroke="#4a4ac8" stroke-width="0.9"/>
<ellipse cx="484.4" cy="576.8" rx="1.6" ry="1.6" fill="#fff" stroke="#4a4ac8" stroke-width="0.6"/>
<ellipse cx="494.2" cy="556.4" rx="1.6" ry="1.6" fill="#fff" stroke="#4a4ac8" stroke-width="0.6"/>
<ellipse cx="506.2" cy="535.4" rx="1.6" ry="1.6" fill="#fff" stroke="#4a4ac8" stroke-width="0.6"/>
<ellipse cx="520.8" cy="513.8" rx="1.6" ry="1.6" fill="#fff" stroke="#4a4ac8" stroke-width="0.6"/>
<ellipse cx="538.5" cy="491.5" rx="1.6" ry="1.6" fill="#fff" stroke="#4a4ac8" stroke-width="0.6"/>
<ellipse cx="560.2" cy="468.4" rx="1.6" ry="1.6" fill="#fff" stroke="#4a4ac8" stroke-width="0.6"/>
<ellipse cx="508.7" cy="548.9" rx="47.2" ry="11.5" transform="rotate(-10.4 508.7 548.9)" fill="#0871BF" stroke="#111" stroke-width="0.7" fill-opacity="1"/>
<ellipse cx="515.1" cy="544.2" rx="12.6" ry="3.0" transform="rotate(-49.4 515.1 544.2)" fill="none" stroke="#111" stroke-width="0.8" fill-opacity="1"/>
<ellipse cx="489.7" cy="569.8" rx="1.6" ry="1.4" transform="rotate(0.0 489.7 569.8)" fill="#0871BF" stroke="#111" stroke-width="0.5" fill-opacity="1"/>
<text x="486.5" y="581.6" font-size="6" text-anchor="start" font-weight="normal" font-style="normal" fill="#333" >100</text>
<text x="492.3" y="530.8" font-size="6" text-anchor="start" font-weight="normal" font-style="normal" fill="#333" >600</text>
<text x="524.3" y="487.3" font-size="6" text-anchor="start" font-weight="normal" font-style="normal" fill="#333" >1,000</text>
<text x="511.5" y="447.1" font-size="10" text-anchor="start" font-weight="bold" font-style="normal" fill="#111" >ZUT7</text>
<text transform="translate(489.4,441.9) rotate(-90)" x="0" y="0" font-size="9.5" text-anchor="end" fill="#222"><tspan font-size="5.2" dy="-3">206</tspan><tspan dy="3">Pb/</tspan><tspan font-size="5.2" dy="-3">238</tspan><tspan dy="3">U</tspan></text>
<text x="560.6" y="595.0" font-size="9.0" text-anchor="end" fill="#222"><tspan font-size="5.8" dy="-3">207</tspan><tspan dy="3">Pb/</tspan><tspan font-size="5.8" dy="-3">235</tspan><tspan dy="3">U</tspan></text>
<line x1="588.8" y1="598.8" x2="588.8" y2="439.6" stroke="#c6c6c6" stroke-width="1.1"/>
<line x1="588.8" y1="598.8" x2="675.4" y2="598.8" stroke="#c6c6c6" stroke-width="1.1"/>
<line x1="588.8" y1="575.2" x2="590.8" y2="575.2" stroke="#c8c8c8" stroke-width="0.7"/>
<line x1="588.8" y1="551.6" x2="590.8" y2="551.6" stroke="#c8c8c8" stroke-width="0.7"/>
<line x1="588.8" y1="528.0" x2="590.8" y2="528.0" stroke="#c8c8c8" stroke-width="0.7"/>
<line x1="588.8" y1="504.4" x2="590.8" y2="504.4" stroke="#c8c8c8" stroke-width="0.7"/>
<line x1="588.8" y1="480.8" x2="590.8" y2="480.8" stroke="#c8c8c8" stroke-width="0.7"/>
<line x1="588.8" y1="457.2" x2="590.8" y2="457.2" stroke="#c8c8c8" stroke-width="0.7"/>
<line x1="604.9" y1="598.8" x2="604.9" y2="596.8" stroke="#c8c8c8" stroke-width="0.7"/>
<line x1="621.0" y1="598.8" x2="621.0" y2="596.8" stroke="#c8c8c8" stroke-width="0.7"/>
<line x1="637.2" y1="598.8" x2="637.2" y2="596.8" stroke="#c8c8c8" stroke-width="0.7"/>
<line x1="653.3" y1="598.8" x2="653.3" y2="596.8" stroke="#c8c8c8" stroke-width="0.7"/>
<line x1="669.4" y1="598.8" x2="669.4" y2="596.8" stroke="#c8c8c8" stroke-width="0.7"/>
<text x="583.8" y="460.6" font-size="8.6" text-anchor="end" font-weight="normal" font-style="normal" fill="#222" >0.12</text>
<text x="583.8" y="507.8" font-size="8.6" text-anchor="end" font-weight="normal" font-style="normal" fill="#222" >0.08</text>
<text x="583.8" y="555.0" font-size="8.6" text-anchor="end" font-weight="normal" font-style="normal" fill="#222" >0.04</text>
<text x="583.8" y="602.2" font-size="8.6" text-anchor="end" font-weight="normal" font-style="normal" fill="#222" >0.00</text>
<text x="588.8" y="608.8" font-size="8.6" text-anchor="middle" font-weight="normal" font-style="normal" fill="#222" >0</text>
<text x="669.4" y="608.8" font-size="8.6" text-anchor="middle" font-weight="normal" font-style="normal" fill="#222" >1</text>
<path d="M588.8,598.8 L589.3,597.7 L589.8,596.5 L590.3,595.4 L590.8,594.3 L591.3,593.1 L591.8,592.0 L592.3,590.9 L592.8,589.7 L593.3,588.6 L593.9,587.4 L594.4,586.3 L594.9,585.1 L595.4,584.0 L596.0,582.8 L596.5,581.7 L597.0,580.6 L597.6,579.4 L598.1,578.2 L598.7,577.1 L599.2,575.9 L599.8,574.8 L600.4,573.6 L600.9,572.5 L601.5,571.3 L602.1,570.2 L602.6,569.0 L603.2,567.8 L603.8,566.7 L604.4,565.5 L605.0,564.4 L605.5,563.2 L606.1,562.0 L606.7,560.9 L607.3,559.7 L607.9,558.5 L608.6,557.3 L609.2,556.2 L609.8,555.0 L610.4,553.8 L611.0,552.6 L611.7,551.5 L612.3,550.3 L612.9,549.1 L613.6,547.9 L614.2,546.8 L614.9,545.6 L615.5,544.4 L616.2,543.2 L616.8,542.0 L617.5,540.8 L618.2,539.6 L618.8,538.5 L619.5,537.3 L620.2,536.1 L620.9,534.9 L621.6,533.7 L622.2,532.5 L622.9,531.3 L623.6,530.1 L624.3,528.9 L625.1,527.7 L625.8,526.5 L626.5,525.3 L627.2,524.1 L627.9,522.9 L628.7,521.7 L629.4,520.5 L630.1,519.3 L630.9,518.1 L631.6,516.9 L632.4,515.6 L633.2,514.4 L633.9,513.2 L634.7,512.0 L635.5,510.8 L636.2,509.6 L637.0,508.3 L637.8,507.1 L638.6,505.9 L639.4,504.7 L640.2,503.5 L641.0,502.2 L641.8,501.0 L642.6,499.8 L643.4,498.6 L644.3,497.3 L645.1,496.1 L645.9,494.9 L646.8,493.6 L647.6,492.4 L648.5,491.2 L649.3,489.9 L650.2,488.7 L651.1,487.5 L651.9,486.2 L652.8,485.0 L653.7,483.7 L654.6,482.5 L655.5,481.3 L656.4,480.0 L657.3,478.8 L658.2,477.5 L659.1,476.3 L660.0,475.0 L661.0,473.8 L661.9,472.5 L662.8,471.3 L663.8,470.0 L664.7,468.7 L665.7,467.5 L666.7,466.2 L667.6,465.0 L668.6,463.7 L669.6,462.5 L670.6,461.2 L671.6,459.9 L672.5,458.7 L673.6,457.4 L674.6,456.1 L675.6,454.9" fill="none" stroke="#8a8ae0" stroke-width="0.7"/>
<ellipse cx="602.7" cy="572.1" rx="2.0" ry="2.5" transform="rotate(0.0 602.7 572.1)" fill="#BDBDF4" stroke="#333" stroke-width="0.5" fill-opacity="1"/>
<ellipse cx="608.7" cy="560.8" rx="2.5" ry="2.0" transform="rotate(0.0 608.7 560.8)" fill="#BDBDF4" stroke="#333" stroke-width="0.5" fill-opacity="1"/>
<ellipse cx="614.5" cy="558.2" rx="5.0" ry="3.0" transform="rotate(-45.0 614.5 558.2)" fill="#BDBDF4" stroke="#333" stroke-width="0.5" fill-opacity="1"/>
<ellipse cx="613.0" cy="553.9" rx="5.0" ry="3.0" transform="rotate(-45.0 613.0 553.9)" fill="#BDBDF4" stroke="#333" stroke-width="0.5" fill-opacity="1"/>
<ellipse cx="614.5" cy="545.4" rx="10.0" ry="4.2" transform="rotate(-55.0 614.5 545.4)" fill="#BDBDF4" stroke="#333" stroke-width="0.5" fill-opacity="1"/>
<ellipse cx="622.5" cy="535.5" rx="13.0" ry="4.3" transform="rotate(-58.0 622.5 535.5)" fill="#BDBDF4" stroke="#333" stroke-width="0.5" fill-opacity="1"/>
<ellipse cx="642.3" cy="530.4" rx="4.0" ry="4.5" transform="rotate(0.0 642.3 530.4)" fill="#BDBDF4" stroke="#333" stroke-width="0.5" fill-opacity="1"/>
<ellipse cx="650.8" cy="527.2" rx="11.0" ry="4.5" transform="rotate(-20.0 650.8 527.2)" fill="#BDBDF4" stroke="#333" stroke-width="0.5" fill-opacity="1"/>
<ellipse cx="626.2" cy="520.8" rx="3.5" ry="3.0" transform="rotate(0.0 626.2 520.8)" fill="#BDBDF4" stroke="#333" stroke-width="0.5" fill-opacity="1"/>
<ellipse cx="634.8" cy="516.5" rx="7.5" ry="6.5" transform="rotate(-60.0 634.8 516.5)" fill="#BDBDF4" stroke="#333" stroke-width="0.5" fill-opacity="1"/>
<ellipse cx="636.9" cy="504.8" rx="5.0" ry="2.5" transform="rotate(0.0 636.9 504.8)" fill="#BDBDF4" stroke="#333" stroke-width="0.5" fill-opacity="1"/>
<ellipse cx="647.2" cy="496.2" rx="8.0" ry="7.0" transform="rotate(-30.0 647.2 496.2)" fill="#BDBDF4" stroke="#333" stroke-width="0.5" fill-opacity="1"/>
<ellipse cx="649.7" cy="500.5" rx="4.5" ry="3.0" transform="rotate(0.0 649.7 500.5)" fill="#BDBDF4" stroke="#333" stroke-width="0.5" fill-opacity="1"/>
<ellipse cx="659.4" cy="490.5" rx="7.5" ry="4.5" transform="rotate(10.0 659.4 490.5)" fill="#BDBDF4" stroke="#333" stroke-width="0.5" fill-opacity="1"/>
<ellipse cx="648.7" cy="487.3" rx="6.0" ry="3.5" transform="rotate(0.0 648.7 487.3)" fill="#BDBDF4" stroke="#333" stroke-width="0.5" fill-opacity="1"/>
<text x="600.2" y="588.2" font-size="6" text-anchor="start" font-weight="normal" font-style="normal" fill="#333" >100</text>
<text x="633.7" y="447.1" font-size="10" text-anchor="start" font-weight="bold" font-style="normal" fill="#111" >ZUT9</text>
<text transform="translate(603.0,440.9) rotate(-90)" x="0" y="0" font-size="9.5" text-anchor="end" fill="#222"><tspan font-size="5.2" dy="-3">206</tspan><tspan dy="3">Pb/</tspan><tspan font-size="5.2" dy="-3">238</tspan><tspan dy="3">U</tspan></text>
<text x="675.4" y="597.2" font-size="9.0" text-anchor="end" fill="#222"><tspan font-size="5.8" dy="-3">207</tspan><tspan dy="3">Pb/</tspan><tspan font-size="5.8" dy="-3">235</tspan><tspan dy="3">U</tspan></text>
<text x="0.0" y="648.4" font-size="21" text-anchor="start" font-weight="bold" font-style="normal" fill="#111" >(c)</text>
<line x1="36.8" y1="656.3" x2="36.8" y2="808" stroke="#9a9a9a" stroke-width="0.9"/>
<line x1="36.8" y1="808" x2="316.9" y2="808" stroke="#9a9a9a" stroke-width="0.9"/>
<line x1="36.8" y1="661.5" x2="38.8" y2="661.5" stroke="#9a9a9a" stroke-width="0.7"/>
<line x1="36.8" y1="710.3" x2="38.8" y2="710.3" stroke="#9a9a9a" stroke-width="0.7"/>
<line x1="36.8" y1="759.2" x2="38.8" y2="759.2" stroke="#9a9a9a" stroke-width="0.7"/>
<line x1="130.7" y1="808" x2="130.7" y2="806" stroke="#9a9a9a" stroke-width="0.7"/>
<line x1="223.6" y1="808" x2="223.6" y2="806" stroke="#9a9a9a" stroke-width="0.7"/>
<line x1="316.5" y1="808" x2="316.5" y2="806" stroke="#9a9a9a" stroke-width="0.7"/>
<text x="19.3" y="666.8" font-size="10.2" text-anchor="middle" font-weight="normal" font-style="normal" fill="#222" >10</text>
<text x="19.3" y="715.0" font-size="10.2" text-anchor="middle" font-weight="normal" font-style="normal" fill="#222" >1</text>
<text x="19.3" y="764.0" font-size="10.2" text-anchor="middle" font-weight="normal" font-style="normal" fill="#222" >0.1</text>
<text x="19.3" y="813.1" font-size="10.2" text-anchor="middle" font-weight="normal" font-style="normal" fill="#222" >0.01</text>
<text x="35.0" y="823.8" font-size="10" text-anchor="middle" font-weight="normal" font-style="normal" fill="#222" >0</text>
<text x="128.5" y="823.8" font-size="10" text-anchor="middle" font-weight="normal" font-style="normal" fill="#222" >1,000</text>
<text x="219.8" y="823.8" font-size="10" text-anchor="middle" font-weight="normal" font-style="normal" fill="#222" >2,000</text>
<text x="311.4" y="823.8" font-size="10" text-anchor="middle" font-weight="normal" font-style="normal" fill="#222" >3,000</text>
<text x="185.6" y="835.7" font-size="10.7" text-anchor="middle" font-weight="normal" font-style="normal" fill="#222" >U-Pb zircon age (Ma)</text>
<text transform="translate(8.0,733.8) rotate(-90)" x="0" y="0" font-size="10.6" text-anchor="middle" fill="#222">Th/U</text>
<line x1="36.8" y1="735.1" x2="312.5" y2="735.1" stroke="#E8585A" stroke-width="1.4"/>
<circle cx="92.1" cy="715.3" r="2.05" fill="#939393" stroke="#2a2a2a" stroke-width="0.55"/>
<circle cx="81.9" cy="724.8" r="2.05" fill="#939393" stroke="#2a2a2a" stroke-width="0.55"/>
<circle cx="67.4" cy="727" r="2.05" fill="#939393" stroke="#2a2a2a" stroke-width="0.55"/>
<circle cx="63.5" cy="735.7" r="2.05" fill="#939393" stroke="#2a2a2a" stroke-width="0.55"/>
<circle cx="71.7" cy="737.2" r="2.05" fill="#939393" stroke="#2a2a2a" stroke-width="0.55"/>
<circle cx="48.7" cy="741.8" r="2.05" fill="#939393" stroke="#2a2a2a" stroke-width="0.55"/>
<circle cx="66.1" cy="743.4" r="2.05" fill="#939393" stroke="#2a2a2a" stroke-width="0.55"/>
<circle cx="61" cy="745.4" r="2.05" fill="#939393" stroke="#2a2a2a" stroke-width="0.55"/>
<circle cx="87.5" cy="743.4" r="2.05" fill="#939393" stroke="#2a2a2a" stroke-width="0.55"/>
<circle cx="135.6" cy="732" r="2.05" fill="#939393" stroke="#2a2a2a" stroke-width="0.55"/>
<circle cx="147" cy="730.8" r="2.05" fill="#939393" stroke="#2a2a2a" stroke-width="0.55"/>
<circle cx="163.1" cy="736.4" r="2.05" fill="#939393" stroke="#2a2a2a" stroke-width="0.55"/>
<circle cx="180.6" cy="745.1" r="2.05" fill="#939393" stroke="#2a2a2a" stroke-width="0.55"/>
<circle cx="199" cy="727.9" r="2.05" fill="#939393" stroke="#2a2a2a" stroke-width="0.55"/>
<circle cx="206.3" cy="727.2" r="2.05" fill="#939393" stroke="#2a2a2a" stroke-width="0.55"/>
<circle cx="76.8" cy="751.4" r="2.05" fill="#939393" stroke="#2a2a2a" stroke-width="0.55"/>
<circle cx="78" cy="761.1" r="2.05" fill="#939393" stroke="#2a2a2a" stroke-width="0.55"/>
<circle cx="95.7" cy="767.2" r="2.05" fill="#939393" stroke="#2a2a2a" stroke-width="0.55"/>
<circle cx="75.3" cy="708.1" r="2.05" fill="#F2C654" stroke="#2a2a2a" stroke-width="0.55"/>
<circle cx="52.8" cy="713.2" r="2.05" fill="#F2C654" stroke="#2a2a2a" stroke-width="0.55"/>
<circle cx="58.9" cy="714.7" r="2.05" fill="#F2C654" stroke="#2a2a2a" stroke-width="0.55"/>
<circle cx="75.8" cy="719.3" r="2.05" fill="#F2C654" stroke="#2a2a2a" stroke-width="0.55"/>
<circle cx="59.6" cy="730.6" r="2.05" fill="#F2C654" stroke="#2a2a2a" stroke-width="0.55"/>
<circle cx="70.7" cy="744.4" r="2.05" fill="#F2C654" stroke="#2a2a2a" stroke-width="0.55"/>
<circle cx="79.3" cy="751.9" r="2.05" fill="#F2C654" stroke="#2a2a2a" stroke-width="0.55"/>
<circle cx="92.1" cy="704.3" r="2.05" fill="#9CDCD8" stroke="#2a2a2a" stroke-width="0.55"/>
<circle cx="78.6" cy="717.8" r="2.05" fill="#9CDCD8" stroke="#2a2a2a" stroke-width="0.55"/>
<circle cx="67.6" cy="720.4" r="2.05" fill="#9CDCD8" stroke="#2a2a2a" stroke-width="0.55"/>
<circle cx="81.9" cy="729.6" r="2.05" fill="#9CDCD8" stroke="#2a2a2a" stroke-width="0.55"/>
<circle cx="74.7" cy="733.6" r="2.05" fill="#9CDCD8" stroke="#2a2a2a" stroke-width="0.55"/>
<circle cx="72.7" cy="743.4" r="2.05" fill="#9CDCD8" stroke="#2a2a2a" stroke-width="0.55"/>
<circle cx="81.7" cy="747.4" r="2.05" fill="#9CDCD8" stroke="#2a2a2a" stroke-width="0.55"/>
<circle cx="149.4" cy="717.1" r="2.05" fill="#9CDCD8" stroke="#2a2a2a" stroke-width="0.55"/>
<circle cx="151.2" cy="726.4" r="2.05" fill="#9CDCD8" stroke="#2a2a2a" stroke-width="0.55"/>
<circle cx="165.9" cy="714.6" r="2.05" fill="#9CDCD8" stroke="#2a2a2a" stroke-width="0.55"/>
<circle cx="275.2" cy="715.3" r="2.05" fill="#9CDCD8" stroke="#2a2a2a" stroke-width="0.55"/>
<circle cx="291.5" cy="710.8" r="2.05" fill="#9CDCD8" stroke="#2a2a2a" stroke-width="0.55"/>
<circle cx="75.3" cy="754.6" r="2.05" fill="#9CDCD8" stroke="#2a2a2a" stroke-width="0.55"/>
<circle cx="95.7" cy="773.3" r="2.05" fill="#9CDCD8" stroke="#2a2a2a" stroke-width="0.55"/>
<circle cx="85" cy="712.5" r="2.05" fill="#4D86CB" stroke="#2a2a2a" stroke-width="0.55"/>
<circle cx="62.7" cy="728" r="2.05" fill="#4D86CB" stroke="#2a2a2a" stroke-width="0.55"/>
<circle cx="135.6" cy="734.3" r="2.05" fill="#4D86CB" stroke="#2a2a2a" stroke-width="0.55"/>
<circle cx="197.2" cy="725.5" r="2.05" fill="#4D86CB" stroke="#2a2a2a" stroke-width="0.55"/>
<circle cx="80.9" cy="762.4" r="2.05" fill="#4D86CB" stroke="#2a2a2a" stroke-width="0.55"/>
<circle cx="93.6" cy="690.2" r="2.05" fill="#065A70" stroke="#2a2a2a" stroke-width="0.55"/>
<circle cx="57.9" cy="697.6" r="2.05" fill="#065A70" stroke="#2a2a2a" stroke-width="0.55"/>
<circle cx="59.6" cy="705" r="2.05" fill="#065A70" stroke="#2a2a2a" stroke-width="0.55"/>
<circle cx="81.9" cy="705.5" r="2.05" fill="#065A70" stroke="#2a2a2a" stroke-width="0.55"/>
<circle cx="65.3" cy="710.7" r="2.05" fill="#065A70" stroke="#2a2a2a" stroke-width="0.55"/>
<circle cx="86" cy="715.8" r="2.05" fill="#065A70" stroke="#2a2a2a" stroke-width="0.55"/>
<circle cx="86" cy="721.9" r="2.05" fill="#065A70" stroke="#2a2a2a" stroke-width="0.55"/>
<circle cx="90.6" cy="721.4" r="2.05" fill="#065A70" stroke="#2a2a2a" stroke-width="0.55"/>
<circle cx="79.3" cy="724.5" r="2.05" fill="#065A70" stroke="#2a2a2a" stroke-width="0.55"/>
<circle cx="81.9" cy="735.2" r="2.05" fill="#065A70" stroke="#2a2a2a" stroke-width="0.55"/>
<circle cx="76.8" cy="748" r="2.05" fill="#065A70" stroke="#2a2a2a" stroke-width="0.55"/>
<circle cx="114" cy="719.7" r="2.05" fill="#065A70" stroke="#2a2a2a" stroke-width="0.55"/>
<circle cx="116.3" cy="722" r="2.05" fill="#065A70" stroke="#2a2a2a" stroke-width="0.55"/>
<circle cx="116.3" cy="740.2" r="2.05" fill="#065A70" stroke="#2a2a2a" stroke-width="0.55"/>
<circle cx="168.7" cy="735.5" r="2.05" fill="#065A70" stroke="#2a2a2a" stroke-width="0.55"/>
<circle cx="171.8" cy="725.8" r="2.05" fill="#065A70" stroke="#2a2a2a" stroke-width="0.55"/>
<circle cx="235.8" cy="718.3" r="2.05" fill="#065A70" stroke="#2a2a2a" stroke-width="0.55"/>
<circle cx="236.6" cy="734.6" r="2.05" fill="#065A70" stroke="#2a2a2a" stroke-width="0.55"/>
<circle cx="78.8" cy="770.3" r="2.05" fill="#065A70" stroke="#2a2a2a" stroke-width="0.55"/>
<circle cx="93.6" cy="765.7" r="2.05" fill="#065A70" stroke="#2a2a2a" stroke-width="0.55"/>
<circle cx="50.2" cy="716.3" r="2.05" fill="#CDBDF2" stroke="#2a2a2a" stroke-width="0.55"/>
<circle cx="57.4" cy="717.3" r="2.05" fill="#CDBDF2" stroke="#2a2a2a" stroke-width="0.55"/>
<circle cx="55.3" cy="719.9" r="2.05" fill="#CDBDF2" stroke="#2a2a2a" stroke-width="0.55"/>
<circle cx="68.6" cy="714.2" r="2.05" fill="#CDBDF2" stroke="#2a2a2a" stroke-width="0.55"/>
<circle cx="64.5" cy="716.3" r="2.05" fill="#CDBDF2" stroke="#2a2a2a" stroke-width="0.55"/>
<circle cx="63" cy="720.1" r="2.05" fill="#CDBDF2" stroke="#2a2a2a" stroke-width="0.55"/>
<circle cx="91.6" cy="712.2" r="2.05" fill="#CDBDF2" stroke="#2a2a2a" stroke-width="0.55"/>
<circle cx="96.7" cy="716.8" r="2.05" fill="#CDBDF2" stroke="#2a2a2a" stroke-width="0.55"/>
<circle cx="108" cy="715.3" r="2.05" fill="#CDBDF2" stroke="#2a2a2a" stroke-width="0.55"/>
<circle cx="103.9" cy="723.4" r="2.05" fill="#CDBDF2" stroke="#2a2a2a" stroke-width="0.55"/>
<circle cx="85" cy="718.6" r="2.05" fill="#CDBDF2" stroke="#2a2a2a" stroke-width="0.55"/>
<circle cx="65.5" cy="724.5" r="2.05" fill="#CDBDF2" stroke="#2a2a2a" stroke-width="0.55"/>
<circle cx="70.7" cy="725.5" r="2.05" fill="#CDBDF2" stroke="#2a2a2a" stroke-width="0.55"/>
<circle cx="72.7" cy="727.5" r="2.05" fill="#CDBDF2" stroke="#2a2a2a" stroke-width="0.55"/>
<circle cx="66.1" cy="731.6" r="2.05" fill="#CDBDF2" stroke="#2a2a2a" stroke-width="0.55"/>
<circle cx="59.2" cy="734.2" r="2.05" fill="#CDBDF2" stroke="#2a2a2a" stroke-width="0.55"/>
<circle cx="78.8" cy="730.6" r="2.05" fill="#CDBDF2" stroke="#2a2a2a" stroke-width="0.55"/>
<circle cx="87.5" cy="730.1" r="2.05" fill="#CDBDF2" stroke="#2a2a2a" stroke-width="0.55"/>
<circle cx="83.4" cy="732.6" r="2.05" fill="#CDBDF2" stroke="#2a2a2a" stroke-width="0.55"/>
<circle cx="63.5" cy="737.7" r="2.05" fill="#CDBDF2" stroke="#2a2a2a" stroke-width="0.55"/>
<circle cx="74.7" cy="737.2" r="2.05" fill="#CDBDF2" stroke="#2a2a2a" stroke-width="0.55"/>
<circle cx="77.8" cy="737.2" r="2.05" fill="#CDBDF2" stroke="#2a2a2a" stroke-width="0.55"/>
<circle cx="89.9" cy="738.5" r="2.05" fill="#CDBDF2" stroke="#2a2a2a" stroke-width="0.55"/>
<circle cx="73.7" cy="740.3" r="2.05" fill="#CDBDF2" stroke="#2a2a2a" stroke-width="0.55"/>
<circle cx="78.6" cy="741.3" r="2.05" fill="#CDBDF2" stroke="#2a2a2a" stroke-width="0.55"/>
<circle cx="76.3" cy="744.4" r="2.05" fill="#CDBDF2" stroke="#2a2a2a" stroke-width="0.55"/>
<circle cx="70.1" cy="746.9" r="2.05" fill="#CDBDF2" stroke="#2a2a2a" stroke-width="0.55"/>
<circle cx="107.9" cy="715.3" r="2.05" fill="#CDBDF2" stroke="#2a2a2a" stroke-width="0.55"/>
<circle cx="195.5" cy="711.5" r="2.05" fill="#CDBDF2" stroke="#2a2a2a" stroke-width="0.55"/>
<circle cx="79.3" cy="762.1" r="2.05" fill="#CDBDF2" stroke="#2a2a2a" stroke-width="0.55"/>
<line x1="277.7" y1="741" x2="277.7" y2="750.4" stroke="#bbb" stroke-width="1.1"/>
<line x1="277.7" y1="754.5" x2="277.7" y2="788.4" stroke="#bbb" stroke-width="1.1"/>
<line x1="277.7" y1="794.2" x2="277.7" y2="803.7" stroke="#bbb" stroke-width="1.1"/>
<circle cx="286.2" cy="745.8" r="2.05" fill="#F2C654" stroke="#333" stroke-width="0.45"/>
<text x="293.8" y="748.7" font-size="7.9" text-anchor="start" font-weight="normal" font-style="normal" fill="#333" >ZUT2</text>
<circle cx="286.2" cy="757.7" r="2.05" fill="#9CDCD8" stroke="#333" stroke-width="0.45"/>
<text x="293.8" y="760.6" font-size="7.9" text-anchor="start" font-weight="normal" font-style="normal" fill="#333" >ZUT3</text>
<circle cx="286.2" cy="766.5" r="2.05" fill="#939393" stroke="#333" stroke-width="0.45"/>
<text x="293.8" y="769.4" font-size="7.9" text-anchor="start" font-weight="normal" font-style="normal" fill="#333" >ZUT4</text>
<circle cx="286.2" cy="775.5" r="2.05" fill="#065A70" stroke="#333" stroke-width="0.45"/>
<text x="293.8" y="778.4" font-size="7.9" text-anchor="start" font-weight="normal" font-style="normal" fill="#333" >ZUT6</text>
<circle cx="286.2" cy="784.3" r="2.05" fill="#4D86CB" stroke="#333" stroke-width="0.45"/>
<text x="293.8" y="787.2" font-size="7.9" text-anchor="start" font-weight="normal" font-style="normal" fill="#333" >ZUT7</text>
<circle cx="286.2" cy="799.0" r="2.05" fill="#CDBDF2" stroke="#333" stroke-width="0.45"/>
<text x="293.8" y="801.9" font-size="7.9" text-anchor="start" font-weight="normal" font-style="normal" fill="#333" >ZUT9</text>
<text x="268.7" y="749.5" font-size="10" text-anchor="end" font-weight="normal" font-style="italic" fill="#222" >TBT</text>
<text x="267.2" y="777.0" font-size="10" text-anchor="end" font-weight="normal" font-style="italic" fill="#222" >VSL</text>
<text x="268.2" y="802.6" font-size="10" text-anchor="end" font-weight="normal" font-style="italic" fill="#222" >GOT</text>
<text x="332.8" y="646.4" font-size="21" text-anchor="start" font-weight="bold" font-style="normal" fill="#111" >(d)</text>
<line x1="428.8" y1="658.9" x2="428.8" y2="811.1" stroke="#9a9a9a" stroke-width="0.9"/>
<line x1="428.3" y1="811.1" x2="667.8" y2="811.1" stroke="#9a9a9a" stroke-width="0.9"/>
<line x1="428.8" y1="659.4" x2="431.2" y2="659.4" stroke="#9a9a9a" stroke-width="0.7"/>
<line x1="428.8" y1="735.5" x2="431.2" y2="735.5" stroke="#9a9a9a" stroke-width="0.7"/>
<line x1="481.9" y1="811.1" x2="481.9" y2="809" stroke="#9a9a9a" stroke-width="0.7"/>
<line x1="574.7" y1="811.1" x2="574.7" y2="809" stroke="#9a9a9a" stroke-width="0.7"/>
<line x1="667.6" y1="811.1" x2="667.6" y2="809" stroke="#9a9a9a" stroke-width="0.7"/>
<text x="421.8" y="663.3" font-size="10" text-anchor="end" font-weight="normal" font-style="normal" fill="#222" >10,000</text>
<text x="421.8" y="739.5" font-size="10" text-anchor="end" font-weight="normal" font-style="normal" fill="#222" >1,000</text>
<text x="421.8" y="815.5" font-size="10" text-anchor="end" font-weight="normal" font-style="normal" fill="#222" >100</text>
<text x="479.0" y="825.3" font-size="10" text-anchor="middle" font-weight="normal" font-style="normal" fill="#222" >100</text>
<text x="574.8" y="825.3" font-size="10" text-anchor="middle" font-weight="normal" font-style="normal" fill="#222" >1,000</text>
<text x="669.5" y="825.3" font-size="10" text-anchor="middle" font-weight="normal" font-style="normal" fill="#222" >10,000</text>
<text x="545.5" y="841.0" font-size="10.7" text-anchor="middle" font-weight="normal" font-style="normal" fill="#222" xml:space="preserve">U  (ppm)</text>
<text transform="translate(388.9,730.4) rotate(-90)" x="0" y="0" font-size="10.4" text-anchor="middle" fill="#222" xml:space="preserve">U-Pb zircon age  (Ma)</text>
<circle cx="484.4" cy="725.5" r="2.05" fill="#939393" stroke="#2a2a2a" stroke-width="0.55"/>
<circle cx="517.8" cy="717.3" r="2.05" fill="#939393" stroke="#2a2a2a" stroke-width="0.55"/>
<circle cx="520.4" cy="716" r="2.05" fill="#939393" stroke="#2a2a2a" stroke-width="0.55"/>
<circle cx="519.5" cy="730.1" r="2.05" fill="#939393" stroke="#2a2a2a" stroke-width="0.55"/>
<circle cx="517.5" cy="752.4" r="2.05" fill="#939393" stroke="#2a2a2a" stroke-width="0.55"/>
<circle cx="576.4" cy="721.3" r="2.05" fill="#939393" stroke="#2a2a2a" stroke-width="0.55"/>
<circle cx="562.8" cy="750.6" r="2.05" fill="#939393" stroke="#2a2a2a" stroke-width="0.55"/>
<circle cx="559.9" cy="755.8" r="2.05" fill="#939393" stroke="#2a2a2a" stroke-width="0.55"/>
<circle cx="530.6" cy="763.7" r="2.05" fill="#939393" stroke="#2a2a2a" stroke-width="0.55"/>
<circle cx="542.8" cy="763.7" r="2.05" fill="#939393" stroke="#2a2a2a" stroke-width="0.55"/>
<circle cx="569.8" cy="762.1" r="2.05" fill="#939393" stroke="#2a2a2a" stroke-width="0.55"/>
<circle cx="575.3" cy="772.9" r="2.05" fill="#939393" stroke="#2a2a2a" stroke-width="0.55"/>
<circle cx="567.2" cy="776.2" r="2.05" fill="#939393" stroke="#2a2a2a" stroke-width="0.55"/>
<circle cx="530.4" cy="772.5" r="2.05" fill="#939393" stroke="#2a2a2a" stroke-width="0.55"/>
<circle cx="592.5" cy="779.1" r="2.05" fill="#939393" stroke="#2a2a2a" stroke-width="0.55"/>
<circle cx="622.6" cy="803.7" r="2.05" fill="#939393" stroke="#2a2a2a" stroke-width="0.55"/>
<circle cx="516.6" cy="763.6" r="2.05" fill="#F2C654" stroke="#2a2a2a" stroke-width="0.55"/>
<circle cx="547.7" cy="767.9" r="2.05" fill="#F2C654" stroke="#2a2a2a" stroke-width="0.55"/>
<circle cx="544.4" cy="773.2" r="2.05" fill="#F2C654" stroke="#2a2a2a" stroke-width="0.55"/>
<circle cx="580.3" cy="777.9" r="2.05" fill="#F2C654" stroke="#2a2a2a" stroke-width="0.55"/>
<circle cx="574.6" cy="782.5" r="2.05" fill="#F2C654" stroke="#2a2a2a" stroke-width="0.55"/>
<circle cx="582.5" cy="782.1" r="2.05" fill="#F2C654" stroke="#2a2a2a" stroke-width="0.55"/>
<circle cx="601.9" cy="776.5" r="2.05" fill="#F2C654" stroke="#2a2a2a" stroke-width="0.55"/>
<circle cx="589.1" cy="793" r="2.05" fill="#F2C654" stroke="#2a2a2a" stroke-width="0.55"/>
<circle cx="456.7" cy="702.5" r="2.05" fill="#9CDCD8" stroke="#2a2a2a" stroke-width="0.55"/>
<circle cx="500.4" cy="704.7" r="2.05" fill="#9CDCD8" stroke="#2a2a2a" stroke-width="0.55"/>
<circle cx="520.8" cy="724.8" r="2.05" fill="#9CDCD8" stroke="#2a2a2a" stroke-width="0.55"/>
<circle cx="497.2" cy="729.4" r="2.05" fill="#9CDCD8" stroke="#2a2a2a" stroke-width="0.55"/>
<circle cx="503.7" cy="728.8" r="2.05" fill="#9CDCD8" stroke="#2a2a2a" stroke-width="0.55"/>
<circle cx="507.3" cy="759.6" r="2.05" fill="#9CDCD8" stroke="#2a2a2a" stroke-width="0.55"/>
<circle cx="523" cy="752.4" r="2.05" fill="#9CDCD8" stroke="#2a2a2a" stroke-width="0.55"/>
<circle cx="524.4" cy="761.6" r="2.05" fill="#9CDCD8" stroke="#2a2a2a" stroke-width="0.55"/>
<circle cx="507.7" cy="766.2" r="2.05" fill="#9CDCD8" stroke="#2a2a2a" stroke-width="0.55"/>
<circle cx="505.4" cy="773" r="2.05" fill="#9CDCD8" stroke="#2a2a2a" stroke-width="0.55"/>
<circle cx="465.6" cy="764.5" r="2.05" fill="#9CDCD8" stroke="#2a2a2a" stroke-width="0.55"/>
<circle cx="559.5" cy="733.2" r="2.05" fill="#9CDCD8" stroke="#2a2a2a" stroke-width="0.55"/>
<circle cx="549.2" cy="750.6" r="2.05" fill="#9CDCD8" stroke="#2a2a2a" stroke-width="0.55"/>
<circle cx="528.4" cy="760.4" r="2.05" fill="#9CDCD8" stroke="#2a2a2a" stroke-width="0.55"/>
<circle cx="538.9" cy="765" r="2.05" fill="#9CDCD8" stroke="#2a2a2a" stroke-width="0.55"/>
<circle cx="521.7" cy="717.6" r="2.05" fill="#4D86CB" stroke="#2a2a2a" stroke-width="0.55"/>
<circle cx="507.7" cy="733.8" r="2.05" fill="#4D86CB" stroke="#2a2a2a" stroke-width="0.55"/>
<circle cx="541.3" cy="757.2" r="2.05" fill="#4D86CB" stroke="#2a2a2a" stroke-width="0.55"/>
<circle cx="559.3" cy="760.4" r="2.05" fill="#4D86CB" stroke="#2a2a2a" stroke-width="0.55"/>
<circle cx="561.9" cy="777.5" r="2.05" fill="#4D86CB" stroke="#2a2a2a" stroke-width="0.55"/>
<circle cx="462.3" cy="710.4" r="2.05" fill="#065A70" stroke="#2a2a2a" stroke-width="0.55"/>
<circle cx="499.1" cy="710.8" r="2.05" fill="#065A70" stroke="#2a2a2a" stroke-width="0.55"/>
<circle cx="522.8" cy="723.1" r="2.05" fill="#065A70" stroke="#2a2a2a" stroke-width="0.55"/>
<circle cx="492.2" cy="740.6" r="2.05" fill="#065A70" stroke="#2a2a2a" stroke-width="0.55"/>
<circle cx="521.1" cy="741.5" r="2.05" fill="#065A70" stroke="#2a2a2a" stroke-width="0.55"/>
<circle cx="502.8" cy="751.8" r="2.05" fill="#065A70" stroke="#2a2a2a" stroke-width="0.55"/>
<circle cx="507.7" cy="751.5" r="2.05" fill="#065A70" stroke="#2a2a2a" stroke-width="0.55"/>
<circle cx="508.1" cy="756.7" r="2.05" fill="#065A70" stroke="#2a2a2a" stroke-width="0.55"/>
<circle cx="519.4" cy="761.3" r="2.05" fill="#065A70" stroke="#2a2a2a" stroke-width="0.55"/>
<circle cx="498.1" cy="771.9" r="2.05" fill="#065A70" stroke="#2a2a2a" stroke-width="0.55"/>
<circle cx="521.1" cy="774.5" r="2.05" fill="#065A70" stroke="#2a2a2a" stroke-width="0.55"/>
<circle cx="485.7" cy="753.5" r="2.05" fill="#065A70" stroke="#2a2a2a" stroke-width="0.55"/>
<circle cx="541.3" cy="724" r="2.05" fill="#065A70" stroke="#2a2a2a" stroke-width="0.55"/>
<circle cx="547.7" cy="740.7" r="2.05" fill="#065A70" stroke="#2a2a2a" stroke-width="0.55"/>
<circle cx="529.1" cy="756.9" r="2.05" fill="#065A70" stroke="#2a2a2a" stroke-width="0.55"/>
<circle cx="543.9" cy="756.8" r="2.05" fill="#065A70" stroke="#2a2a2a" stroke-width="0.55"/>
<circle cx="547.4" cy="758.7" r="2.05" fill="#065A70" stroke="#2a2a2a" stroke-width="0.55"/>
<circle cx="557.3" cy="759.4" r="2.05" fill="#065A70" stroke="#2a2a2a" stroke-width="0.55"/>
<circle cx="535.2" cy="784.1" r="2.05" fill="#065A70" stroke="#2a2a2a" stroke-width="0.55"/>
<circle cx="555.3" cy="782.1" r="2.05" fill="#065A70" stroke="#2a2a2a" stroke-width="0.55"/>
<circle cx="571.8" cy="773.2" r="2.05" fill="#065A70" stroke="#2a2a2a" stroke-width="0.55"/>
<circle cx="581.6" cy="763.7" r="2.05" fill="#065A70" stroke="#2a2a2a" stroke-width="0.55"/>
<circle cx="465" cy="718" r="2.05" fill="#CDBDF2" stroke="#2a2a2a" stroke-width="0.55"/>
<circle cx="506.7" cy="746.2" r="2.05" fill="#CDBDF2" stroke="#2a2a2a" stroke-width="0.55"/>
<circle cx="500.7" cy="749.8" r="2.05" fill="#CDBDF2" stroke="#2a2a2a" stroke-width="0.55"/>
<circle cx="511.6" cy="755" r="2.05" fill="#CDBDF2" stroke="#2a2a2a" stroke-width="0.55"/>
<circle cx="500.7" cy="761.6" r="2.05" fill="#CDBDF2" stroke="#2a2a2a" stroke-width="0.55"/>
<circle cx="523" cy="757.3" r="2.05" fill="#CDBDF2" stroke="#2a2a2a" stroke-width="0.55"/>
<circle cx="475.2" cy="754" r="2.05" fill="#CDBDF2" stroke="#2a2a2a" stroke-width="0.55"/>
<circle cx="564.3" cy="744.4" r="2.05" fill="#CDBDF2" stroke="#2a2a2a" stroke-width="0.55"/>
<circle cx="530.8" cy="753.2" r="2.05" fill="#CDBDF2" stroke="#2a2a2a" stroke-width="0.55"/>
<circle cx="536.3" cy="758.1" r="2.05" fill="#CDBDF2" stroke="#2a2a2a" stroke-width="0.55"/>
<circle cx="535" cy="761.8" r="2.05" fill="#CDBDF2" stroke="#2a2a2a" stroke-width="0.55"/>
<circle cx="548.8" cy="763.5" r="2.05" fill="#CDBDF2" stroke="#2a2a2a" stroke-width="0.55"/>
<circle cx="556.6" cy="762.8" r="2.05" fill="#CDBDF2" stroke="#2a2a2a" stroke-width="0.55"/>
<circle cx="554.7" cy="768.3" r="2.05" fill="#CDBDF2" stroke="#2a2a2a" stroke-width="0.55"/>
<circle cx="561.9" cy="767" r="2.05" fill="#CDBDF2" stroke="#2a2a2a" stroke-width="0.55"/>
<circle cx="572.8" cy="761.1" r="2.05" fill="#CDBDF2" stroke="#2a2a2a" stroke-width="0.55"/>
<circle cx="573.1" cy="765.7" r="2.05" fill="#CDBDF2" stroke="#2a2a2a" stroke-width="0.55"/>
<circle cx="566.8" cy="769.4" r="2.05" fill="#CDBDF2" stroke="#2a2a2a" stroke-width="0.55"/>
<circle cx="556" cy="772.3" r="2.05" fill="#CDBDF2" stroke="#2a2a2a" stroke-width="0.55"/>
<circle cx="558.4" cy="773.2" r="2.05" fill="#CDBDF2" stroke="#2a2a2a" stroke-width="0.55"/>
<circle cx="562.2" cy="771" r="2.05" fill="#CDBDF2" stroke="#2a2a2a" stroke-width="0.55"/>
<circle cx="577.7" cy="774.5" r="2.05" fill="#CDBDF2" stroke="#2a2a2a" stroke-width="0.55"/>
<circle cx="570.7" cy="775.3" r="2.05" fill="#CDBDF2" stroke="#2a2a2a" stroke-width="0.55"/>
<circle cx="563.9" cy="776.2" r="2.05" fill="#CDBDF2" stroke="#2a2a2a" stroke-width="0.55"/>
<circle cx="551.8" cy="775.8" r="2.05" fill="#CDBDF2" stroke="#2a2a2a" stroke-width="0.55"/>
<circle cx="532.3" cy="774.5" r="2.05" fill="#CDBDF2" stroke="#2a2a2a" stroke-width="0.55"/>
<circle cx="591.2" cy="782.5" r="2.05" fill="#CDBDF2" stroke="#2a2a2a" stroke-width="0.55"/>
<circle cx="593" cy="787.8" r="2.05" fill="#CDBDF2" stroke="#2a2a2a" stroke-width="0.55"/>
<circle cx="605.5" cy="769.6" r="2.05" fill="#CDBDF2" stroke="#2a2a2a" stroke-width="0.55"/>
<circle cx="606.1" cy="785.3" r="2.05" fill="#CDBDF2" stroke="#2a2a2a" stroke-width="0.55"/>
<circle cx="600.9" cy="799.4" r="2.05" fill="#CDBDF2" stroke="#2a2a2a" stroke-width="0.55"/>
<circle cx="577.2" cy="774.8" r="2.05" fill="#CDBDF2" stroke="#2a2a2a" stroke-width="0.55"/>
<circle cx="571.3" cy="775.2" r="2.05" fill="#CDBDF2" stroke="#2a2a2a" stroke-width="0.55"/>
<line x1="643.7" y1="677.3" x2="643.7" y2="686.6" stroke="#bbb" stroke-width="1.1"/>
<line x1="643.7" y1="691.2" x2="643.7" y2="724.5" stroke="#bbb" stroke-width="1.1"/>
<line x1="643.7" y1="730.7" x2="643.7" y2="740.2" stroke="#bbb" stroke-width="1.1"/>
<circle cx="652.0" cy="682.2" r="2.05" fill="#F2C654" stroke="#333" stroke-width="0.45"/>
<text x="660.0" y="685.1" font-size="7.9" text-anchor="start" font-weight="normal" font-style="normal" fill="#333" >ZUT2</text>
<circle cx="652.0" cy="694.0" r="2.05" fill="#9CDCD8" stroke="#333" stroke-width="0.45"/>
<text x="660.0" y="696.9" font-size="7.9" text-anchor="start" font-weight="normal" font-style="normal" fill="#333" >ZUT3</text>
<circle cx="652.0" cy="702.7" r="2.05" fill="#939393" stroke="#333" stroke-width="0.45"/>
<text x="660.0" y="705.6" font-size="7.9" text-anchor="start" font-weight="normal" font-style="normal" fill="#333" >ZUT4</text>
<circle cx="652.0" cy="711.6" r="2.05" fill="#065A70" stroke="#333" stroke-width="0.45"/>
<text x="660.0" y="714.5" font-size="7.9" text-anchor="start" font-weight="normal" font-style="normal" fill="#333" >ZUT6</text>
<circle cx="652.0" cy="720.3" r="2.05" fill="#4D86CB" stroke="#333" stroke-width="0.45"/>
<text x="660.0" y="723.2" font-size="7.9" text-anchor="start" font-weight="normal" font-style="normal" fill="#333" >ZUT7</text>
<circle cx="652.0" cy="735.6" r="2.05" fill="#CDBDF2" stroke="#333" stroke-width="0.45"/>
<text x="660.0" y="738.5" font-size="7.9" text-anchor="start" font-weight="normal" font-style="normal" fill="#333" >ZUT9</text>
<text x="634.4" y="685.7" font-size="10" text-anchor="end" font-weight="normal" font-style="italic" fill="#222" >TBT</text>
<text x="633.7" y="712.7" font-size="10" text-anchor="end" font-weight="normal" font-style="italic" fill="#222" >VSL</text>
<text x="634.4" y="739.2" font-size="10" text-anchor="end" font-weight="normal" font-style="italic" fill="#222" >GOT</text>
</svg>
</body></html>
